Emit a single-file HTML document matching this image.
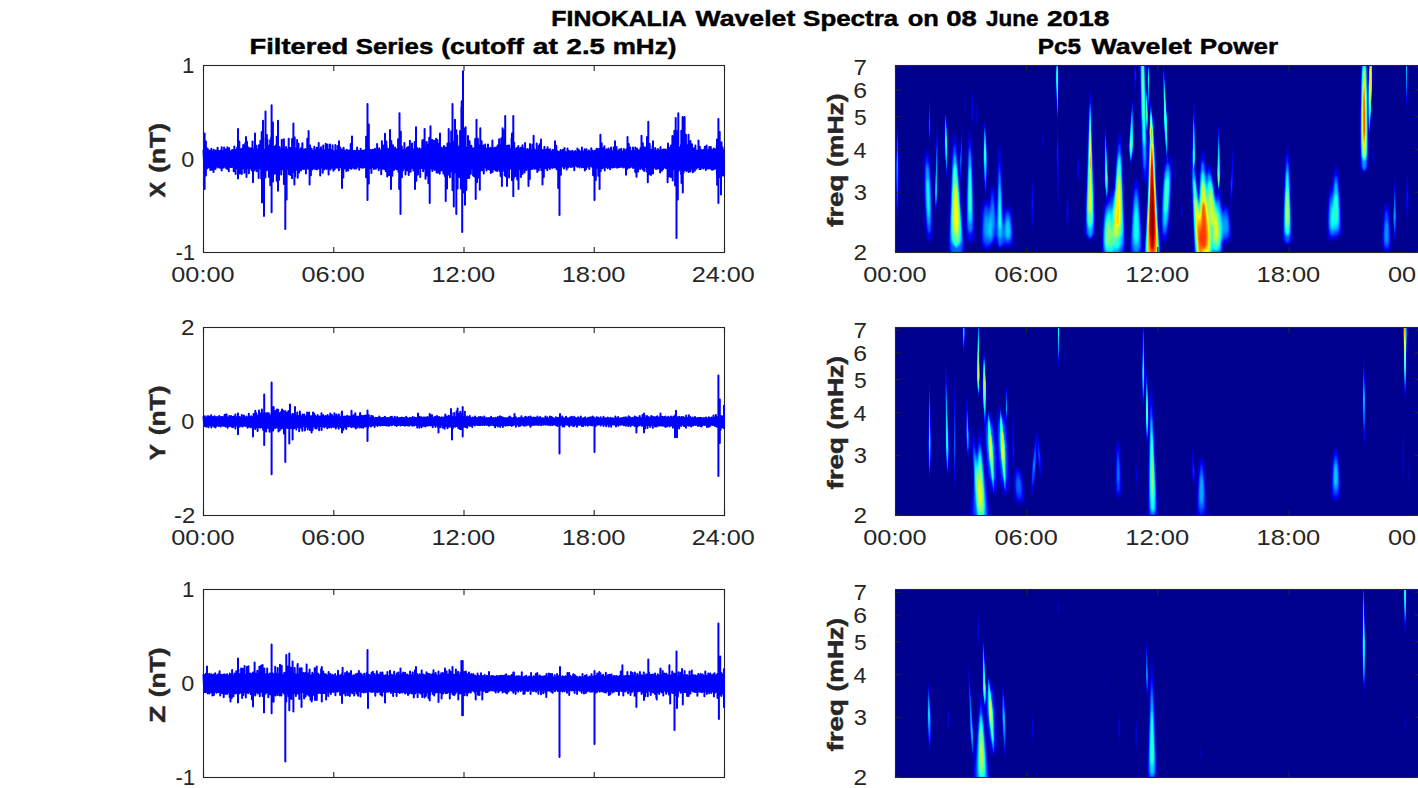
<!DOCTYPE html>
<html><head><meta charset="utf-8"><title>FINOKALIA Wavelet Spectra</title>
<style>
html,body{margin:0;padding:0;background:#fff;overflow:hidden}
svg{display:block;font-family:"Liberation Sans",sans-serif}
</style></head>
<body>
<svg width="1418" height="788" viewBox="0 0 1418 788">
<defs>
<filter id="jet" x="0" y="0" width="1" height="1" color-interpolation-filters="sRGB"><feComponentTransfer><feFuncR type="table" tableValues="0 0 0 0 .5 1 1 1 .5"/><feFuncG type="table" tableValues="0 0 .5 1 1 1 .5 0 0"/><feFuncB type="table" tableValues=".56 1 1 1 .5 0 0 0 0"/><feFuncA type="linear" slope="0" intercept="1"/></feComponentTransfer></filter>
<filter id="bA" x="-0.05" y="-0.2" width="1.1" height="1.4" color-interpolation-filters="sRGB"><feGaussianBlur stdDeviation="0.85 1.4"/></filter>
<filter id="bB" x="-0.05" y="-0.2" width="1.1" height="1.4" color-interpolation-filters="sRGB"><feGaussianBlur stdDeviation="0.4 1.0"/></filter>
<clipPath id="c0"><rect x="895.5" y="65.5" width="524.7" height="187"/></clipPath>
<linearGradient id="g0_00" gradientUnits="userSpaceOnUse" x1="0" y1="116.6" x2="0" y2="235.1"><stop offset="0.00" stop-color="#fff" stop-opacity="0.000"/><stop offset="0.20" stop-color="#fff" stop-opacity="0.090"/><stop offset="0.40" stop-color="#fff" stop-opacity="0.144"/><stop offset="0.70" stop-color="#fff" stop-opacity="0.090"/><stop offset="1.00" stop-color="#fff" stop-opacity="0.000"/></linearGradient>
<linearGradient id="g0_01" gradientUnits="userSpaceOnUse" x1="0" y1="116.6" x2="0" y2="235.1"><stop offset="0.00" stop-color="#fff" stop-opacity="0.000"/><stop offset="0.20" stop-color="#fff" stop-opacity="0.105"/><stop offset="0.40" stop-color="#fff" stop-opacity="0.169"/><stop offset="0.70" stop-color="#fff" stop-opacity="0.105"/><stop offset="1.00" stop-color="#fff" stop-opacity="0.000"/></linearGradient>
<linearGradient id="g0_10" gradientUnits="userSpaceOnUse" x1="0" y1="91.7" x2="0" y2="147.6"><stop offset="0.00" stop-color="#fff" stop-opacity="0.000"/><stop offset="0.30" stop-color="#fff" stop-opacity="0.072"/><stop offset="0.60" stop-color="#fff" stop-opacity="0.116"/><stop offset="0.80" stop-color="#fff" stop-opacity="0.072"/><stop offset="1.00" stop-color="#fff" stop-opacity="0.000"/></linearGradient>
<linearGradient id="g0_11" gradientUnits="userSpaceOnUse" x1="0" y1="91.7" x2="0" y2="147.6"><stop offset="0.00" stop-color="#fff" stop-opacity="0.000"/><stop offset="0.30" stop-color="#fff" stop-opacity="0.081"/><stop offset="0.60" stop-color="#fff" stop-opacity="0.131"/><stop offset="0.80" stop-color="#fff" stop-opacity="0.081"/><stop offset="1.00" stop-color="#fff" stop-opacity="0.000"/></linearGradient>
<linearGradient id="g0_30" gradientUnits="userSpaceOnUse" x1="0" y1="110.5" x2="0" y2="215.3"><stop offset="0.00" stop-color="#fff" stop-opacity="0.000"/><stop offset="0.40" stop-color="#fff" stop-opacity="0.107"/><stop offset="0.80" stop-color="#fff" stop-opacity="0.173"/><stop offset="0.90" stop-color="#fff" stop-opacity="0.107"/><stop offset="1.00" stop-color="#fff" stop-opacity="0.000"/></linearGradient>
<linearGradient id="g0_31" gradientUnits="userSpaceOnUse" x1="0" y1="110.5" x2="0" y2="215.3"><stop offset="0.00" stop-color="#fff" stop-opacity="0.000"/><stop offset="0.40" stop-color="#fff" stop-opacity="0.130"/><stop offset="0.80" stop-color="#fff" stop-opacity="0.210"/><stop offset="0.90" stop-color="#fff" stop-opacity="0.130"/><stop offset="1.00" stop-color="#fff" stop-opacity="0.000"/></linearGradient>
<linearGradient id="g0_40" gradientUnits="userSpaceOnUse" x1="0" y1="107" x2="0" y2="181.3"><stop offset="0.00" stop-color="#fff" stop-opacity="0.000"/><stop offset="0.23" stop-color="#fff" stop-opacity="0.136"/><stop offset="0.45" stop-color="#fff" stop-opacity="0.219"/><stop offset="0.73" stop-color="#fff" stop-opacity="0.136"/><stop offset="1.00" stop-color="#fff" stop-opacity="0.000"/></linearGradient>
<linearGradient id="g0_41" gradientUnits="userSpaceOnUse" x1="0" y1="107" x2="0" y2="181.3"><stop offset="0.00" stop-color="#fff" stop-opacity="0.000"/><stop offset="0.23" stop-color="#fff" stop-opacity="0.174"/><stop offset="0.45" stop-color="#fff" stop-opacity="0.281"/><stop offset="0.73" stop-color="#fff" stop-opacity="0.174"/><stop offset="1.00" stop-color="#fff" stop-opacity="0.000"/></linearGradient>
<linearGradient id="g0_60" gradientUnits="userSpaceOnUse" x1="0" y1="121.4" x2="0" y2="186.1"><stop offset="0.00" stop-color="#fff" stop-opacity="0.000"/><stop offset="0.30" stop-color="#fff" stop-opacity="0.072"/><stop offset="0.60" stop-color="#fff" stop-opacity="0.116"/><stop offset="0.80" stop-color="#fff" stop-opacity="0.072"/><stop offset="1.00" stop-color="#fff" stop-opacity="0.000"/></linearGradient>
<linearGradient id="g0_61" gradientUnits="userSpaceOnUse" x1="0" y1="121.4" x2="0" y2="186.1"><stop offset="0.00" stop-color="#fff" stop-opacity="0.000"/><stop offset="0.30" stop-color="#fff" stop-opacity="0.081"/><stop offset="0.60" stop-color="#fff" stop-opacity="0.131"/><stop offset="0.80" stop-color="#fff" stop-opacity="0.081"/><stop offset="1.00" stop-color="#fff" stop-opacity="0.000"/></linearGradient>
<linearGradient id="g0_70" gradientUnits="userSpaceOnUse" x1="0" y1="92.2" x2="0" y2="117.1"><stop offset="0.00" stop-color="#fff" stop-opacity="0.000"/><stop offset="0.25" stop-color="#fff" stop-opacity="0.043"/><stop offset="0.50" stop-color="#fff" stop-opacity="0.069"/><stop offset="0.75" stop-color="#fff" stop-opacity="0.043"/><stop offset="1.00" stop-color="#fff" stop-opacity="0.000"/></linearGradient>
<linearGradient id="g0_71" gradientUnits="userSpaceOnUse" x1="0" y1="92.2" x2="0" y2="117.1"><stop offset="0.00" stop-color="#fff" stop-opacity="0.000"/><stop offset="0.25" stop-color="#fff" stop-opacity="0.046"/><stop offset="0.50" stop-color="#fff" stop-opacity="0.074"/><stop offset="0.75" stop-color="#fff" stop-opacity="0.046"/><stop offset="1.00" stop-color="#fff" stop-opacity="0.000"/></linearGradient>
<linearGradient id="g0_90" gradientUnits="userSpaceOnUse" x1="0" y1="87.4" x2="0" y2="131.8"><stop offset="0.00" stop-color="#fff" stop-opacity="0.000"/><stop offset="0.25" stop-color="#fff" stop-opacity="0.043"/><stop offset="0.50" stop-color="#fff" stop-opacity="0.069"/><stop offset="0.75" stop-color="#fff" stop-opacity="0.043"/><stop offset="1.00" stop-color="#fff" stop-opacity="0.000"/></linearGradient>
<linearGradient id="g0_91" gradientUnits="userSpaceOnUse" x1="0" y1="87.4" x2="0" y2="131.8"><stop offset="0.00" stop-color="#fff" stop-opacity="0.000"/><stop offset="0.25" stop-color="#fff" stop-opacity="0.046"/><stop offset="0.50" stop-color="#fff" stop-opacity="0.074"/><stop offset="0.75" stop-color="#fff" stop-opacity="0.046"/><stop offset="1.00" stop-color="#fff" stop-opacity="0.000"/></linearGradient>
<linearGradient id="g0_100" gradientUnits="userSpaceOnUse" x1="0" y1="99.6" x2="0" y2="129.3"><stop offset="0.00" stop-color="#fff" stop-opacity="0.000"/><stop offset="0.25" stop-color="#fff" stop-opacity="0.043"/><stop offset="0.50" stop-color="#fff" stop-opacity="0.069"/><stop offset="0.75" stop-color="#fff" stop-opacity="0.043"/><stop offset="1.00" stop-color="#fff" stop-opacity="0.000"/></linearGradient>
<linearGradient id="g0_101" gradientUnits="userSpaceOnUse" x1="0" y1="99.6" x2="0" y2="129.3"><stop offset="0.00" stop-color="#fff" stop-opacity="0.000"/><stop offset="0.25" stop-color="#fff" stop-opacity="0.046"/><stop offset="0.50" stop-color="#fff" stop-opacity="0.074"/><stop offset="0.75" stop-color="#fff" stop-opacity="0.046"/><stop offset="1.00" stop-color="#fff" stop-opacity="0.000"/></linearGradient>
<linearGradient id="g0_110" gradientUnits="userSpaceOnUse" x1="0" y1="117.4" x2="0" y2="202.1"><stop offset="0.00" stop-color="#fff" stop-opacity="0.000"/><stop offset="0.20" stop-color="#fff" stop-opacity="0.136"/><stop offset="0.40" stop-color="#fff" stop-opacity="0.219"/><stop offset="0.70" stop-color="#fff" stop-opacity="0.136"/><stop offset="1.00" stop-color="#fff" stop-opacity="0.000"/></linearGradient>
<linearGradient id="g0_111" gradientUnits="userSpaceOnUse" x1="0" y1="117.4" x2="0" y2="202.1"><stop offset="0.00" stop-color="#fff" stop-opacity="0.000"/><stop offset="0.20" stop-color="#fff" stop-opacity="0.174"/><stop offset="0.40" stop-color="#fff" stop-opacity="0.281"/><stop offset="0.70" stop-color="#fff" stop-opacity="0.174"/><stop offset="1.00" stop-color="#fff" stop-opacity="0.000"/></linearGradient>
<linearGradient id="g0_160" gradientUnits="userSpaceOnUse" x1="0" y1="175" x2="0" y2="233.6"><stop offset="0.00" stop-color="#fff" stop-opacity="0.000"/><stop offset="0.25" stop-color="#fff" stop-opacity="0.047"/><stop offset="0.50" stop-color="#fff" stop-opacity="0.075"/><stop offset="0.75" stop-color="#fff" stop-opacity="0.047"/><stop offset="1.00" stop-color="#fff" stop-opacity="0.000"/></linearGradient>
<linearGradient id="g0_161" gradientUnits="userSpaceOnUse" x1="0" y1="175" x2="0" y2="233.6"><stop offset="0.00" stop-color="#fff" stop-opacity="0.000"/><stop offset="0.25" stop-color="#fff" stop-opacity="0.050"/><stop offset="0.50" stop-color="#fff" stop-opacity="0.081"/><stop offset="0.75" stop-color="#fff" stop-opacity="0.050"/><stop offset="1.00" stop-color="#fff" stop-opacity="0.000"/></linearGradient>
<linearGradient id="g0_170" gradientUnits="userSpaceOnUse" x1="0" y1="131.3" x2="0" y2="150.6"><stop offset="0.00" stop-color="#fff" stop-opacity="0.000"/><stop offset="0.25" stop-color="#fff" stop-opacity="0.029"/><stop offset="0.50" stop-color="#fff" stop-opacity="0.046"/><stop offset="0.75" stop-color="#fff" stop-opacity="0.029"/><stop offset="1.00" stop-color="#fff" stop-opacity="0.000"/></linearGradient>
<linearGradient id="g0_171" gradientUnits="userSpaceOnUse" x1="0" y1="131.3" x2="0" y2="150.6"><stop offset="0.00" stop-color="#fff" stop-opacity="0.000"/><stop offset="0.25" stop-color="#fff" stop-opacity="0.030"/><stop offset="0.50" stop-color="#fff" stop-opacity="0.048"/><stop offset="0.75" stop-color="#fff" stop-opacity="0.030"/><stop offset="1.00" stop-color="#fff" stop-opacity="0.000"/></linearGradient>
<linearGradient id="g0_180" gradientUnits="userSpaceOnUse" x1="0" y1="54.9" x2="0" y2="126"><stop offset="0.00" stop-color="#fff" stop-opacity="0.000"/><stop offset="0.12" stop-color="#fff" stop-opacity="0.179"/><stop offset="0.25" stop-color="#fff" stop-opacity="0.289"/><stop offset="0.62" stop-color="#fff" stop-opacity="0.179"/><stop offset="1.00" stop-color="#fff" stop-opacity="0.000"/></linearGradient>
<linearGradient id="g0_181" gradientUnits="userSpaceOnUse" x1="0" y1="54.9" x2="0" y2="126"><stop offset="0.00" stop-color="#fff" stop-opacity="0.000"/><stop offset="0.12" stop-color="#fff" stop-opacity="0.252"/><stop offset="0.25" stop-color="#fff" stop-opacity="0.406"/><stop offset="0.62" stop-color="#fff" stop-opacity="0.252"/><stop offset="1.00" stop-color="#fff" stop-opacity="0.000"/></linearGradient>
<linearGradient id="g0_190" gradientUnits="userSpaceOnUse" x1="0" y1="118.4" x2="0" y2="225"><stop offset="0.00" stop-color="#fff" stop-opacity="0.000"/><stop offset="0.15" stop-color="#fff" stop-opacity="0.057"/><stop offset="0.30" stop-color="#fff" stop-opacity="0.092"/><stop offset="0.65" stop-color="#fff" stop-opacity="0.057"/><stop offset="1.00" stop-color="#fff" stop-opacity="0.000"/></linearGradient>
<linearGradient id="g0_191" gradientUnits="userSpaceOnUse" x1="0" y1="118.4" x2="0" y2="225"><stop offset="0.00" stop-color="#fff" stop-opacity="0.000"/><stop offset="0.15" stop-color="#fff" stop-opacity="0.063"/><stop offset="0.30" stop-color="#fff" stop-opacity="0.102"/><stop offset="0.65" stop-color="#fff" stop-opacity="0.063"/><stop offset="1.00" stop-color="#fff" stop-opacity="0.000"/></linearGradient>
<linearGradient id="g0_200" gradientUnits="userSpaceOnUse" x1="0" y1="189.7" x2="0" y2="233.6"><stop offset="0.00" stop-color="#fff" stop-opacity="0.000"/><stop offset="0.25" stop-color="#fff" stop-opacity="0.043"/><stop offset="0.50" stop-color="#fff" stop-opacity="0.069"/><stop offset="0.75" stop-color="#fff" stop-opacity="0.043"/><stop offset="1.00" stop-color="#fff" stop-opacity="0.000"/></linearGradient>
<linearGradient id="g0_201" gradientUnits="userSpaceOnUse" x1="0" y1="189.7" x2="0" y2="233.6"><stop offset="0.00" stop-color="#fff" stop-opacity="0.000"/><stop offset="0.25" stop-color="#fff" stop-opacity="0.046"/><stop offset="0.50" stop-color="#fff" stop-opacity="0.074"/><stop offset="0.75" stop-color="#fff" stop-opacity="0.046"/><stop offset="1.00" stop-color="#fff" stop-opacity="0.000"/></linearGradient>
<linearGradient id="g0_210" gradientUnits="userSpaceOnUse" x1="0" y1="150.6" x2="0" y2="184.9"><stop offset="0.00" stop-color="#fff" stop-opacity="0.000"/><stop offset="0.25" stop-color="#fff" stop-opacity="0.036"/><stop offset="0.50" stop-color="#fff" stop-opacity="0.058"/><stop offset="0.75" stop-color="#fff" stop-opacity="0.036"/><stop offset="1.00" stop-color="#fff" stop-opacity="0.000"/></linearGradient>
<linearGradient id="g0_211" gradientUnits="userSpaceOnUse" x1="0" y1="150.6" x2="0" y2="184.9"><stop offset="0.00" stop-color="#fff" stop-opacity="0.000"/><stop offset="0.25" stop-color="#fff" stop-opacity="0.038"/><stop offset="0.50" stop-color="#fff" stop-opacity="0.061"/><stop offset="0.75" stop-color="#fff" stop-opacity="0.038"/><stop offset="1.00" stop-color="#fff" stop-opacity="0.000"/></linearGradient>
<linearGradient id="g0_230" gradientUnits="userSpaceOnUse" x1="0" y1="84.1" x2="0" y2="179.3"><stop offset="0.00" stop-color="#fff" stop-opacity="0.000"/><stop offset="0.42" stop-color="#fff" stop-opacity="0.150"/><stop offset="0.85" stop-color="#fff" stop-opacity="0.243"/><stop offset="0.93" stop-color="#fff" stop-opacity="0.150"/><stop offset="1.00" stop-color="#fff" stop-opacity="0.000"/></linearGradient>
<linearGradient id="g0_231" gradientUnits="userSpaceOnUse" x1="0" y1="84.1" x2="0" y2="179.3"><stop offset="0.00" stop-color="#fff" stop-opacity="0.000"/><stop offset="0.42" stop-color="#fff" stop-opacity="0.199"/><stop offset="0.85" stop-color="#fff" stop-opacity="0.320"/><stop offset="0.93" stop-color="#fff" stop-opacity="0.199"/><stop offset="1.00" stop-color="#fff" stop-opacity="0.000"/></linearGradient>
<linearGradient id="g0_240" gradientUnits="userSpaceOnUse" x1="0" y1="119.1" x2="0" y2="204.7"><stop offset="0.00" stop-color="#fff" stop-opacity="0.000"/><stop offset="0.35" stop-color="#fff" stop-opacity="0.143"/><stop offset="0.70" stop-color="#fff" stop-opacity="0.231"/><stop offset="0.85" stop-color="#fff" stop-opacity="0.143"/><stop offset="1.00" stop-color="#fff" stop-opacity="0.000"/></linearGradient>
<linearGradient id="g0_241" gradientUnits="userSpaceOnUse" x1="0" y1="119.1" x2="0" y2="204.7"><stop offset="0.00" stop-color="#fff" stop-opacity="0.000"/><stop offset="0.35" stop-color="#fff" stop-opacity="0.186"/><stop offset="0.70" stop-color="#fff" stop-opacity="0.300"/><stop offset="0.85" stop-color="#fff" stop-opacity="0.186"/><stop offset="1.00" stop-color="#fff" stop-opacity="0.000"/></linearGradient>
<linearGradient id="g0_280" gradientUnits="userSpaceOnUse" x1="0" y1="94.8" x2="0" y2="166.6"><stop offset="0.00" stop-color="#fff" stop-opacity="0.000"/><stop offset="0.35" stop-color="#fff" stop-opacity="0.150"/><stop offset="0.70" stop-color="#fff" stop-opacity="0.243"/><stop offset="0.85" stop-color="#fff" stop-opacity="0.150"/><stop offset="1.00" stop-color="#fff" stop-opacity="0.000"/></linearGradient>
<linearGradient id="g0_281" gradientUnits="userSpaceOnUse" x1="0" y1="94.8" x2="0" y2="166.6"><stop offset="0.00" stop-color="#fff" stop-opacity="0.000"/><stop offset="0.35" stop-color="#fff" stop-opacity="0.199"/><stop offset="0.70" stop-color="#fff" stop-opacity="0.320"/><stop offset="0.85" stop-color="#fff" stop-opacity="0.199"/><stop offset="1.00" stop-color="#fff" stop-opacity="0.000"/></linearGradient>
<linearGradient id="g0_290" gradientUnits="userSpaceOnUse" x1="0" y1="61.3" x2="0" y2="100.6"><stop offset="0.00" stop-color="#fff" stop-opacity="0.000"/><stop offset="0.15" stop-color="#fff" stop-opacity="0.061"/><stop offset="0.30" stop-color="#fff" stop-opacity="0.098"/><stop offset="0.65" stop-color="#fff" stop-opacity="0.061"/><stop offset="1.00" stop-color="#fff" stop-opacity="0.000"/></linearGradient>
<linearGradient id="g0_291" gradientUnits="userSpaceOnUse" x1="0" y1="61.3" x2="0" y2="100.6"><stop offset="0.00" stop-color="#fff" stop-opacity="0.000"/><stop offset="0.15" stop-color="#fff" stop-opacity="0.067"/><stop offset="0.30" stop-color="#fff" stop-opacity="0.109"/><stop offset="0.65" stop-color="#fff" stop-opacity="0.067"/><stop offset="1.00" stop-color="#fff" stop-opacity="0.000"/></linearGradient>
<linearGradient id="g0_320" gradientUnits="userSpaceOnUse" x1="0" y1="87.4" x2="0" y2="136.1"><stop offset="0.00" stop-color="#fff" stop-opacity="0.000"/><stop offset="0.25" stop-color="#fff" stop-opacity="0.143"/><stop offset="0.50" stop-color="#fff" stop-opacity="0.231"/><stop offset="0.75" stop-color="#fff" stop-opacity="0.143"/><stop offset="1.00" stop-color="#fff" stop-opacity="0.000"/></linearGradient>
<linearGradient id="g0_321" gradientUnits="userSpaceOnUse" x1="0" y1="87.4" x2="0" y2="136.1"><stop offset="0.00" stop-color="#fff" stop-opacity="0.000"/><stop offset="0.25" stop-color="#fff" stop-opacity="0.186"/><stop offset="0.50" stop-color="#fff" stop-opacity="0.300"/><stop offset="0.75" stop-color="#fff" stop-opacity="0.186"/><stop offset="1.00" stop-color="#fff" stop-opacity="0.000"/></linearGradient>
<linearGradient id="g0_330" gradientUnits="userSpaceOnUse" x1="0" y1="61.3" x2="0" y2="114.6"><stop offset="0.00" stop-color="#fff" stop-opacity="0.000"/><stop offset="0.15" stop-color="#fff" stop-opacity="0.129"/><stop offset="0.30" stop-color="#fff" stop-opacity="0.208"/><stop offset="0.65" stop-color="#fff" stop-opacity="0.129"/><stop offset="1.00" stop-color="#fff" stop-opacity="0.000"/></linearGradient>
<linearGradient id="g0_331" gradientUnits="userSpaceOnUse" x1="0" y1="61.3" x2="0" y2="114.6"><stop offset="0.00" stop-color="#fff" stop-opacity="0.000"/><stop offset="0.15" stop-color="#fff" stop-opacity="0.163"/><stop offset="0.30" stop-color="#fff" stop-opacity="0.262"/><stop offset="0.65" stop-color="#fff" stop-opacity="0.163"/><stop offset="1.00" stop-color="#fff" stop-opacity="0.000"/></linearGradient>
<linearGradient id="g0_340" gradientUnits="userSpaceOnUse" x1="0" y1="98.1" x2="0" y2="145"><stop offset="0.00" stop-color="#fff" stop-opacity="0.000"/><stop offset="0.35" stop-color="#fff" stop-opacity="0.168"/><stop offset="0.70" stop-color="#fff" stop-opacity="0.271"/><stop offset="0.85" stop-color="#fff" stop-opacity="0.168"/><stop offset="1.00" stop-color="#fff" stop-opacity="0.000"/></linearGradient>
<linearGradient id="g0_341" gradientUnits="userSpaceOnUse" x1="0" y1="98.1" x2="0" y2="145"><stop offset="0.00" stop-color="#fff" stop-opacity="0.000"/><stop offset="0.35" stop-color="#fff" stop-opacity="0.231"/><stop offset="0.70" stop-color="#fff" stop-opacity="0.373"/><stop offset="0.85" stop-color="#fff" stop-opacity="0.231"/><stop offset="1.00" stop-color="#fff" stop-opacity="0.000"/></linearGradient>
<linearGradient id="g0_370" gradientUnits="userSpaceOnUse" x1="0" y1="57.5" x2="0" y2="167.9"><stop offset="0.00" stop-color="#fff" stop-opacity="0.000"/><stop offset="0.28" stop-color="#fff" stop-opacity="0.161"/><stop offset="0.55" stop-color="#fff" stop-opacity="0.260"/><stop offset="0.78" stop-color="#fff" stop-opacity="0.161"/><stop offset="1.00" stop-color="#fff" stop-opacity="0.000"/></linearGradient>
<linearGradient id="g0_371" gradientUnits="userSpaceOnUse" x1="0" y1="57.5" x2="0" y2="167.9"><stop offset="0.00" stop-color="#fff" stop-opacity="0.000"/><stop offset="0.28" stop-color="#fff" stop-opacity="0.218"/><stop offset="0.55" stop-color="#fff" stop-opacity="0.351"/><stop offset="0.78" stop-color="#fff" stop-opacity="0.218"/><stop offset="1.00" stop-color="#fff" stop-opacity="0.000"/></linearGradient>
<linearGradient id="g0_390" gradientUnits="userSpaceOnUse" x1="0" y1="145.8" x2="0" y2="194.5"><stop offset="0.00" stop-color="#fff" stop-opacity="0.000"/><stop offset="0.25" stop-color="#fff" stop-opacity="0.032"/><stop offset="0.50" stop-color="#fff" stop-opacity="0.052"/><stop offset="0.75" stop-color="#fff" stop-opacity="0.032"/><stop offset="1.00" stop-color="#fff" stop-opacity="0.000"/></linearGradient>
<linearGradient id="g0_391" gradientUnits="userSpaceOnUse" x1="0" y1="145.8" x2="0" y2="194.5"><stop offset="0.00" stop-color="#fff" stop-opacity="0.000"/><stop offset="0.25" stop-color="#fff" stop-opacity="0.034"/><stop offset="0.50" stop-color="#fff" stop-opacity="0.055"/><stop offset="0.75" stop-color="#fff" stop-opacity="0.034"/><stop offset="1.00" stop-color="#fff" stop-opacity="0.000"/></linearGradient>
<linearGradient id="g0_400" gradientUnits="userSpaceOnUse" x1="0" y1="199.3" x2="0" y2="222.4"><stop offset="0.00" stop-color="#fff" stop-opacity="0.000"/><stop offset="0.25" stop-color="#fff" stop-opacity="0.032"/><stop offset="0.50" stop-color="#fff" stop-opacity="0.052"/><stop offset="0.75" stop-color="#fff" stop-opacity="0.032"/><stop offset="1.00" stop-color="#fff" stop-opacity="0.000"/></linearGradient>
<linearGradient id="g0_401" gradientUnits="userSpaceOnUse" x1="0" y1="199.3" x2="0" y2="222.4"><stop offset="0.00" stop-color="#fff" stop-opacity="0.000"/><stop offset="0.25" stop-color="#fff" stop-opacity="0.034"/><stop offset="0.50" stop-color="#fff" stop-opacity="0.055"/><stop offset="0.75" stop-color="#fff" stop-opacity="0.034"/><stop offset="1.00" stop-color="#fff" stop-opacity="0.000"/></linearGradient>
<linearGradient id="g0_410" gradientUnits="userSpaceOnUse" x1="0" y1="97.1" x2="0" y2="171.7"><stop offset="0.00" stop-color="#fff" stop-opacity="0.000"/><stop offset="0.42" stop-color="#fff" stop-opacity="0.143"/><stop offset="0.85" stop-color="#fff" stop-opacity="0.231"/><stop offset="0.93" stop-color="#fff" stop-opacity="0.143"/><stop offset="1.00" stop-color="#fff" stop-opacity="0.000"/></linearGradient>
<linearGradient id="g0_411" gradientUnits="userSpaceOnUse" x1="0" y1="97.1" x2="0" y2="171.7"><stop offset="0.00" stop-color="#fff" stop-opacity="0.000"/><stop offset="0.42" stop-color="#fff" stop-opacity="0.186"/><stop offset="0.85" stop-color="#fff" stop-opacity="0.300"/><stop offset="0.93" stop-color="#fff" stop-opacity="0.186"/><stop offset="1.00" stop-color="#fff" stop-opacity="0.000"/></linearGradient>
<linearGradient id="g0_450" gradientUnits="userSpaceOnUse" x1="0" y1="119.1" x2="0" y2="192"><stop offset="0.00" stop-color="#fff" stop-opacity="0.000"/><stop offset="0.42" stop-color="#fff" stop-opacity="0.150"/><stop offset="0.85" stop-color="#fff" stop-opacity="0.243"/><stop offset="0.93" stop-color="#fff" stop-opacity="0.150"/><stop offset="1.00" stop-color="#fff" stop-opacity="0.000"/></linearGradient>
<linearGradient id="g0_451" gradientUnits="userSpaceOnUse" x1="0" y1="119.1" x2="0" y2="192"><stop offset="0.00" stop-color="#fff" stop-opacity="0.000"/><stop offset="0.42" stop-color="#fff" stop-opacity="0.199"/><stop offset="0.85" stop-color="#fff" stop-opacity="0.320"/><stop offset="0.93" stop-color="#fff" stop-opacity="0.199"/><stop offset="1.00" stop-color="#fff" stop-opacity="0.000"/></linearGradient>
<linearGradient id="g0_480" gradientUnits="userSpaceOnUse" x1="0" y1="141" x2="0" y2="210.3"><stop offset="0.00" stop-color="#fff" stop-opacity="0.000"/><stop offset="0.30" stop-color="#fff" stop-opacity="0.061"/><stop offset="0.60" stop-color="#fff" stop-opacity="0.098"/><stop offset="0.80" stop-color="#fff" stop-opacity="0.061"/><stop offset="1.00" stop-color="#fff" stop-opacity="0.000"/></linearGradient>
<linearGradient id="g0_481" gradientUnits="userSpaceOnUse" x1="0" y1="141" x2="0" y2="210.3"><stop offset="0.00" stop-color="#fff" stop-opacity="0.000"/><stop offset="0.30" stop-color="#fff" stop-opacity="0.067"/><stop offset="0.60" stop-color="#fff" stop-opacity="0.109"/><stop offset="0.80" stop-color="#fff" stop-opacity="0.067"/><stop offset="1.00" stop-color="#fff" stop-opacity="0.000"/></linearGradient>
<linearGradient id="g0_530" gradientUnits="userSpaceOnUse" x1="0" y1="29.5" x2="0" y2="141.7"><stop offset="0.00" stop-color="#fff" stop-opacity="0.000"/><stop offset="0.23" stop-color="#fff" stop-opacity="0.208"/><stop offset="0.45" stop-color="#fff" stop-opacity="0.335"/><stop offset="0.73" stop-color="#fff" stop-opacity="0.208"/><stop offset="1.00" stop-color="#fff" stop-opacity="0.000"/></linearGradient>
<linearGradient id="g0_531" gradientUnits="userSpaceOnUse" x1="0" y1="29.5" x2="0" y2="141.7"><stop offset="0.00" stop-color="#fff" stop-opacity="0.000"/><stop offset="0.23" stop-color="#fff" stop-opacity="0.312"/><stop offset="0.45" stop-color="#fff" stop-opacity="0.504"/><stop offset="0.73" stop-color="#fff" stop-opacity="0.312"/><stop offset="1.00" stop-color="#fff" stop-opacity="0.000"/></linearGradient>
<linearGradient id="g0_540" gradientUnits="userSpaceOnUse" x1="0" y1="141" x2="0" y2="170.2"><stop offset="0.00" stop-color="#fff" stop-opacity="0.000"/><stop offset="0.25" stop-color="#fff" stop-opacity="0.036"/><stop offset="0.50" stop-color="#fff" stop-opacity="0.058"/><stop offset="0.75" stop-color="#fff" stop-opacity="0.036"/><stop offset="1.00" stop-color="#fff" stop-opacity="0.000"/></linearGradient>
<linearGradient id="g0_541" gradientUnits="userSpaceOnUse" x1="0" y1="141" x2="0" y2="170.2"><stop offset="0.00" stop-color="#fff" stop-opacity="0.000"/><stop offset="0.25" stop-color="#fff" stop-opacity="0.038"/><stop offset="0.50" stop-color="#fff" stop-opacity="0.061"/><stop offset="0.75" stop-color="#fff" stop-opacity="0.038"/><stop offset="1.00" stop-color="#fff" stop-opacity="0.000"/></linearGradient>
<linearGradient id="g0_560" gradientUnits="userSpaceOnUse" x1="0" y1="175" x2="0" y2="243.8"><stop offset="0.00" stop-color="#fff" stop-opacity="0.000"/><stop offset="0.30" stop-color="#fff" stop-opacity="0.090"/><stop offset="0.60" stop-color="#fff" stop-opacity="0.144"/><stop offset="0.80" stop-color="#fff" stop-opacity="0.090"/><stop offset="1.00" stop-color="#fff" stop-opacity="0.000"/></linearGradient>
<linearGradient id="g0_561" gradientUnits="userSpaceOnUse" x1="0" y1="175" x2="0" y2="243.8"><stop offset="0.00" stop-color="#fff" stop-opacity="0.000"/><stop offset="0.30" stop-color="#fff" stop-opacity="0.105"/><stop offset="0.60" stop-color="#fff" stop-opacity="0.169"/><stop offset="0.80" stop-color="#fff" stop-opacity="0.105"/><stop offset="1.00" stop-color="#fff" stop-opacity="0.000"/></linearGradient>
<linearGradient id="g0_570" gradientUnits="userSpaceOnUse" x1="0" y1="54.9" x2="0" y2="112"><stop offset="0.00" stop-color="#fff" stop-opacity="0.000"/><stop offset="0.10" stop-color="#fff" stop-opacity="0.107"/><stop offset="0.20" stop-color="#fff" stop-opacity="0.173"/><stop offset="0.60" stop-color="#fff" stop-opacity="0.107"/><stop offset="1.00" stop-color="#fff" stop-opacity="0.000"/></linearGradient>
<linearGradient id="g0_571" gradientUnits="userSpaceOnUse" x1="0" y1="54.9" x2="0" y2="112"><stop offset="0.00" stop-color="#fff" stop-opacity="0.000"/><stop offset="0.10" stop-color="#fff" stop-opacity="0.130"/><stop offset="0.20" stop-color="#fff" stop-opacity="0.210"/><stop offset="0.60" stop-color="#fff" stop-opacity="0.130"/><stop offset="1.00" stop-color="#fff" stop-opacity="0.000"/></linearGradient>
<linearGradient id="g0_580" gradientUnits="userSpaceOnUse" x1="0" y1="167.9" x2="0" y2="224.5"><stop offset="0.00" stop-color="#fff" stop-opacity="0.000"/><stop offset="0.25" stop-color="#fff" stop-opacity="0.047"/><stop offset="0.50" stop-color="#fff" stop-opacity="0.075"/><stop offset="0.75" stop-color="#fff" stop-opacity="0.047"/><stop offset="1.00" stop-color="#fff" stop-opacity="0.000"/></linearGradient>
<linearGradient id="g0_581" gradientUnits="userSpaceOnUse" x1="0" y1="167.9" x2="0" y2="224.5"><stop offset="0.00" stop-color="#fff" stop-opacity="0.000"/><stop offset="0.25" stop-color="#fff" stop-opacity="0.050"/><stop offset="0.50" stop-color="#fff" stop-opacity="0.081"/><stop offset="0.75" stop-color="#fff" stop-opacity="0.050"/><stop offset="1.00" stop-color="#fff" stop-opacity="0.000"/></linearGradient>
<clipPath id="c1"><rect x="895.5" y="327.5" width="524.7" height="188"/></clipPath>
<linearGradient id="g1_00" gradientUnits="userSpaceOnUse" x1="0" y1="373.8" x2="0" y2="484.4"><stop offset="0.00" stop-color="#fff" stop-opacity="0.000"/><stop offset="0.31" stop-color="#fff" stop-opacity="0.118"/><stop offset="0.62" stop-color="#fff" stop-opacity="0.191"/><stop offset="0.81" stop-color="#fff" stop-opacity="0.118"/><stop offset="1.00" stop-color="#fff" stop-opacity="0.000"/></linearGradient>
<linearGradient id="g1_01" gradientUnits="userSpaceOnUse" x1="0" y1="373.8" x2="0" y2="484.4"><stop offset="0.00" stop-color="#fff" stop-opacity="0.000"/><stop offset="0.31" stop-color="#fff" stop-opacity="0.146"/><stop offset="0.62" stop-color="#fff" stop-opacity="0.235"/><stop offset="0.81" stop-color="#fff" stop-opacity="0.146"/><stop offset="1.00" stop-color="#fff" stop-opacity="0.000"/></linearGradient>
<linearGradient id="g1_10" gradientUnits="userSpaceOnUse" x1="0" y1="353" x2="0" y2="481.9"><stop offset="0.00" stop-color="#fff" stop-opacity="0.000"/><stop offset="0.35" stop-color="#fff" stop-opacity="0.129"/><stop offset="0.70" stop-color="#fff" stop-opacity="0.208"/><stop offset="0.85" stop-color="#fff" stop-opacity="0.129"/><stop offset="1.00" stop-color="#fff" stop-opacity="0.000"/></linearGradient>
<linearGradient id="g1_11" gradientUnits="userSpaceOnUse" x1="0" y1="353" x2="0" y2="481.9"><stop offset="0.00" stop-color="#fff" stop-opacity="0.000"/><stop offset="0.35" stop-color="#fff" stop-opacity="0.163"/><stop offset="0.70" stop-color="#fff" stop-opacity="0.262"/><stop offset="0.85" stop-color="#fff" stop-opacity="0.163"/><stop offset="1.00" stop-color="#fff" stop-opacity="0.000"/></linearGradient>
<linearGradient id="g1_20" gradientUnits="userSpaceOnUse" x1="0" y1="366.4" x2="0" y2="494.1"><stop offset="0.00" stop-color="#fff" stop-opacity="0.000"/><stop offset="0.30" stop-color="#fff" stop-opacity="0.072"/><stop offset="0.60" stop-color="#fff" stop-opacity="0.116"/><stop offset="0.80" stop-color="#fff" stop-opacity="0.072"/><stop offset="1.00" stop-color="#fff" stop-opacity="0.000"/></linearGradient>
<linearGradient id="g1_21" gradientUnits="userSpaceOnUse" x1="0" y1="366.4" x2="0" y2="494.1"><stop offset="0.00" stop-color="#fff" stop-opacity="0.000"/><stop offset="0.30" stop-color="#fff" stop-opacity="0.081"/><stop offset="0.60" stop-color="#fff" stop-opacity="0.131"/><stop offset="0.80" stop-color="#fff" stop-opacity="0.081"/><stop offset="1.00" stop-color="#fff" stop-opacity="0.000"/></linearGradient>
<linearGradient id="g1_30" gradientUnits="userSpaceOnUse" x1="0" y1="311.8" x2="0" y2="356.3"><stop offset="0.00" stop-color="#fff" stop-opacity="0.000"/><stop offset="0.20" stop-color="#fff" stop-opacity="0.118"/><stop offset="0.40" stop-color="#fff" stop-opacity="0.191"/><stop offset="0.70" stop-color="#fff" stop-opacity="0.118"/><stop offset="1.00" stop-color="#fff" stop-opacity="0.000"/></linearGradient>
<linearGradient id="g1_31" gradientUnits="userSpaceOnUse" x1="0" y1="311.8" x2="0" y2="356.3"><stop offset="0.00" stop-color="#fff" stop-opacity="0.000"/><stop offset="0.20" stop-color="#fff" stop-opacity="0.146"/><stop offset="0.40" stop-color="#fff" stop-opacity="0.235"/><stop offset="0.70" stop-color="#fff" stop-opacity="0.146"/><stop offset="1.00" stop-color="#fff" stop-opacity="0.000"/></linearGradient>
<linearGradient id="g1_40" gradientUnits="userSpaceOnUse" x1="0" y1="393.3" x2="0" y2="462.1"><stop offset="0.00" stop-color="#fff" stop-opacity="0.000"/><stop offset="0.30" stop-color="#fff" stop-opacity="0.107"/><stop offset="0.60" stop-color="#fff" stop-opacity="0.173"/><stop offset="0.80" stop-color="#fff" stop-opacity="0.107"/><stop offset="1.00" stop-color="#fff" stop-opacity="0.000"/></linearGradient>
<linearGradient id="g1_41" gradientUnits="userSpaceOnUse" x1="0" y1="393.3" x2="0" y2="462.1"><stop offset="0.00" stop-color="#fff" stop-opacity="0.000"/><stop offset="0.30" stop-color="#fff" stop-opacity="0.130"/><stop offset="0.60" stop-color="#fff" stop-opacity="0.210"/><stop offset="0.80" stop-color="#fff" stop-opacity="0.130"/><stop offset="1.00" stop-color="#fff" stop-opacity="0.000"/></linearGradient>
<linearGradient id="g1_50" gradientUnits="userSpaceOnUse" x1="0" y1="306.8" x2="0" y2="399.4"><stop offset="0.00" stop-color="#fff" stop-opacity="0.000"/><stop offset="0.38" stop-color="#fff" stop-opacity="0.179"/><stop offset="0.75" stop-color="#fff" stop-opacity="0.289"/><stop offset="0.88" stop-color="#fff" stop-opacity="0.179"/><stop offset="1.00" stop-color="#fff" stop-opacity="0.000"/></linearGradient>
<linearGradient id="g1_51" gradientUnits="userSpaceOnUse" x1="0" y1="306.8" x2="0" y2="399.4"><stop offset="0.00" stop-color="#fff" stop-opacity="0.000"/><stop offset="0.38" stop-color="#fff" stop-opacity="0.252"/><stop offset="0.75" stop-color="#fff" stop-opacity="0.406"/><stop offset="0.88" stop-color="#fff" stop-opacity="0.252"/><stop offset="1.00" stop-color="#fff" stop-opacity="0.000"/></linearGradient>
<linearGradient id="g1_60" gradientUnits="userSpaceOnUse" x1="0" y1="348.1" x2="0" y2="428.6"><stop offset="0.00" stop-color="#fff" stop-opacity="0.000"/><stop offset="0.23" stop-color="#fff" stop-opacity="0.179"/><stop offset="0.45" stop-color="#fff" stop-opacity="0.289"/><stop offset="0.73" stop-color="#fff" stop-opacity="0.179"/><stop offset="1.00" stop-color="#fff" stop-opacity="0.000"/></linearGradient>
<linearGradient id="g1_61" gradientUnits="userSpaceOnUse" x1="0" y1="348.1" x2="0" y2="428.6"><stop offset="0.00" stop-color="#fff" stop-opacity="0.000"/><stop offset="0.23" stop-color="#fff" stop-opacity="0.252"/><stop offset="0.45" stop-color="#fff" stop-opacity="0.406"/><stop offset="0.73" stop-color="#fff" stop-opacity="0.252"/><stop offset="1.00" stop-color="#fff" stop-opacity="0.000"/></linearGradient>
<linearGradient id="g1_100" gradientUnits="userSpaceOnUse" x1="0" y1="407" x2="0" y2="498.4"><stop offset="0.00" stop-color="#fff" stop-opacity="0.000"/><stop offset="0.20" stop-color="#fff" stop-opacity="0.150"/><stop offset="0.40" stop-color="#fff" stop-opacity="0.243"/><stop offset="0.70" stop-color="#fff" stop-opacity="0.150"/><stop offset="1.00" stop-color="#fff" stop-opacity="0.000"/></linearGradient>
<linearGradient id="g1_101" gradientUnits="userSpaceOnUse" x1="0" y1="407" x2="0" y2="498.4"><stop offset="0.00" stop-color="#fff" stop-opacity="0.000"/><stop offset="0.20" stop-color="#fff" stop-opacity="0.199"/><stop offset="0.40" stop-color="#fff" stop-opacity="0.320"/><stop offset="0.70" stop-color="#fff" stop-opacity="0.199"/><stop offset="1.00" stop-color="#fff" stop-opacity="0.000"/></linearGradient>
<linearGradient id="g1_120" gradientUnits="userSpaceOnUse" x1="0" y1="404.5" x2="0" y2="498.4"><stop offset="0.00" stop-color="#fff" stop-opacity="0.000"/><stop offset="0.20" stop-color="#fff" stop-opacity="0.161"/><stop offset="0.40" stop-color="#fff" stop-opacity="0.260"/><stop offset="0.70" stop-color="#fff" stop-opacity="0.161"/><stop offset="1.00" stop-color="#fff" stop-opacity="0.000"/></linearGradient>
<linearGradient id="g1_121" gradientUnits="userSpaceOnUse" x1="0" y1="404.5" x2="0" y2="498.4"><stop offset="0.00" stop-color="#fff" stop-opacity="0.000"/><stop offset="0.20" stop-color="#fff" stop-opacity="0.218"/><stop offset="0.40" stop-color="#fff" stop-opacity="0.351"/><stop offset="0.70" stop-color="#fff" stop-opacity="0.218"/><stop offset="1.00" stop-color="#fff" stop-opacity="0.000"/></linearGradient>
<linearGradient id="g1_140" gradientUnits="userSpaceOnUse" x1="0" y1="383.4" x2="0" y2="423.5"><stop offset="0.00" stop-color="#fff" stop-opacity="0.000"/><stop offset="0.30" stop-color="#fff" stop-opacity="0.093"/><stop offset="0.60" stop-color="#fff" stop-opacity="0.150"/><stop offset="0.80" stop-color="#fff" stop-opacity="0.093"/><stop offset="1.00" stop-color="#fff" stop-opacity="0.000"/></linearGradient>
<linearGradient id="g1_141" gradientUnits="userSpaceOnUse" x1="0" y1="383.4" x2="0" y2="423.5"><stop offset="0.00" stop-color="#fff" stop-opacity="0.000"/><stop offset="0.30" stop-color="#fff" stop-opacity="0.110"/><stop offset="0.60" stop-color="#fff" stop-opacity="0.177"/><stop offset="0.80" stop-color="#fff" stop-opacity="0.110"/><stop offset="1.00" stop-color="#fff" stop-opacity="0.000"/></linearGradient>
<linearGradient id="g1_150" gradientUnits="userSpaceOnUse" x1="0" y1="407.8" x2="0" y2="476.8"><stop offset="0.00" stop-color="#fff" stop-opacity="0.000"/><stop offset="0.30" stop-color="#fff" stop-opacity="0.054"/><stop offset="0.60" stop-color="#fff" stop-opacity="0.087"/><stop offset="0.80" stop-color="#fff" stop-opacity="0.054"/><stop offset="1.00" stop-color="#fff" stop-opacity="0.000"/></linearGradient>
<linearGradient id="g1_151" gradientUnits="userSpaceOnUse" x1="0" y1="407.8" x2="0" y2="476.8"><stop offset="0.00" stop-color="#fff" stop-opacity="0.000"/><stop offset="0.30" stop-color="#fff" stop-opacity="0.059"/><stop offset="0.60" stop-color="#fff" stop-opacity="0.095"/><stop offset="0.80" stop-color="#fff" stop-opacity="0.059"/><stop offset="1.00" stop-color="#fff" stop-opacity="0.000"/></linearGradient>
<linearGradient id="g1_170" gradientUnits="userSpaceOnUse" x1="0" y1="427.3" x2="0" y2="501.2"><stop offset="0.00" stop-color="#fff" stop-opacity="0.000"/><stop offset="0.25" stop-color="#fff" stop-opacity="0.079"/><stop offset="0.50" stop-color="#fff" stop-opacity="0.127"/><stop offset="0.75" stop-color="#fff" stop-opacity="0.079"/><stop offset="1.00" stop-color="#fff" stop-opacity="0.000"/></linearGradient>
<linearGradient id="g1_171" gradientUnits="userSpaceOnUse" x1="0" y1="427.3" x2="0" y2="501.2"><stop offset="0.00" stop-color="#fff" stop-opacity="0.000"/><stop offset="0.25" stop-color="#fff" stop-opacity="0.090"/><stop offset="0.50" stop-color="#fff" stop-opacity="0.146"/><stop offset="0.75" stop-color="#fff" stop-opacity="0.090"/><stop offset="1.00" stop-color="#fff" stop-opacity="0.000"/></linearGradient>
<linearGradient id="g1_180" gradientUnits="userSpaceOnUse" x1="0" y1="427.3" x2="0" y2="481.9"><stop offset="0.00" stop-color="#fff" stop-opacity="0.000"/><stop offset="0.25" stop-color="#fff" stop-opacity="0.061"/><stop offset="0.50" stop-color="#fff" stop-opacity="0.098"/><stop offset="0.75" stop-color="#fff" stop-opacity="0.061"/><stop offset="1.00" stop-color="#fff" stop-opacity="0.000"/></linearGradient>
<linearGradient id="g1_181" gradientUnits="userSpaceOnUse" x1="0" y1="427.3" x2="0" y2="481.9"><stop offset="0.00" stop-color="#fff" stop-opacity="0.000"/><stop offset="0.25" stop-color="#fff" stop-opacity="0.067"/><stop offset="0.50" stop-color="#fff" stop-opacity="0.109"/><stop offset="0.75" stop-color="#fff" stop-opacity="0.067"/><stop offset="1.00" stop-color="#fff" stop-opacity="0.000"/></linearGradient>
<linearGradient id="g1_190" gradientUnits="userSpaceOnUse" x1="0" y1="311.8" x2="0" y2="369.7"><stop offset="0.00" stop-color="#fff" stop-opacity="0.000"/><stop offset="0.15" stop-color="#fff" stop-opacity="0.129"/><stop offset="0.30" stop-color="#fff" stop-opacity="0.208"/><stop offset="0.65" stop-color="#fff" stop-opacity="0.129"/><stop offset="1.00" stop-color="#fff" stop-opacity="0.000"/></linearGradient>
<linearGradient id="g1_191" gradientUnits="userSpaceOnUse" x1="0" y1="311.8" x2="0" y2="369.7"><stop offset="0.00" stop-color="#fff" stop-opacity="0.000"/><stop offset="0.15" stop-color="#fff" stop-opacity="0.163"/><stop offset="0.30" stop-color="#fff" stop-opacity="0.262"/><stop offset="0.65" stop-color="#fff" stop-opacity="0.163"/><stop offset="1.00" stop-color="#fff" stop-opacity="0.000"/></linearGradient>
<linearGradient id="g1_210" gradientUnits="userSpaceOnUse" x1="0" y1="456.5" x2="0" y2="491.5"><stop offset="0.00" stop-color="#fff" stop-opacity="0.000"/><stop offset="0.25" stop-color="#fff" stop-opacity="0.036"/><stop offset="0.50" stop-color="#fff" stop-opacity="0.058"/><stop offset="0.75" stop-color="#fff" stop-opacity="0.036"/><stop offset="1.00" stop-color="#fff" stop-opacity="0.000"/></linearGradient>
<linearGradient id="g1_211" gradientUnits="userSpaceOnUse" x1="0" y1="456.5" x2="0" y2="491.5"><stop offset="0.00" stop-color="#fff" stop-opacity="0.000"/><stop offset="0.25" stop-color="#fff" stop-opacity="0.038"/><stop offset="0.50" stop-color="#fff" stop-opacity="0.061"/><stop offset="0.75" stop-color="#fff" stop-opacity="0.038"/><stop offset="1.00" stop-color="#fff" stop-opacity="0.000"/></linearGradient>
<linearGradient id="g1_220" gradientUnits="userSpaceOnUse" x1="0" y1="311.8" x2="0" y2="411.3"><stop offset="0.00" stop-color="#fff" stop-opacity="0.000"/><stop offset="0.30" stop-color="#fff" stop-opacity="0.129"/><stop offset="0.60" stop-color="#fff" stop-opacity="0.208"/><stop offset="0.80" stop-color="#fff" stop-opacity="0.129"/><stop offset="1.00" stop-color="#fff" stop-opacity="0.000"/></linearGradient>
<linearGradient id="g1_221" gradientUnits="userSpaceOnUse" x1="0" y1="311.8" x2="0" y2="411.3"><stop offset="0.00" stop-color="#fff" stop-opacity="0.000"/><stop offset="0.30" stop-color="#fff" stop-opacity="0.163"/><stop offset="0.60" stop-color="#fff" stop-opacity="0.262"/><stop offset="0.80" stop-color="#fff" stop-opacity="0.163"/><stop offset="1.00" stop-color="#fff" stop-opacity="0.000"/></linearGradient>
<linearGradient id="g1_230" gradientUnits="userSpaceOnUse" x1="0" y1="366.4" x2="0" y2="447.6"><stop offset="0.00" stop-color="#fff" stop-opacity="0.000"/><stop offset="0.28" stop-color="#fff" stop-opacity="0.161"/><stop offset="0.55" stop-color="#fff" stop-opacity="0.260"/><stop offset="0.78" stop-color="#fff" stop-opacity="0.161"/><stop offset="1.00" stop-color="#fff" stop-opacity="0.000"/></linearGradient>
<linearGradient id="g1_231" gradientUnits="userSpaceOnUse" x1="0" y1="366.4" x2="0" y2="447.6"><stop offset="0.00" stop-color="#fff" stop-opacity="0.000"/><stop offset="0.28" stop-color="#fff" stop-opacity="0.218"/><stop offset="0.55" stop-color="#fff" stop-opacity="0.351"/><stop offset="0.78" stop-color="#fff" stop-opacity="0.218"/><stop offset="1.00" stop-color="#fff" stop-opacity="0.000"/></linearGradient>
<linearGradient id="g1_250" gradientUnits="userSpaceOnUse" x1="0" y1="443.8" x2="0" y2="489.5"><stop offset="0.00" stop-color="#fff" stop-opacity="0.000"/><stop offset="0.30" stop-color="#fff" stop-opacity="0.057"/><stop offset="0.60" stop-color="#fff" stop-opacity="0.092"/><stop offset="0.80" stop-color="#fff" stop-opacity="0.057"/><stop offset="1.00" stop-color="#fff" stop-opacity="0.000"/></linearGradient>
<linearGradient id="g1_251" gradientUnits="userSpaceOnUse" x1="0" y1="443.8" x2="0" y2="489.5"><stop offset="0.00" stop-color="#fff" stop-opacity="0.000"/><stop offset="0.30" stop-color="#fff" stop-opacity="0.063"/><stop offset="0.60" stop-color="#fff" stop-opacity="0.102"/><stop offset="0.80" stop-color="#fff" stop-opacity="0.063"/><stop offset="1.00" stop-color="#fff" stop-opacity="0.000"/></linearGradient>
<linearGradient id="g1_280" gradientUnits="userSpaceOnUse" x1="0" y1="352.5" x2="0" y2="452.7"><stop offset="0.00" stop-color="#fff" stop-opacity="0.000"/><stop offset="0.23" stop-color="#fff" stop-opacity="0.107"/><stop offset="0.45" stop-color="#fff" stop-opacity="0.173"/><stop offset="0.73" stop-color="#fff" stop-opacity="0.107"/><stop offset="1.00" stop-color="#fff" stop-opacity="0.000"/></linearGradient>
<linearGradient id="g1_281" gradientUnits="userSpaceOnUse" x1="0" y1="352.5" x2="0" y2="452.7"><stop offset="0.00" stop-color="#fff" stop-opacity="0.000"/><stop offset="0.23" stop-color="#fff" stop-opacity="0.130"/><stop offset="0.45" stop-color="#fff" stop-opacity="0.210"/><stop offset="0.73" stop-color="#fff" stop-opacity="0.130"/><stop offset="1.00" stop-color="#fff" stop-opacity="0.000"/></linearGradient>
<linearGradient id="g1_290" gradientUnits="userSpaceOnUse" x1="0" y1="289" x2="0" y2="405.8"><stop offset="0.00" stop-color="#fff" stop-opacity="0.000"/><stop offset="0.14" stop-color="#fff" stop-opacity="0.240"/><stop offset="0.28" stop-color="#fff" stop-opacity="0.387"/><stop offset="0.64" stop-color="#fff" stop-opacity="0.240"/><stop offset="1.00" stop-color="#fff" stop-opacity="0.000"/></linearGradient>
<linearGradient id="g1_291" gradientUnits="userSpaceOnUse" x1="0" y1="289" x2="0" y2="405.8"><stop offset="0.00" stop-color="#fff" stop-opacity="0.000"/><stop offset="0.14" stop-color="#fff" stop-opacity="0.391"/><stop offset="0.28" stop-color="#fff" stop-opacity="0.631"/><stop offset="0.64" stop-color="#fff" stop-opacity="0.391"/><stop offset="1.00" stop-color="#fff" stop-opacity="0.000"/></linearGradient>
<linearGradient id="g1_300" gradientUnits="userSpaceOnUse" x1="0" y1="423.5" x2="0" y2="490.8"><stop offset="0.00" stop-color="#fff" stop-opacity="0.000"/><stop offset="0.25" stop-color="#fff" stop-opacity="0.036"/><stop offset="0.50" stop-color="#fff" stop-opacity="0.058"/><stop offset="0.75" stop-color="#fff" stop-opacity="0.036"/><stop offset="1.00" stop-color="#fff" stop-opacity="0.000"/></linearGradient>
<linearGradient id="g1_301" gradientUnits="userSpaceOnUse" x1="0" y1="423.5" x2="0" y2="490.8"><stop offset="0.00" stop-color="#fff" stop-opacity="0.000"/><stop offset="0.25" stop-color="#fff" stop-opacity="0.038"/><stop offset="0.50" stop-color="#fff" stop-opacity="0.061"/><stop offset="0.75" stop-color="#fff" stop-opacity="0.038"/><stop offset="1.00" stop-color="#fff" stop-opacity="0.000"/></linearGradient>
<linearGradient id="g1_310" gradientUnits="userSpaceOnUse" x1="0" y1="454" x2="0" y2="490.8"><stop offset="0.00" stop-color="#fff" stop-opacity="0.000"/><stop offset="0.25" stop-color="#fff" stop-opacity="0.029"/><stop offset="0.50" stop-color="#fff" stop-opacity="0.046"/><stop offset="0.75" stop-color="#fff" stop-opacity="0.029"/><stop offset="1.00" stop-color="#fff" stop-opacity="0.000"/></linearGradient>
<linearGradient id="g1_311" gradientUnits="userSpaceOnUse" x1="0" y1="454" x2="0" y2="490.8"><stop offset="0.00" stop-color="#fff" stop-opacity="0.000"/><stop offset="0.25" stop-color="#fff" stop-opacity="0.030"/><stop offset="0.50" stop-color="#fff" stop-opacity="0.048"/><stop offset="0.75" stop-color="#fff" stop-opacity="0.030"/><stop offset="1.00" stop-color="#fff" stop-opacity="0.000"/></linearGradient>
<clipPath id="c2"><rect x="895.5" y="589.5" width="524.7" height="188"/></clipPath>
<linearGradient id="g2_00" gradientUnits="userSpaceOnUse" x1="0" y1="679.7" x2="0" y2="756.1"><stop offset="0.00" stop-color="#fff" stop-opacity="0.000"/><stop offset="0.23" stop-color="#fff" stop-opacity="0.107"/><stop offset="0.45" stop-color="#fff" stop-opacity="0.173"/><stop offset="0.73" stop-color="#fff" stop-opacity="0.107"/><stop offset="1.00" stop-color="#fff" stop-opacity="0.000"/></linearGradient>
<linearGradient id="g2_01" gradientUnits="userSpaceOnUse" x1="0" y1="679.7" x2="0" y2="756.1"><stop offset="0.00" stop-color="#fff" stop-opacity="0.000"/><stop offset="0.23" stop-color="#fff" stop-opacity="0.130"/><stop offset="0.45" stop-color="#fff" stop-opacity="0.210"/><stop offset="0.73" stop-color="#fff" stop-opacity="0.130"/><stop offset="1.00" stop-color="#fff" stop-opacity="0.000"/></linearGradient>
<linearGradient id="g2_10" gradientUnits="userSpaceOnUse" x1="0" y1="706.3" x2="0" y2="731.2"><stop offset="0.00" stop-color="#fff" stop-opacity="0.000"/><stop offset="0.25" stop-color="#fff" stop-opacity="0.036"/><stop offset="0.50" stop-color="#fff" stop-opacity="0.058"/><stop offset="0.75" stop-color="#fff" stop-opacity="0.036"/><stop offset="1.00" stop-color="#fff" stop-opacity="0.000"/></linearGradient>
<linearGradient id="g2_11" gradientUnits="userSpaceOnUse" x1="0" y1="706.3" x2="0" y2="731.2"><stop offset="0.00" stop-color="#fff" stop-opacity="0.000"/><stop offset="0.25" stop-color="#fff" stop-opacity="0.038"/><stop offset="0.50" stop-color="#fff" stop-opacity="0.061"/><stop offset="0.75" stop-color="#fff" stop-opacity="0.038"/><stop offset="1.00" stop-color="#fff" stop-opacity="0.000"/></linearGradient>
<linearGradient id="g2_20" gradientUnits="userSpaceOnUse" x1="0" y1="659.1" x2="0" y2="763.7"><stop offset="0.00" stop-color="#fff" stop-opacity="0.000"/><stop offset="0.35" stop-color="#fff" stop-opacity="0.100"/><stop offset="0.70" stop-color="#fff" stop-opacity="0.162"/><stop offset="0.85" stop-color="#fff" stop-opacity="0.100"/><stop offset="1.00" stop-color="#fff" stop-opacity="0.000"/></linearGradient>
<linearGradient id="g2_21" gradientUnits="userSpaceOnUse" x1="0" y1="659.1" x2="0" y2="763.7"><stop offset="0.00" stop-color="#fff" stop-opacity="0.000"/><stop offset="0.35" stop-color="#fff" stop-opacity="0.120"/><stop offset="0.70" stop-color="#fff" stop-opacity="0.193"/><stop offset="0.85" stop-color="#fff" stop-opacity="0.120"/><stop offset="1.00" stop-color="#fff" stop-opacity="0.000"/></linearGradient>
<linearGradient id="g2_30" gradientUnits="userSpaceOnUse" x1="0" y1="608.9" x2="0" y2="650.8"><stop offset="0.00" stop-color="#fff" stop-opacity="0.000"/><stop offset="0.25" stop-color="#fff" stop-opacity="0.036"/><stop offset="0.50" stop-color="#fff" stop-opacity="0.058"/><stop offset="0.75" stop-color="#fff" stop-opacity="0.036"/><stop offset="1.00" stop-color="#fff" stop-opacity="0.000"/></linearGradient>
<linearGradient id="g2_31" gradientUnits="userSpaceOnUse" x1="0" y1="608.9" x2="0" y2="650.8"><stop offset="0.00" stop-color="#fff" stop-opacity="0.000"/><stop offset="0.25" stop-color="#fff" stop-opacity="0.038"/><stop offset="0.50" stop-color="#fff" stop-opacity="0.061"/><stop offset="0.75" stop-color="#fff" stop-opacity="0.038"/><stop offset="1.00" stop-color="#fff" stop-opacity="0.000"/></linearGradient>
<linearGradient id="g2_40" gradientUnits="userSpaceOnUse" x1="0" y1="631" x2="0" y2="710.9"><stop offset="0.00" stop-color="#fff" stop-opacity="0.000"/><stop offset="0.35" stop-color="#fff" stop-opacity="0.150"/><stop offset="0.70" stop-color="#fff" stop-opacity="0.243"/><stop offset="0.85" stop-color="#fff" stop-opacity="0.150"/><stop offset="1.00" stop-color="#fff" stop-opacity="0.000"/></linearGradient>
<linearGradient id="g2_41" gradientUnits="userSpaceOnUse" x1="0" y1="631" x2="0" y2="710.9"><stop offset="0.00" stop-color="#fff" stop-opacity="0.000"/><stop offset="0.35" stop-color="#fff" stop-opacity="0.199"/><stop offset="0.70" stop-color="#fff" stop-opacity="0.320"/><stop offset="0.85" stop-color="#fff" stop-opacity="0.199"/><stop offset="1.00" stop-color="#fff" stop-opacity="0.000"/></linearGradient>
<linearGradient id="g2_70" gradientUnits="userSpaceOnUse" x1="0" y1="672.3" x2="0" y2="759.1"><stop offset="0.00" stop-color="#fff" stop-opacity="0.000"/><stop offset="0.21" stop-color="#fff" stop-opacity="0.150"/><stop offset="0.42" stop-color="#fff" stop-opacity="0.243"/><stop offset="0.71" stop-color="#fff" stop-opacity="0.150"/><stop offset="1.00" stop-color="#fff" stop-opacity="0.000"/></linearGradient>
<linearGradient id="g2_71" gradientUnits="userSpaceOnUse" x1="0" y1="672.3" x2="0" y2="759.1"><stop offset="0.00" stop-color="#fff" stop-opacity="0.000"/><stop offset="0.21" stop-color="#fff" stop-opacity="0.199"/><stop offset="0.42" stop-color="#fff" stop-opacity="0.320"/><stop offset="0.71" stop-color="#fff" stop-opacity="0.199"/><stop offset="1.00" stop-color="#fff" stop-opacity="0.000"/></linearGradient>
<linearGradient id="g2_90" gradientUnits="userSpaceOnUse" x1="0" y1="679.7" x2="0" y2="763.2"><stop offset="0.00" stop-color="#fff" stop-opacity="0.000"/><stop offset="0.23" stop-color="#fff" stop-opacity="0.100"/><stop offset="0.45" stop-color="#fff" stop-opacity="0.162"/><stop offset="0.73" stop-color="#fff" stop-opacity="0.100"/><stop offset="1.00" stop-color="#fff" stop-opacity="0.000"/></linearGradient>
<linearGradient id="g2_91" gradientUnits="userSpaceOnUse" x1="0" y1="679.7" x2="0" y2="763.2"><stop offset="0.00" stop-color="#fff" stop-opacity="0.000"/><stop offset="0.23" stop-color="#fff" stop-opacity="0.120"/><stop offset="0.45" stop-color="#fff" stop-opacity="0.193"/><stop offset="0.73" stop-color="#fff" stop-opacity="0.120"/><stop offset="1.00" stop-color="#fff" stop-opacity="0.000"/></linearGradient>
<linearGradient id="g2_100" gradientUnits="userSpaceOnUse" x1="0" y1="706.3" x2="0" y2="748.5"><stop offset="0.00" stop-color="#fff" stop-opacity="0.000"/><stop offset="0.25" stop-color="#fff" stop-opacity="0.036"/><stop offset="0.50" stop-color="#fff" stop-opacity="0.058"/><stop offset="0.75" stop-color="#fff" stop-opacity="0.036"/><stop offset="1.00" stop-color="#fff" stop-opacity="0.000"/></linearGradient>
<linearGradient id="g2_101" gradientUnits="userSpaceOnUse" x1="0" y1="706.3" x2="0" y2="748.5"><stop offset="0.00" stop-color="#fff" stop-opacity="0.000"/><stop offset="0.25" stop-color="#fff" stop-opacity="0.038"/><stop offset="0.50" stop-color="#fff" stop-opacity="0.061"/><stop offset="0.75" stop-color="#fff" stop-opacity="0.038"/><stop offset="1.00" stop-color="#fff" stop-opacity="0.000"/></linearGradient>
<linearGradient id="g2_110" gradientUnits="userSpaceOnUse" x1="0" y1="599.2" x2="0" y2="618.3"><stop offset="0.00" stop-color="#fff" stop-opacity="0.000"/><stop offset="0.25" stop-color="#fff" stop-opacity="0.025"/><stop offset="0.50" stop-color="#fff" stop-opacity="0.040"/><stop offset="0.75" stop-color="#fff" stop-opacity="0.025"/><stop offset="1.00" stop-color="#fff" stop-opacity="0.000"/></linearGradient>
<linearGradient id="g2_111" gradientUnits="userSpaceOnUse" x1="0" y1="599.2" x2="0" y2="618.3"><stop offset="0.00" stop-color="#fff" stop-opacity="0.000"/><stop offset="0.25" stop-color="#fff" stop-opacity="0.026"/><stop offset="0.50" stop-color="#fff" stop-opacity="0.042"/><stop offset="0.75" stop-color="#fff" stop-opacity="0.026"/><stop offset="1.00" stop-color="#fff" stop-opacity="0.000"/></linearGradient>
<linearGradient id="g2_120" gradientUnits="userSpaceOnUse" x1="0" y1="677.9" x2="0" y2="691.9"><stop offset="0.00" stop-color="#fff" stop-opacity="0.000"/><stop offset="0.25" stop-color="#fff" stop-opacity="0.025"/><stop offset="0.50" stop-color="#fff" stop-opacity="0.040"/><stop offset="0.75" stop-color="#fff" stop-opacity="0.025"/><stop offset="1.00" stop-color="#fff" stop-opacity="0.000"/></linearGradient>
<linearGradient id="g2_121" gradientUnits="userSpaceOnUse" x1="0" y1="677.9" x2="0" y2="691.9"><stop offset="0.00" stop-color="#fff" stop-opacity="0.000"/><stop offset="0.25" stop-color="#fff" stop-opacity="0.026"/><stop offset="0.50" stop-color="#fff" stop-opacity="0.042"/><stop offset="0.75" stop-color="#fff" stop-opacity="0.026"/><stop offset="1.00" stop-color="#fff" stop-opacity="0.000"/></linearGradient>
<linearGradient id="g2_130" gradientUnits="userSpaceOnUse" x1="0" y1="705.8" x2="0" y2="747.7"><stop offset="0.00" stop-color="#fff" stop-opacity="0.000"/><stop offset="0.25" stop-color="#fff" stop-opacity="0.036"/><stop offset="0.50" stop-color="#fff" stop-opacity="0.058"/><stop offset="0.75" stop-color="#fff" stop-opacity="0.036"/><stop offset="1.00" stop-color="#fff" stop-opacity="0.000"/></linearGradient>
<linearGradient id="g2_131" gradientUnits="userSpaceOnUse" x1="0" y1="705.8" x2="0" y2="747.7"><stop offset="0.00" stop-color="#fff" stop-opacity="0.000"/><stop offset="0.25" stop-color="#fff" stop-opacity="0.038"/><stop offset="0.50" stop-color="#fff" stop-opacity="0.061"/><stop offset="0.75" stop-color="#fff" stop-opacity="0.038"/><stop offset="1.00" stop-color="#fff" stop-opacity="0.000"/></linearGradient>
<linearGradient id="g2_140" gradientUnits="userSpaceOnUse" x1="0" y1="716" x2="0" y2="752.8"><stop offset="0.00" stop-color="#fff" stop-opacity="0.000"/><stop offset="0.25" stop-color="#fff" stop-opacity="0.036"/><stop offset="0.50" stop-color="#fff" stop-opacity="0.058"/><stop offset="0.75" stop-color="#fff" stop-opacity="0.036"/><stop offset="1.00" stop-color="#fff" stop-opacity="0.000"/></linearGradient>
<linearGradient id="g2_141" gradientUnits="userSpaceOnUse" x1="0" y1="716" x2="0" y2="752.8"><stop offset="0.00" stop-color="#fff" stop-opacity="0.000"/><stop offset="0.25" stop-color="#fff" stop-opacity="0.038"/><stop offset="0.50" stop-color="#fff" stop-opacity="0.061"/><stop offset="0.75" stop-color="#fff" stop-opacity="0.038"/><stop offset="1.00" stop-color="#fff" stop-opacity="0.000"/></linearGradient>
<linearGradient id="g2_150" gradientUnits="userSpaceOnUse" x1="0" y1="637.3" x2="0" y2="700.8"><stop offset="0.00" stop-color="#fff" stop-opacity="0.000"/><stop offset="0.30" stop-color="#fff" stop-opacity="0.093"/><stop offset="0.60" stop-color="#fff" stop-opacity="0.150"/><stop offset="0.80" stop-color="#fff" stop-opacity="0.093"/><stop offset="1.00" stop-color="#fff" stop-opacity="0.000"/></linearGradient>
<linearGradient id="g2_151" gradientUnits="userSpaceOnUse" x1="0" y1="637.3" x2="0" y2="700.8"><stop offset="0.00" stop-color="#fff" stop-opacity="0.000"/><stop offset="0.30" stop-color="#fff" stop-opacity="0.110"/><stop offset="0.60" stop-color="#fff" stop-opacity="0.177"/><stop offset="0.80" stop-color="#fff" stop-opacity="0.110"/><stop offset="1.00" stop-color="#fff" stop-opacity="0.000"/></linearGradient>
<linearGradient id="g2_170" gradientUnits="userSpaceOnUse" x1="0" y1="741.4" x2="0" y2="762.9"><stop offset="0.00" stop-color="#fff" stop-opacity="0.000"/><stop offset="0.25" stop-color="#fff" stop-opacity="0.032"/><stop offset="0.50" stop-color="#fff" stop-opacity="0.052"/><stop offset="0.75" stop-color="#fff" stop-opacity="0.032"/><stop offset="1.00" stop-color="#fff" stop-opacity="0.000"/></linearGradient>
<linearGradient id="g2_171" gradientUnits="userSpaceOnUse" x1="0" y1="741.4" x2="0" y2="762.9"><stop offset="0.00" stop-color="#fff" stop-opacity="0.000"/><stop offset="0.25" stop-color="#fff" stop-opacity="0.034"/><stop offset="0.50" stop-color="#fff" stop-opacity="0.055"/><stop offset="0.75" stop-color="#fff" stop-opacity="0.034"/><stop offset="1.00" stop-color="#fff" stop-opacity="0.000"/></linearGradient>
<linearGradient id="g2_180" gradientUnits="userSpaceOnUse" x1="0" y1="573.8" x2="0" y2="699.5"><stop offset="0.00" stop-color="#fff" stop-opacity="0.000"/><stop offset="0.28" stop-color="#fff" stop-opacity="0.150"/><stop offset="0.55" stop-color="#fff" stop-opacity="0.243"/><stop offset="0.78" stop-color="#fff" stop-opacity="0.150"/><stop offset="1.00" stop-color="#fff" stop-opacity="0.000"/></linearGradient>
<linearGradient id="g2_181" gradientUnits="userSpaceOnUse" x1="0" y1="573.8" x2="0" y2="699.5"><stop offset="0.00" stop-color="#fff" stop-opacity="0.000"/><stop offset="0.28" stop-color="#fff" stop-opacity="0.199"/><stop offset="0.55" stop-color="#fff" stop-opacity="0.320"/><stop offset="0.78" stop-color="#fff" stop-opacity="0.199"/><stop offset="1.00" stop-color="#fff" stop-opacity="0.000"/></linearGradient>
<linearGradient id="g2_190" gradientUnits="userSpaceOnUse" x1="0" y1="568.8" x2="0" y2="638.6"><stop offset="0.00" stop-color="#fff" stop-opacity="0.000"/><stop offset="0.15" stop-color="#fff" stop-opacity="0.161"/><stop offset="0.30" stop-color="#fff" stop-opacity="0.260"/><stop offset="0.65" stop-color="#fff" stop-opacity="0.161"/><stop offset="1.00" stop-color="#fff" stop-opacity="0.000"/></linearGradient>
<linearGradient id="g2_191" gradientUnits="userSpaceOnUse" x1="0" y1="568.8" x2="0" y2="638.6"><stop offset="0.00" stop-color="#fff" stop-opacity="0.000"/><stop offset="0.15" stop-color="#fff" stop-opacity="0.218"/><stop offset="0.30" stop-color="#fff" stop-opacity="0.351"/><stop offset="0.65" stop-color="#fff" stop-opacity="0.218"/><stop offset="1.00" stop-color="#fff" stop-opacity="0.000"/></linearGradient>
<linearGradient id="g2_200" gradientUnits="userSpaceOnUse" x1="0" y1="713.4" x2="0" y2="732.5"><stop offset="0.00" stop-color="#fff" stop-opacity="0.000"/><stop offset="0.25" stop-color="#fff" stop-opacity="0.025"/><stop offset="0.50" stop-color="#fff" stop-opacity="0.040"/><stop offset="0.75" stop-color="#fff" stop-opacity="0.025"/><stop offset="1.00" stop-color="#fff" stop-opacity="0.000"/></linearGradient>
<linearGradient id="g2_201" gradientUnits="userSpaceOnUse" x1="0" y1="713.4" x2="0" y2="732.5"><stop offset="0.00" stop-color="#fff" stop-opacity="0.000"/><stop offset="0.25" stop-color="#fff" stop-opacity="0.026"/><stop offset="0.50" stop-color="#fff" stop-opacity="0.042"/><stop offset="0.75" stop-color="#fff" stop-opacity="0.026"/><stop offset="1.00" stop-color="#fff" stop-opacity="0.000"/></linearGradient>
</defs>
<rect width="1418" height="788" fill="#fff"/>
<rect x="203.5" y="65.5" width="521" height="187" fill="none" stroke="#262626" stroke-width="1.1"/>
<path d="M203.5 252.5v-5.5 M203.5 65.5v5.5 M333.8 252.5v-5.5 M333.8 65.5v5.5 M464 252.5v-5.5 M464 65.5v5.5 M594.2 252.5v-5.5 M594.2 65.5v5.5 M724.5 252.5v-5.5 M724.5 65.5v5.5 M203.5 65.5h5.5 M724.5 65.5h-5.5 M203.5 159h5.5 M724.5 159h-5.5 M203.5 252.5h5.5 M724.5 252.5h-5.5" stroke="#262626" stroke-width="1.1" fill="none"/>
<path d="M203.5 150.8 204.3 167.3 205.2 150.2 206 167.1 206.9 150.8 207.7 167.2 208.6 151.3 209.4 167.1 210.3 150.8 211.1 167.4 212 151.6 212.8 166.7 213.7 151.7 214.5 167.3 215.4 150.9 216.2 166.2 217.1 150.5 217.9 167.5 218.8 151 219.6 167 220.5 151.6 221.3 166.2 222.2 151.1 223 166.2 223.9 151.6 224.7 166.5 225.6 151.8 226.4 166.8 227.3 151.2 228.1 167.3 229 151.1 229.8 167 230.7 151.2 231.5 167.1 232.4 151.2 233.2 166.8 234.1 150.1 234.9 168 235.8 150 236.6 167.9 237.5 150.5 238.3 167.5 239.2 150.2 240 167.6 240.9 149.3 241.7 168.2 242.6 149.1 243.4 168.2 244.3 148.9 245.1 169 246 150.3 246.8 168.1 247.7 148.8 248.5 168.6 249.4 148.6 250.2 168.5 251.1 149.9 251.9 169 252.8 148.7 253.6 168.5 254.5 149.8 255.3 168.7 256.2 148.2 257 169.5 257.9 149.6 258.7 168.7 259.6 149.5 260.4 168.4 261.3 148.3 262.1 168.6 263 148.7 263.8 169.1 264.7 149.4 265.5 169.5 266.4 149.5 267.2 169.4 268.1 149.5 268.9 169 269.8 149.3 270.7 168.8 271.5 148 272.4 169.7 273.2 149.2 274.1 169.8 274.9 149.3 275.8 169 276.6 148.2 277.5 169.4 278.3 149.5 279.2 170 280 149.3 280.9 168.8 281.7 148.4 282.6 168.9 283.4 149.2 284.3 168.4 285.1 149.5 286 169.3 286.8 149.3 287.7 169.3 288.5 149.1 289.4 169.1 290.2 148.1 291.1 169.1 291.9 148.7 292.8 169.8 293.6 149.4 294.5 168.6 295.3 148.2 296.2 169.7 297 149.3 297.9 168.6 298.7 148.5 299.6 169.7 300.4 149.7 301.3 169.5 302.1 148.8 303 168.7 303.8 149.7 304.7 167.7 305.5 150.5 306.4 168.9 307.2 150.2 308.1 168.5 308.9 150.2 309.8 168.6 310.6 149.7 311.5 167.8 312.3 150.4 313.2 168.4 314 150.6 314.9 167.6 315.7 149.9 316.6 168.5 317.4 149.8 318.3 167.7 319.1 149.4 320 167.5 320.8 150.8 321.7 167.6 322.5 150.2 323.4 167.2 324.2 150.6 325.1 167.7 325.9 150.1 326.8 167.3 327.6 150.4 328.5 168.4 329.3 149.5 330.2 168 331 150 331.9 167.7 332.7 151 333.6 166.8 334.4 151.3 335.3 167.8 336.1 150.5 337 167.8 337.8 151.6 338.7 167.1 339.5 151.1 340.4 167.1 341.2 151.4 342.1 167.5 342.9 151.7 343.8 166.9 344.6 150.8 345.5 167.4 346.3 150.8 347.2 167.1 348 150.8 348.9 167.4 349.7 151.4 350.6 167.1 351.4 150.6 352.3 167.3 353.1 151.3 354 167.2 354.8 150.7 355.7 166.9 356.5 151 357.4 166.7 358.2 151.1 359.1 167 359.9 151.7 360.8 167.1 361.6 150.4 362.5 167.5 363.3 150.7 364.2 166.9 365 150.6 365.9 167.2 366.7 150.9 367.6 167.7 368.4 151.4 369.3 167.6 370.1 151.4 371 167.5 371.8 150.6 372.7 167.1 373.5 150.1 374.4 167.6 375.2 150.1 376.1 168.4 376.9 150.5 377.8 167.2 378.6 150.3 379.5 168.3 380.3 150.4 381.2 167.7 382 149.1 382.9 168.5 383.7 149.8 384.6 168.9 385.4 150 386.3 168.6 387.1 150.2 388 168.2 388.8 149.2 389.7 169 390.5 149 391.4 168.2 392.2 149.5 393.1 168.1 393.9 150.1 394.8 168.4 395.6 149 396.5 169 397.3 149.2 398.2 169.2 399 149.8 399.9 168 400.7 149.5 401.6 168.2 402.4 149.9 403.3 168.4 404.1 149.2 405 168.6 405.8 149.7 406.7 169.2 407.5 148.6 408.4 168.6 409.2 150 410.1 167.9 410.9 148.7 411.8 168 412.6 148.9 413.5 168.9 414.3 149.6 415.2 169.2 416 150 416.9 168.2 417.7 149.3 418.6 168 419.4 148.6 420.3 168.4 421.1 149.7 422 168.1 422.8 148.9 423.7 168.8 424.5 148.9 425.4 169.2 426.2 148.6 427.1 169.7 427.9 148.8 428.8 168.4 429.6 149.1 430.5 168.4 431.3 149.8 432.2 168.9 433 148.6 433.9 168.5 434.7 149.4 435.6 168.8 436.4 148.6 437.3 169.1 438.1 148.7 439 169.5 439.8 149.1 440.7 169.6 441.5 148.2 442.4 168.4 443.2 148.1 444.1 169.5 444.9 149.5 445.8 169.3 446.6 148.2 447.5 170.5 448.3 148.2 449.2 170.4 450 146.8 450.9 171.3 451.7 146.2 452.6 170.9 453.4 146.7 454.3 170.4 455.1 146.5 456 171.6 456.8 146.7 457.7 171.4 458.5 147.5 459.4 171.8 460.2 146 461.1 172 461.9 146.9 462.8 171.6 463.6 147.3 464.5 171.8 465.3 146.3 466.2 170.7 467 147.8 467.9 170.9 468.7 147.2 469.6 170.8 470.4 148.1 471.3 168.7 472.1 148.4 473 168 473.8 149.2 474.7 167.7 475.5 150 476.4 168.7 477.2 150.3 478.1 167.7 478.9 149.7 479.8 168.6 480.6 149.2 481.5 168.5 482.3 149.1 483.2 168.2 484 149.1 484.9 167.6 485.7 150.1 486.6 168.5 487.4 149.8 488.3 169 489.1 149 490 168.9 490.8 148.4 491.7 169.2 492.5 149.2 493.4 169 494.2 148.3 495.1 169.8 495.9 149.3 496.8 169.7 497.6 148.1 498.5 169.2 499.3 148.7 500.2 168.7 501 148.8 501.9 169.2 502.7 148.7 503.6 168.4 504.4 148.1 505.3 169.2 506.1 149 507 169.7 507.8 148.7 508.7 169.1 509.5 148.5 510.4 168.4 511.2 148.8 512.1 169 512.9 148.1 513.8 169.9 514.6 149.2 515.5 169.1 516.3 149.5 517.2 169 518 148.3 518.9 169.8 519.7 148.9 520.6 168.8 521.4 149.5 522.3 169.1 523.1 148.5 524 168.1 524.8 149 525.7 167.7 526.5 150.1 527.4 167.9 528.2 149.5 529.1 167.9 529.9 150 530.8 168.3 531.6 150.5 532.5 168.5 533.3 150.5 534.2 168.1 535 150.3 535.9 167.6 536.7 149.9 537.6 167.9 538.4 150.2 539.3 167.8 540.1 150 541 167.4 541.8 150.5 542.7 168.1 543.5 149.9 544.4 167.9 545.2 149.7 546.1 168 546.9 149.7 547.8 167.4 548.6 150 549.5 168 550.3 150.1 551.2 167 552 151.2 552.9 167.5 553.7 151.6 554.6 167.3 555.4 151 556.3 165.9 557.1 152 558 166.7 558.8 151.9 559.7 165.9 560.5 151.2 561.4 166.3 562.2 151.3 563.1 165.9 563.9 151.8 564.8 166.6 565.6 152.2 566.5 166 567.3 151.4 568.2 166.9 569 151 569.9 165.9 570.7 151.6 571.6 166.7 572.4 151.6 573.3 166.6 574.1 152 575 165.8 575.8 152.1 576.7 165.8 577.5 151.6 578.4 166.4 579.2 151.5 580.1 165.9 580.9 152 581.8 166 582.6 151.2 583.5 167 584.3 151.1 585.2 165.9 586 152.2 586.9 166.9 587.7 151.7 588.6 166.7 589.4 151.8 590.3 166.3 591.1 151.5 592 166.4 592.8 151.3 593.7 166 594.5 151 595.4 167.2 596.2 151.6 597.1 166.8 597.9 150.8 598.8 166.7 599.6 151.6 600.5 166.4 601.3 151.1 602.2 166.2 603 150.6 603.9 167.2 604.7 150.9 605.6 167.3 606.4 151 607.3 166.7 608.1 151 609 166.8 609.8 150.5 610.7 167.2 611.5 151.5 612.4 167.4 613.2 150.8 614.1 167.2 614.9 150.7 615.8 166.7 616.6 150.6 617.5 167.3 618.3 150.9 619.2 167.2 620 150.8 620.9 166.7 621.7 150.9 622.6 166.3 623.4 151.4 624.3 166.8 625.1 151.8 626 166.6 626.8 151 627.7 167 628.5 151.5 629.4 167.4 630.2 150.9 631.1 166.6 631.9 151 632.8 166.9 633.6 151.1 634.5 166.7 635.3 150.5 636.2 167 637 150.9 637.9 167.2 638.7 150.4 639.6 166.4 640.4 150.6 641.3 167.7 642.1 150.9 643 167.5 643.8 150.9 644.7 167.3 645.5 150.4 646.4 167.2 647.2 150.6 648.1 168.4 648.9 150.2 649.8 167.8 650.6 149.5 651.5 167.9 652.3 149.5 653.2 168 654 149.8 654.9 167.1 655.7 150.1 656.6 168.1 657.4 150.9 658.3 168.4 659.1 150.7 660 167.7 660.8 150.7 661.7 167.8 662.5 150.1 663.4 167.1 664.2 149.6 665.1 167.6 665.9 150.2 666.8 167.9 667.6 150.4 668.5 167.7 669.3 149.2 670.2 169.1 671 148.9 671.9 170.4 672.7 148.3 673.6 169.2 674.4 148.4 675.3 169.3 676.1 148.5 677 170.6 677.8 148.1 678.7 170.8 679.5 147.5 680.4 169.3 681.2 147 682.1 170.9 682.9 148.7 683.8 170.8 684.6 148 685.5 170 686.3 147 687.2 169.6 688 147.9 688.9 170.5 689.7 148.3 690.6 168.9 691.4 148.7 692.3 168.6 693.1 150.1 694 167.2 694.8 150.1 695.7 167.7 696.5 150.7 697.4 167.1 698.2 150.2 699.1 167.2 699.9 150.3 700.8 168 701.6 150.3 702.5 167.4 703.3 150.1 704.2 167.6 705 149.8 705.9 167.8 706.7 149.5 707.6 168.4 708.4 149.9 709.3 167.4 710.1 150.8 711 168.3 711.8 149.8 712.7 167.9 713.5 150.4 714.4 167.5 715.2 149.8 716.1 168.1 716.9 149.8 717.8 168.4 718.6 149.4 719.5 167.8 720.3 150.2 721.2 169 722 149.1 722.9 168.8 723.7 150.5M204.2 159V149.7M206.2 159V147.9M207.6 159V148.5M209 159V150.5M211.4 159V148.7M213.7 159V149.7M215.8 159V150.4M217.6 159V147.8M220.3 159V150.8M221.7 159V147.3M224.1 159V147.6M225.7 159V149.5M227.4 159V147.3M229.2 159V148.3M232.2 159V149.9M234.3 159V146.4M237.2 159V147.6M239 159V149M241.8 159V148.8M243.2 159V144.9M245.2 159V143.2M247 159V141.8M248.4 159V147.6M250.8 159V148.2M252.5 159V141.6M254.9 159V146.5M256.4 159V145.7M258.9 159V145.3M260.4 159V140.8M262.6 159V137.5M265.4 159V137.6M267.4 159V139.5M269.2 159V145.8M271.1 159V137.4M273.9 159V146.5M275.8 159V145.4M277.6 159V145.1M279.5 159V146.9M281.8 159V139.8M283.9 159V139.3M286.1 159V147.1M288.7 159V138.7M290.4 159V147.9M292.5 159V143.5M294.7 159V137.5M297.1 159V140M298.5 159V143.7M301 159V148.3M302.4 159V143.3M305.2 159V149.1M307.5 159V148.9M310.1 159V145.6M311.7 159V148.7M314.3 159V146.8M316.8 159V147.8M318.7 159V142.9M321 159V147.2M323.2 159V145.4M325.7 159V143.7M327.6 159V144.6M330 159V144.4M332.6 159V145.3M335.4 159V145M337.7 159V148.6M340.2 159V147.4M342.1 159V149.6M343.6 159V147.8M346.6 159V149.8M348.1 159V150.5M350.1 159V150.1M353 159V150.8M354.8 159V150.7M357.1 159V147.6M358.7 159V150.8M360.7 159V148.7M363.5 159V150.7M364.9 159V150.2M366.5 159V150M369 159V148M370.6 159V149.9M372.4 159V149.7M374.9 159V148.7M377.1 159V144M379.2 159V148.3M381.9 159V141.2M383.7 159V145.4M386.6 159V145.9M388.2 159V148.9M391.1 159V142.3M393 159V145.3M395.1 159V147.5M398.1 159V143.8M399.7 159V148.8M401.8 159V146.6M404.4 159V143M406.7 159V148.1M408.2 159V146.9M409.9 159V140.8M412 159V143.6M414.9 159V147.2M417.1 159V147.9M419.7 159V148.4M422.3 159V140.5M424.9 159V148.1M426.7 159V142.1M428.1 159V144.8M430.1 159V138.5M432.4 159V139.9M434.1 159V140.8M436.1 159V138.8M437.5 159V140.1M439.1 159V143.8M441.2 159V147.4M443.9 159V146.1M445.7 159V147.5M447.5 159V143.4M449.9 159V143.7M452.3 159V145.4M454.3 159V141.5M457.2 159V135.4M459.5 159V145.8M461.4 159V137.6M463.1 159V140M465.1 159V145.8M468 159V136M469.6 159V141.2M471.4 159V145.8M473.5 159V148.2M475.4 159V148.1M477.7 159V148.7M479.3 159V145.7M481.1 159V143.8M483.3 159V145.6M485.2 159V144.5M486.6 159V148.7M488 159V144.4M490.4 159V147.7M492.4 159V140.4M494.6 159V147.8M496.3 159V147.5M497.7 159V145.5M499.1 159V139.2M501.1 159V144.4M503.4 159V141.3M506.1 159V145.7M507.9 159V145.4M509.2 159V145.5M511.6 159V138.3M514.2 159V142.7M516.5 159V148.1M518.3 159V146.1M520.6 159V147.8M522.5 159V145.3M525.1 159V143.1M527.4 159V148.9M530 159V144M532.2 159V148.2M534.3 159V149.2M536.7 159V143.6M538.8 159V146M541.5 159V149.2M544.4 159V146.8M546 159V149.7M547.6 159V147.3M550.1 159V149.3M552.9 159V149.8M554.9 159V151.1M557.8 159V151.3M560.6 159V149.9M562.8 159V149.8M564.5 159V148M567.5 159V148.5M569.7 159V151.3M572.4 159V150.8M575.2 159V151M577.4 159V148.5M578.9 159V149.9M580.3 159V151.4M581.9 159V147.6M584.7 159V149.3M586.5 159V149.3M589 159V150.5M591.3 159V148.3M592.5 159V150.8M594.6 159V150.8M596.5 159V148.8M598 159V149.1M599.7 159V148.8M601.5 159V148.3M602.9 159V148.2M604.4 159V146.2M606.6 159V149.3M608.6 159V148.4M611 159V147.5M613.5 159V149.2M616.5 159V146.9M619.2 159V149.5M621.2 159V148.7M623.9 159V148.9M626.1 159V149.4M628.9 159V149.9M630.2 159V147.6M633 159V147.5M635.3 159V147.4M637 159V148.4M638.4 159V150.5M640.4 159V148.3M642.3 159V150M644.8 159V147.2M646.4 159V148.6M648.3 159V149M649.7 159V143.9M652.6 159V146.1M655.3 159V147.9M657.9 159V149.1M660.5 159V146.9M663.3 159V149.6M665.9 159V149.5M668 159V143.5M669.3 159V147.8M671 159V145.5M672.4 159V136M675 159V143.7M676.9 159V141.3M678.2 159V146.8M681 159V144.8M683.1 159V135.9M686 159V143M687.6 159V145M690.4 159V140.9M692 159V144.2M693.8 159V148.2M695.4 159V145.5M698.3 159V149.5M700.7 159V149.5M703.4 159V149.9M704.8 159V146.8M706.6 159V145.6M709.3 159V146.9M710.8 159V147M713.7 159V148.5M715 159V149.2M716.8 159V145.5M718.4 159V148.7M720.1 159V145.3M722.6 159V147.6M205.9 159V169.9M207.5 159V168.3M210.3 159V170.1M212.1 159V169.8M213.5 159V172M215.5 159V169M217.6 159V167.1M219.9 159V167.8M221.6 159V170.6M223 159V167.8M225.5 159V167.7M227.2 159V169.1M228.8 159V171.3M231.7 159V167.1M233.7 159V171.3M235.6 159V174M237.7 159V169M239.9 159V173.6M241.8 159V174M244.4 159V172.8M246.5 159V177.1M248.9 159V173.3M251.8 159V170.4M254.3 159V170.5M256.6 159V171.2M258.6 159V178M261.2 159V178.5M262.9 159V174.2M264.5 159V175.3M266.6 159V170.2M268.9 159V177.1M271.1 159V179.6M272.6 159V170.8M273.9 159V174.1M275.9 159V173.5M277.6 159V178.3M279 159V179.9M281.2 159V174.6M283.8 159V171.4M285.3 159V172M286.6 159V172M288.9 159V174.3M290.6 159V175.1M292 159V178.3M293.6 159V171.5M295.1 159V176.4M297.7 159V177.7M299.1 159V172.6M301 159V170.4M303.9 159V169M305.9 159V173.5M308.9 159V169M310.9 159V173.2M312.2 159V169.4M315 159V168.9M316.9 159V169.6M318.9 159V168.6M320.2 159V175.4M322.7 159V172.7M324.4 159V169.2M326.6 159V169.1M328.6 159V174.4M330.5 159V169.5M333.4 159V170.8M334.7 159V169.2M337 159V167.5M338.9 159V170.2M341.6 159V169.3M344.4 159V168.6M346.3 159V170.9M348.2 159V170.5M349.8 159V168.1M351.4 159V169.1M352.9 159V167.5M354.5 159V168.7M356.3 159V168.6M359.2 159V169.8M361.9 159V167.7M363.8 159V167.4M366.3 159V168.6M368 159V167.5M369.5 159V168.3M371.4 159V172.9M373.9 159V168.9M375.8 159V168.7M378.6 159V170.3M381.2 159V174.3M384 159V169M385.8 159V171.2M387.2 159V176.6M389 159V175.3M391.1 159V169.2M393 159V170.2M394.3 159V169.7M396.6 159V169.2M398.4 159V171.8M400.5 159V169.7M403 159V170.5M405.5 159V174.5M407 159V170.2M408.7 159V175.1M410.6 159V171.7M413.4 159V170.5M415.1 159V171.5M416.7 159V169.6M418 159V174.5M420.2 159V176.9M423.1 159V171.3M425.5 159V178.7M427.1 159V175.6M429.5 159V179.4M432.3 159V171M434.6 159V170.1M436.6 159V172.5M437.9 159V172.4M439.7 159V173.7M441.4 159V170.6M443.4 159V173.6M444.9 159V176M446.6 159V170.8M448.4 159V174.4M449.9 159V177.3M452.4 159V177.8M454.8 159V172.2M456.7 159V175.2M458.1 159V175.7M459.4 159V177M461.7 159V176.6M463.5 159V173.9M464.7 159V175M467.5 159V178M469.2 159V178.1M470.8 159V173.7M473.1 159V175.4M474.9 159V171M477.8 159V172.5M480.1 159V171.5M482.1 159V170.2M483.8 159V173.4M486.5 159V170.6M489.3 159V169.5M490.8 159V173.1M492.6 159V172.1M495.5 159V170.5M497.1 159V171M499.5 159V171.1M500.7 159V174M502.6 159V171.1M504.7 159V175.2M506.9 159V174.9M509.1 159V177.6M512 159V171.9M513.8 159V178.3M515.6 159V176M518.1 159V175.7M520.9 159V177M522.5 159V173.9M524.6 159V172.6M526.4 159V170M529 159V171.1M530.6 159V169.3M532.4 159V169M534.5 159V168.7M535.9 159V168.5M537.3 159V172M538.8 159V170.2M541.3 159V170.3M542.8 159V173.1M545.6 159V168.2M547.3 159V170.3M549.9 159V169.1M552.3 159V167.9M554.8 159V167.6M556.6 159V169.2M559.3 159V169.5M561.5 159V167.6M564 159V168.5M566.6 159V169.4M568.1 159V167.5M570.5 159V167M572 159V166.5M574.3 159V170.2M577.2 159V166.7M579.6 159V167.6M581.9 159V167.5M584.8 159V170.4M586.1 159V168.9M587.5 159V166.6M589.3 159V169M592.2 159V166.9M594 159V166.9M596.2 159V168.7M598.1 159V167.9M600.7 159V170.9M602.4 159V168.3M604.7 159V170.5M607.7 159V168.3M610.1 159V169.2M612.7 159V167.4M614.2 159V167.3M617.1 159V167.8M619.2 159V167.3M621 159V167.1M623.2 159V167.4M625.5 159V167.9M627.1 159V168.9M629 159V167.8M630.3 159V167.2M633.1 159V168.1M634.5 159V167.6M636.6 159V172.5M638.1 159V171.5M640.2 159V169.1M642.8 159V169.6M644.2 159V171M646.6 159V171.5M648.3 159V174.4M651 159V174.9M653 159V173.4M655.5 159V168.7M656.8 159V168.7M658.2 159V168.3M660.1 159V172.6M661.9 159V170.7M663.1 159V168.9M666 159V168.2M668.2 159V173.5M670.8 159V177.1M672.7 159V180.4M675.3 159V179.6M678.3 159V171.5M681.1 159V174.2M683.6 159V172.6M686.4 159V171.1M688.6 159V171.9M690.5 159V171.5M692.9 159V172.2M694.8 159V170.8M696.6 159V168.8M699.4 159V169M700.8 159V169.1M703.3 159V168.5M705.8 159V170.1M708.2 159V168.4M709.7 159V168.3M711.5 159V169.4M712.8 159V169.8M714.7 159V169.1M716.9 159V174.7M718.5 159V174.7M720.3 159V173.5M721.7 159V175.9M723.7 159V175.6M204.6 159V133.4M205.9 159V141.5M238 159V129.1M239.3 159V141.6M246 159V137.1M255 159V133.4M263 159V120.7M261.7 159V132.1M265.5 159V111.4M266.8 159V135M271.6 159V105.3M272.9 159V122.5M270.2 159V140.3M278 159V120.7M276.7 159V136.7M293.4 159V123.5M292.1 159V139.1M308.6 159V131M307.3 159V138.8M339 159V141.3M337.7 159V146M352 159V136.6M350.7 159V144M367.5 159V103.9M368.8 159V124.6M366.1 159V136.8M385 159V133.8M386.3 159V141.4M390 159V130.1M391.3 159V141.1M399.5 159V113.2M400.8 159V131.7M398.1 159V139.3M416 159V127.3M414.7 159V141.9M424.6 159V129.1M423.3 159V140M430.5 159V126.3M429.2 159V137.7M440 159V133.4M448.7 159V129.1M452.5 159V103.9M451.2 159V131.5M455 159V119.8M456.3 159V130.3M461.4 159V107.6M460.1 159V130.9M463 159V71.2M461.7 159V101.3M464.4 159V128.8M465.6 159V127.3M476.5 159V119.8M475.2 159V139.1M477.9 159V138.8M480.3 159V128.2M481.6 159V141.3M502.6 159V128.2M501.3 159V138.2M505.2 159V116.1M503.9 159V130.5M513.3 159V116.1M512 159V133.5M533.6 159V135.7M532.3 159V144.8M541 159V139.4M539.7 159V144.2M555 159V141.3M556.3 159V145.7M600.4 159V134.8M601.7 159V143.2M615 159V141.3M613.7 159V147.2M627.5 159V137.1M628.8 159V143.9M641.5 159V135.7M642.8 159V143.3M648.3 159V121.7M647 159V137.1M649.7 159V144M653 159V141.3M675.7 159V117.9M674.4 159V130.8M678.3 159V113.2M677 159V131.3M682.6 159V117M681.3 159V130.8M684.6 159V117M685.9 159V134.7M688.5 159V134.8M698.5 159V140.4M699.8 159V146.7M718.4 159V118.9M719.7 159V132.1M717 159V139.5M721.5 159V142.2M204.6 159V188.9M205.9 159V175.4M238 159V178.6M253 159V182.3M262 159V202.4M263.3 159V188M264 159V216M262.7 159V196.2M265.4 159V177.6M271.6 159V212.2M270.3 159V185.3M273 159V181.6M278 159V190.7M276.7 159V180.7M285.3 159V229.1M286.6 159V199.6M283.9 159V183.9M294.4 159V184.6M309.6 159V184.6M310.9 159V175.2M342 159V187.9M343.3 159V177.5M367.5 159V200.1M368.8 159V183.4M366.1 159V177.2M391 159V188.9M392.3 159V175.8M400.5 159V214.1M399.2 159V189M401.9 159V177.2M415 159V188.9M416.3 159V180.8M429.7 159V202.9M428.4 159V183.3M445.7 159V201M447 159V188.6M453.8 159V206.6M452.5 159V190M456.3 159V214.1M457.6 159V188.5M462.2 159V231.9M463.5 159V192.6M460.8 159V188.5M465 159V204.8M466.3 159V189.9M475.7 159V199.1M477 159V182.2M474.3 159V176.6M479.8 159V189.8M478.5 159V177.4M501.9 159V186.1M500.6 159V175.9M507 159V186.1M505.7 159V176.2M513.3 159V196.3M512 159V180.2M518.5 159V188.9M517.2 159V179.5M528.5 159V186.1M529.8 159V178.9M542.5 159V184.6M543.8 159V177M559.5 159V215M558.2 159V187.9M560.9 159V174.8M594.5 159V200.1M595.8 159V179.9M593.1 159V175.2M599.6 159V188.9M598.3 159V175.8M626 159V174.8M636.5 159V176.7M635.2 159V172.1M647.8 159V182.3M649.1 159V174.3M667.6 159V182.3M668.9 159V176.4M676.5 159V237.9M677.8 159V199.5M675.1 159V185.6M682.8 159V192.6M681.5 159V183M718.4 159V202.9M717.1 159V184.7M719.8 159V174.8M721 159V194.5M719.7 159V177.3" fill="none" stroke="#0000ff" stroke-width="2" stroke-linejoin="round" stroke-linecap="round"/>
<rect x="203.5" y="327.5" width="521" height="188" fill="none" stroke="#262626" stroke-width="1.1"/>
<path d="M203.5 515.5v-5.5 M203.5 327.5v5.5 M333.8 515.5v-5.5 M333.8 327.5v5.5 M464 515.5v-5.5 M464 327.5v5.5 M594.2 515.5v-5.5 M594.2 327.5v5.5 M724.5 515.5v-5.5 M724.5 327.5v5.5 M203.5 327.5h5.5 M724.5 327.5h-5.5 M203.5 421.5h5.5 M724.5 421.5h-5.5 M203.5 515.5h5.5 M724.5 515.5h-5.5" stroke="#262626" stroke-width="1.1" fill="none"/>
<path d="M203.5 417 204.3 425.3 205.2 417.8 206 426 206.9 417.6 207.7 425.3 208.6 417.3 209.4 425.5 210.3 417.1 211.1 425.4 212 417 212.8 425.5 213.7 417.3 214.5 425.9 215.4 417.2 216.2 425.9 217.1 417.2 217.9 425.3 218.8 417.1 219.6 425.7 220.5 417.5 221.3 425.4 222.2 417.1 223 425.7 223.9 417 224.7 425.8 225.6 417 226.4 425.7 227.3 417.2 228.1 425.7 229 417.6 229.8 426 230.7 417.5 231.5 425.8 232.4 417 233.2 425.7 234.1 417.7 234.9 425.9 235.8 417.3 236.6 425.4 237.5 417.7 238.3 425.6 239.2 417.7 240 425.9 240.9 417.4 241.7 425.6 242.6 417.5 243.4 425.7 244.3 417.1 245.1 425.5 246 417.5 246.8 425.7 247.7 417.5 248.5 425.8 249.4 417.1 250.2 425.9 251.1 416.8 251.9 426.3 252.8 417 253.6 426.9 254.5 416.5 255.3 426.6 256.2 416.3 257 427.3 257.9 415.6 258.7 427.1 259.6 415.9 260.4 426.9 261.3 415.2 262.1 427.1 263 415.5 263.8 427.3 264.7 415.7 265.5 427.3 266.4 415.8 267.2 427 268.1 415.5 268.9 427.8 269.8 415.4 270.7 427.2 271.5 415.3 272.4 427 273.2 415.6 274.1 427.8 274.9 415.1 275.8 427.4 276.6 415.2 277.5 427.5 278.3 415.5 279.2 427.6 280 415 280.9 427.7 281.7 415.6 282.6 427.7 283.4 415.4 284.3 427.3 285.1 415.2 286 427.8 286.8 415.4 287.7 427.9 288.5 416 289.4 427.5 290.2 415.4 291.1 427.3 291.9 415.9 292.8 427.7 293.6 415.6 294.5 427.2 295.3 416 296.2 428 297 415.7 297.9 427.1 298.7 415.9 299.6 427 300.4 415.5 301.3 426.7 302.1 416.4 303 426.3 303.8 416.5 304.7 426.3 305.5 416.6 306.4 426.7 307.2 416.1 308.1 426.8 308.9 417 309.8 426.3 310.6 416.3 311.5 426 312.3 416.9 313.2 426.4 314 416.7 314.9 426.6 315.7 416.5 316.6 426.3 317.4 416.9 318.3 426.1 319.1 416.9 320 425.9 320.8 416.6 321.7 426 322.5 416.4 323.4 426.4 324.2 417.1 325.1 426.2 325.9 416.7 326.8 425.8 327.6 416.8 328.5 425.8 329.3 416.5 330.2 425.8 331 416.7 331.9 426.6 332.7 416.5 333.6 426 334.4 416.8 335.3 425.9 336.1 416.9 337 426.5 337.8 416.5 338.7 425.8 339.5 416.9 340.4 426.3 341.2 417.1 342.1 426.4 342.9 416.5 343.8 426.2 344.6 417 345.5 426.4 346.3 416.8 347.2 425.9 348 417 348.9 425.8 349.7 416.6 350.6 426.1 351.4 416.7 352.3 426.4 353.1 416.5 354 425.9 354.8 417 355.7 426.4 356.5 416.7 357.4 426 358.2 416.8 359.1 425.8 359.9 417.2 360.8 425.7 361.6 417 362.5 425.8 363.3 417 364.2 426.3 365 417.5 365.9 425.8 366.7 417.1 367.6 425.6 368.4 417.5 369.3 425.6 370.1 418 371 425.6 371.8 417.6 372.7 425.4 373.5 417.7 374.4 424.8 375.2 418.3 376.1 424.7 376.9 418 377.8 425.2 378.6 417.8 379.5 424.9 380.3 418 381.2 425.1 382 418.2 382.9 425.2 383.7 417.8 384.6 425.1 385.4 417.8 386.3 425.1 387.1 418 388 424.8 388.8 418.3 389.7 424.7 390.5 418.4 391.4 425.2 392.2 418.3 393.1 424.6 393.9 418.3 394.8 424.6 395.6 418.2 396.5 424.7 397.3 418.4 398.2 424.8 399 418.2 399.9 424.7 400.7 418 401.6 424.7 402.4 418.2 403.3 425.1 404.1 417.9 405 424.7 405.8 418.5 406.7 425.1 407.5 418.2 408.4 424.6 409.2 418.4 410.1 424.7 410.9 418.2 411.8 424.8 412.6 418.2 413.5 425.5 414.3 417.6 415.2 424.9 416 417.9 416.9 425.4 417.7 417.8 418.6 424.9 419.4 417.9 420.3 425.1 421.1 417.5 422 425.3 422.8 417.8 423.7 425.3 424.5 418.1 425.4 425.4 426.2 417.6 427.1 425.4 427.9 417.9 428.8 425.1 429.6 418.1 430.5 425 431.3 418 432.2 425.2 433 417.5 433.9 425.1 434.7 417.7 435.6 425.4 436.4 417.6 437.3 424.9 438.1 417.4 439 425.4 439.8 417.8 440.7 425.1 441.5 417.5 442.4 425.6 443.2 417.8 444.1 425.3 444.9 417.5 445.8 425.4 446.6 417.3 447.5 426.3 448.3 416.9 449.2 426.4 450 417.1 450.9 426.4 451.7 416.7 452.6 425.8 453.4 416.9 454.3 426.2 455.1 416.9 456 426.2 456.8 417.1 457.7 426.1 458.5 417 459.4 426.3 460.2 417 461.1 426.5 461.9 416.9 462.8 425.9 463.6 417 464.5 425.8 465.3 416.8 466.2 425.5 467 417.2 467.9 425.4 468.7 417.4 469.6 425 470.4 417.7 471.3 425.3 472.1 418.1 473 424.8 473.8 418.1 474.7 425.1 475.5 418.2 476.4 424.6 477.2 418.2 478.1 425.1 478.9 418.4 479.8 425.1 480.6 418.2 481.5 424.6 482.3 418.5 483.2 424.7 484 418.2 484.9 424.6 485.7 418.4 486.6 424.8 487.4 418.3 488.3 424.8 489.1 418.2 490 425 490.8 418.1 491.7 424.7 492.5 418.3 493.4 425.1 494.2 418.4 495.1 424.7 495.9 418.4 496.8 425.2 497.6 418 498.5 425.2 499.3 418 500.2 424.9 501 418.1 501.9 425.1 502.7 418.3 503.6 425.1 504.4 418.2 505.3 424.6 506.1 418.3 507 424.9 507.8 418.4 508.7 425.1 509.5 417.9 510.4 424.8 511.2 418 512.1 424.9 512.9 418.3 513.8 424.5 514.6 418 515.5 424.9 516.3 418.4 517.2 424.6 518 418.6 518.9 424.7 519.7 418.2 520.6 424.5 521.4 418.5 522.3 424.7 523.1 418.2 524 424.4 524.8 418.5 525.7 424.7 526.5 418.7 527.4 424.8 528.2 418.5 529.1 424.8 529.9 418.4 530.8 424.4 531.6 418.7 532.5 424.3 533.3 418.6 534.2 424.7 535 418.2 535.9 424.7 536.7 418.5 537.6 424.7 538.4 418.3 539.3 424.5 540.1 418.7 541 424.6 541.8 418.6 542.7 424.4 543.5 418.5 544.4 424.3 545.2 418.2 546.1 424.4 546.9 418.2 547.8 424.7 548.6 418.7 549.5 424.8 550.3 418.2 551.2 424.6 552 418.2 552.9 424.6 553.7 418.7 554.6 424.4 555.4 418.6 556.3 424.8 557.1 418.2 558 424.3 558.8 418.5 559.7 424.3 560.5 418.6 561.4 424.5 562.2 418.5 563.1 424.3 563.9 418.3 564.8 424.4 565.6 418.2 566.5 424.5 567.3 418.5 568.2 424.7 569 418.5 569.9 424.4 570.7 418.7 571.6 424.4 572.4 418.6 573.3 424.7 574.1 418.5 575 424.7 575.8 418.6 576.7 424.3 577.5 418.6 578.4 424.5 579.2 418.2 580.1 424.4 580.9 418.6 581.8 424.3 582.6 418.6 583.5 424.8 584.3 418.2 585.2 424.4 586 418.7 586.9 424.5 587.7 418.4 588.6 424.3 589.4 418.5 590.3 424.7 591.1 418.8 592 424.7 592.8 418.4 593.7 424.7 594.5 418.5 595.4 424.5 596.2 418.5 597.1 424.3 597.9 418.5 598.8 424.4 599.6 418.6 600.5 424.3 601.3 418.7 602.2 424.3 603 418.4 603.9 424.4 604.7 418.4 605.6 424.5 606.4 418.6 607.3 424.3 608.1 418.4 609 424.6 609.8 418.4 610.7 424.5 611.5 418.4 612.4 424.2 613.2 418.6 614.1 424.7 614.9 418.6 615.8 424.3 616.6 418.5 617.5 424.7 618.3 418.7 619.2 424.3 620 418.5 620.9 424.7 621.7 418.6 622.6 424.4 623.4 418.3 624.3 424.3 625.1 418.6 626 424.6 626.8 418.3 627.7 424.7 628.5 418.6 629.4 424.4 630.2 418.6 631.1 424.3 631.9 418.6 632.8 424.7 633.6 418.2 634.5 424.4 635.3 418.8 636.2 424.6 637 418.2 637.9 424.7 638.7 418.4 639.6 424.9 640.4 417.9 641.3 425.2 642.1 417.8 643 425.7 643.8 417.5 644.7 425.1 645.5 417.7 646.4 425 647.2 417.8 648.1 425.5 648.9 417.7 649.8 425.3 650.6 417.5 651.5 425 652.3 417.8 653.2 425.3 654 417.7 654.9 425.4 655.7 417.4 656.6 425.5 657.4 417.7 658.3 425.4 659.1 417.7 660 425.6 660.8 417.7 661.7 425.3 662.5 417.8 663.4 425.2 664.2 417.6 665.1 425.2 665.9 417.5 666.8 425.4 667.6 417.4 668.5 425.4 669.3 417.7 670.2 425.1 671 418.1 671.9 425.3 672.7 417.6 673.6 425.4 674.4 417.6 675.3 424.9 676.1 417.7 677 425 677.8 417.9 678.7 425.4 679.5 417.9 680.4 425.2 681.2 418.1 682.1 425 682.9 418 683.8 425 684.6 417.8 685.5 424.8 686.3 418.1 687.2 424.9 688 417.7 688.9 425.4 689.7 417.8 690.6 424.9 691.4 418.4 692.3 424.9 693.1 418.5 694 424.4 694.8 418.3 695.7 424.9 696.5 418.4 697.4 424.9 698.2 418.4 699.1 425 699.9 418.2 700.8 424.9 701.6 418 702.5 424.9 703.3 418.5 704.2 424.7 705 418.3 705.9 424.8 706.7 418.5 707.6 424.7 708.4 418.5 709.3 424.5 710.1 418.3 711 424.9 711.8 418.3 712.7 424.6 713.5 418.3 714.4 425.2 715.2 417.4 716.1 425.9 716.9 417 717.8 425.9 718.6 416.9 719.5 426.4 720.3 416.6 721.2 426.5 722 416.2 722.9 426.6 723.7 416.8M204.9 421.5V416.2M207.4 421.5V416.2M208.8 421.5V416.3M211.2 421.5V415.3M213.2 421.5V417M214.5 421.5V416.2M217 421.5V417.1M219.2 421.5V415.9M221.4 421.5V416.9M222.8 421.5V417.2M224.6 421.5V414.7M226.5 421.5V414.3M229.2 421.5V415.9M231.2 421.5V415.9M233.8 421.5V416.6M235.4 421.5V414.6M237.7 421.5V416.5M239.6 421.5V417.1M241.8 421.5V415M243.9 421.5V415.4M246.4 421.5V416.6M248.8 421.5V413.8M251.2 421.5V416.3M253.6 421.5V413.9M256.2 421.5V413M259 421.5V410.4M260.6 421.5V413.5M261.9 421.5V409.6M263.3 421.5V413.6M265.6 421.5V413.5M267.2 421.5V413.1M268.8 421.5V413.2M271.3 421.5V414.2M273.3 421.5V412.3M275.4 421.5V411.1M278.2 421.5V409.8M279.7 421.5V413.2M281.2 421.5V411.8M283.1 421.5V410.7M285.2 421.5V411.1M286.5 421.5V412.4M288.4 421.5V410.9M289.9 421.5V415M292.3 421.5V414.1M294.3 421.5V413.7M297.2 421.5V412.4M299.9 421.5V411.4M302.6 421.5V414.4M304.3 421.5V414.4M307.1 421.5V412.5M309.1 421.5V412.4M311.7 421.5V416.3M314 421.5V413.4M315.3 421.5V415.4M317.7 421.5V415M319.8 421.5V416.4M321.5 421.5V413.3M323.4 421.5V415.2M325.6 421.5V415.9M327.6 421.5V415.1M330.3 421.5V413.5M331.9 421.5V415.1M334.4 421.5V413.3M336.5 421.5V414.6M338.9 421.5V414.5M341.7 421.5V412.8M344.6 421.5V416.4M347.1 421.5V415.7M348.8 421.5V416.5M351.6 421.5V413.5M353.7 421.5V415.3M355.3 421.5V413.3M357.9 421.5V416.4M360.1 421.5V413M361.8 421.5V415.8M363.7 421.5V416.1M365.1 421.5V415.4M366.8 421.5V415.5M368.8 421.5V415.3M371.3 421.5V415.8M372.9 421.5V416.2M375.4 421.5V417.7M376.7 421.5V417.9M379.2 421.5V416.4M380.6 421.5V417.8M382.5 421.5V418M384.9 421.5V416.7M387.6 421.5V417.9M390.4 421.5V416.9M391.9 421.5V416.8M394.7 421.5V416.7M397.2 421.5V416.9M399.4 421.5V418.1M401.8 421.5V417.5M403.3 421.5V418.1M406.1 421.5V416.7M407.4 421.5V418.2M409.8 421.5V417.7M412.6 421.5V417M415 421.5V417.7M417.6 421.5V417.4M419.6 421.5V416.7M421.4 421.5V417.3M423.4 421.5V417.6M424.9 421.5V417.5M427.6 421.5V417.1M430.5 421.5V415.1M432.1 421.5V415.3M435 421.5V416.7M437 421.5V415.9M439.1 421.5V417.1M441.6 421.5V417.2M443.5 421.5V417.5M445.3 421.5V414.5M446.8 421.5V416.5M448.7 421.5V415.7M450 421.5V416.5M451.6 421.5V413M454.2 421.5V412.9M456.6 421.5V411.5M458.3 421.5V413.5M460.3 421.5V411.8M462.3 421.5V413.4M464.9 421.5V411.8M467.4 421.5V416.4M469.8 421.5V416M472.6 421.5V417.6M475.1 421.5V416.6M476.6 421.5V417.9M478.8 421.5V417.1M480.6 421.5V417.1M482.1 421.5V417.2M484.3 421.5V416.4M486.8 421.5V418M489 421.5V417.9M491.1 421.5V416.7M493.6 421.5V418M495.7 421.5V417.8M497.8 421.5V417M499.9 421.5V416.2M501.7 421.5V417.1M503.3 421.5V417.7M505.7 421.5V417.9M508.3 421.5V417.5M509.7 421.5V416.4M511 421.5V417.7M513.4 421.5V418.2M515.8 421.5V417.3M518.7 421.5V417.9M521.4 421.5V416.3M523.5 421.5V418.3M525.3 421.5V416.8M526.6 421.5V417.2M528.7 421.5V417M530.6 421.5V416.4M532 421.5V417.7M533.8 421.5V417.4M535.4 421.5V417.8M537.4 421.5V416.4M538.7 421.5V418M540.2 421.5V417M542.8 421.5V418.3M545.4 421.5V416.6M547.4 421.5V417.3M550 421.5V416.4M551.6 421.5V417.1M553 421.5V417.9M555.8 421.5V417.3M558 421.5V417.7M560 421.5V418.3M562.2 421.5V416.4M563.6 421.5V418.3M566 421.5V416.7M567.9 421.5V418.3M570.3 421.5V417.2M571.9 421.5V416.8M574.1 421.5V416.8M575.8 421.5V417.9M578.1 421.5V417.2M580.8 421.5V416.4M583.3 421.5V418.3M585.3 421.5V417.2M587.9 421.5V418M589.3 421.5V417.4M590.8 421.5V417.6M592.5 421.5V416.6M593.8 421.5V417.5M596.5 421.5V417.2M598 421.5V417.5M600.7 421.5V417.3M603.5 421.5V416.8M605.4 421.5V418.3M607.8 421.5V417.6M610.4 421.5V417.7M612.9 421.5V418.3M615.4 421.5V416.6M618.1 421.5V416.9M620.5 421.5V418.2M622.3 421.5V418.1M624 421.5V417.4M625.9 421.5V417.2M628.6 421.5V416.2M629.9 421.5V417.3M632.1 421.5V417.8M634.6 421.5V416.6M636.3 421.5V417.3M637.8 421.5V417.7M639.7 421.5V416.1M642.5 421.5V414.9M644.6 421.5V415.4M647 421.5V416.1M648.5 421.5V417M651.3 421.5V415.9M652.8 421.5V416.8M654.3 421.5V417.3M656.1 421.5V417M657.4 421.5V416.3M660.3 421.5V416.5M662.2 421.5V416.7M663.9 421.5V416.9M665.5 421.5V416.6M668.3 421.5V416.8M671 421.5V416.4M673.4 421.5V416.5M675.3 421.5V414.9M677.5 421.5V417.3M679.3 421.5V416.8M681.5 421.5V416.9M683.2 421.5V417.1M686.2 421.5V415.6M688.9 421.5V415.2M690.4 421.5V416.9M692.8 421.5V417.4M695 421.5V417.1M697.3 421.5V418M698.7 421.5V417.9M700 421.5V417.8M701.3 421.5V418.1M703.7 421.5V418M706.1 421.5V417.6M708.8 421.5V417.3M711.5 421.5V417.6M713.5 421.5V415.4M715.9 421.5V414.9M718.6 421.5V412.7M721 421.5V416.2M723.7 421.5V415.9M204.8 421.5V426M206.4 421.5V426.7M208.5 421.5V427.3M211.3 421.5V427.4M214 421.5V426.6M215.5 421.5V427.5M218.4 421.5V426M220.7 421.5V426.5M223.6 421.5V425.8M225.7 421.5V426.4M227.6 421.5V427.7M228.8 421.5V426.2M231.7 421.5V426.7M233 421.5V427.3M235.4 421.5V428.5M238.1 421.5V428.7M239.8 421.5V426.4M242.3 421.5V426.4M244.1 421.5V425.8M245.7 421.5V426M247.6 421.5V427.7M249.2 421.5V426.6M250.6 421.5V427.3M252.8 421.5V428.7M255.2 421.5V428.9M257.6 421.5V431M260.3 421.5V427.7M263.1 421.5V429.7M266.1 421.5V431.6M268.1 421.5V427.9M269.5 421.5V431.7M270.8 421.5V427.9M273.2 421.5V430.5M275.6 421.5V428M278.5 421.5V431.5M279.8 421.5V430.3M281.6 421.5V428.5M283.9 421.5V433.4M285.2 421.5V431.9M288 421.5V428M290.8 421.5V427.9M292.6 421.5V427.9M294.1 421.5V428.3M296.3 421.5V429.5M299.2 421.5V431.2M300.6 421.5V427.5M302.3 421.5V430.8M304.9 421.5V430.4M307.7 421.5V429.6M309.9 421.5V430.1M312.5 421.5V429.9M315.3 421.5V428.2M316.7 421.5V428.6M319.1 421.5V430.3M321.6 421.5V429.9M324.4 421.5V427.2M327.2 421.5V428.2M329.2 421.5V427.6M331.3 421.5V427.5M333.8 421.5V427M335.8 421.5V428.5M338.7 421.5V428.8M340.9 421.5V427.3M343.3 421.5V429.8M344.5 421.5V427.3M346.3 421.5V429M348.7 421.5V426.4M351.4 421.5V427.3M352.9 421.5V426.5M354.3 421.5V426.8M355.7 421.5V428.6M357.2 421.5V427.4M359.5 421.5V427.4M361.3 421.5V427.4M363.3 421.5V427.7M365.6 421.5V426.5M368 421.5V427.9M370.9 421.5V426.6M372.6 421.5V425.3M374.6 421.5V427M377.5 421.5V426M379.1 421.5V425.1M380.6 421.5V425.5M383.5 421.5V425.1M386.1 421.5V425.6M387.8 421.5V425.5M389.2 421.5V425.8M392 421.5V425.2M394.9 421.5V425.2M396.7 421.5V425.9M398.3 421.5V424.9M400.4 421.5V425.4M401.9 421.5V425M403.4 421.5V425M404.9 421.5V425.7M407.7 421.5V425.6M409.3 421.5V425.7M412.2 421.5V425.7M414.7 421.5V425.3M417.2 421.5V427.5M419.4 421.5V427.7M421.6 421.5V427.3M423.7 421.5V426M425.4 421.5V426.6M428 421.5V425.4M430.4 421.5V425.4M432.7 421.5V427.2M435.5 421.5V427M437.9 421.5V427.1M440.3 421.5V427.2M442.7 421.5V427.8M444.6 421.5V428.7M446.1 421.5V426.1M447.5 421.5V428.3M450.2 421.5V426.7M452.9 421.5V428.2M455.3 421.5V426.8M458.3 421.5V428M459.9 421.5V428.9M461.2 421.5V429.1M463.9 421.5V426.7M465.6 421.5V427M467.2 421.5V427.8M469.8 421.5V426M472.2 421.5V427.1M474.9 421.5V425.6M477.7 421.5V425.1M480.3 421.5V424.9M482.1 421.5V425M484.3 421.5V425M486.6 421.5V425.1M489 421.5V425.8M490.8 421.5V425.1M493.3 421.5V425.2M495.1 421.5V427.2M497.9 421.5V426.6M500.2 421.5V427.1M502.9 421.5V427M505.4 421.5V425.7M507.9 421.5V425.5M510.1 421.5V424.9M511.7 421.5V426.1M513.1 421.5V424.9M515.8 421.5V426.7M518.7 421.5V426.2M520.5 421.5V425.7M522.6 421.5V424.7M524.1 421.5V425.7M526.1 421.5V425.6M528.9 421.5V424.7M530.4 421.5V426.7M531.9 421.5V425.2M534 421.5V425M536 421.5V424.8M538.6 421.5V424.9M541.1 421.5V425.3M543.2 421.5V424.7M545.9 421.5V424.7M548.6 421.5V424.7M550.5 421.5V425.3M552.8 421.5V425M555.8 421.5V425.1M557.4 421.5V426M559.8 421.5V425.7M562.6 421.5V426.4M564.4 421.5V426.5M567.2 421.5V424.7M569.3 421.5V426.4M571.2 421.5V425.1M573.3 421.5V426.3M574.6 421.5V425.8M577 421.5V426.7M579.4 421.5V424.9M581.7 421.5V426M583.2 421.5V426.1M585.5 421.5V425.6M587.8 421.5V425.7M589.3 421.5V424.8M590.6 421.5V425M592.2 421.5V425.6M593.6 421.5V424.7M595.7 421.5V426.1M597.8 421.5V424.7M600.7 421.5V425.5M603.5 421.5V426M606.2 421.5V426.2M608.8 421.5V426.4M611.2 421.5V426.7M614 421.5V424.8M616 421.5V426.6M618.4 421.5V425.7M620.4 421.5V424.7M622.4 421.5V424.6M623.9 421.5V425.3M625.9 421.5V425.7M628.2 421.5V426.1M630.4 421.5V426.2M631.7 421.5V425.3M634.5 421.5V426M637.2 421.5V426.7M638.7 421.5V425.6M641.5 421.5V425.8M643.6 421.5V425.8M645 421.5V428.5M647.5 421.5V427.9M650.3 421.5V426.9M652.9 421.5V427.8M655 421.5V426.6M656.6 421.5V426.5M659.2 421.5V425.5M662.1 421.5V425.8M664.2 421.5V426M665.5 421.5V427.1M667.1 421.5V426.3M669.7 421.5V426.4M671.6 421.5V425.6M672.9 421.5V427.8M674.9 421.5V426M677.5 421.5V426.6M679.1 421.5V428.4M681.1 421.5V426M684 421.5V426.2M686 421.5V427.8M688.4 421.5V425.7M689.7 421.5V425.2M691.2 421.5V426.6M693.1 421.5V425.6M694.8 421.5V424.8M697.8 421.5V426M700.2 421.5V425.9M701.5 421.5V426.4M704.2 421.5V425M706.9 421.5V426.9M708.5 421.5V426.7M709.8 421.5V426.2M712.7 421.5V424.9M714.7 421.5V425.8M716.9 421.5V426.7M719 421.5V427.2M720.5 421.5V429.9M722.2 421.5V427.2M723.9 421.5V428.2M238 421.5V413.5M255.3 421.5V410.8M264.2 421.5V394.5M271.6 421.5V382.5M273.6 421.5V407M277 421.5V409.5M282 421.5V409.5M290 421.5V404.5M295 421.5V407M300 421.5V412.5M313 421.5V412.5M342 421.5V411.5M351.5 421.5V410.8M360 421.5V414M367.5 421.5V410.5M418 421.5V413.5M429.7 421.5V414M451 421.5V409M457.6 421.5V408.5M462.7 421.5V407M514.5 421.5V414.1M560 421.5V414.1M644 421.5V413.5M660.5 421.5V413.5M676 421.5V410.8M718.4 421.5V375.5M719.8 421.5V399.5M724 421.5V405.8M238 421.5V434.2M253 421.5V436.5M264.2 421.5V445.1M271.6 421.5V474.3M285.3 421.5V462.1M289.3 421.5V443.5M292.6 421.5V439.5M311.6 421.5V432.5M342 421.5V432.5M367.5 421.5V441M438.5 421.5V432.5M452 421.5V439.5M462.7 421.5V436.5M559.5 421.5V453.5M594.5 421.5V452M636.4 421.5V432.5M644 421.5V432.5M675 421.5V437.2M677 421.5V437.2M718.4 421.5V476.1M719.8 421.5V443.1" fill="none" stroke="#0000ff" stroke-width="2" stroke-linejoin="round" stroke-linecap="round"/>
<rect x="203.5" y="589.5" width="521" height="188" fill="none" stroke="#262626" stroke-width="1.1"/>
<path d="M203.5 777.5v-5.5 M203.5 589.5v5.5 M333.8 777.5v-5.5 M333.8 589.5v5.5 M464 777.5v-5.5 M464 589.5v5.5 M594.2 777.5v-5.5 M594.2 589.5v5.5 M724.5 777.5v-5.5 M724.5 589.5v5.5 M203.5 589.5h5.5 M724.5 589.5h-5.5 M203.5 683.5h5.5 M724.5 683.5h-5.5 M203.5 777.5h5.5 M724.5 777.5h-5.5" stroke="#262626" stroke-width="1.1" fill="none"/>
<path d="M203.5 675.1 204.3 692 205.2 674.8 206 691.5 206.9 675 207.7 692.3 208.6 674.6 209.4 691.4 210.3 675 211.1 692 212 675.2 212.8 692.5 213.7 675.2 214.5 691.7 215.4 674.6 216.2 692 217.1 675.5 217.9 691.5 218.8 675.2 219.6 691.2 220.5 675 221.3 692.1 222.2 675.3 223 692.3 223.9 674.6 224.7 691.9 225.6 674.9 226.4 691.3 227.3 675.8 228.1 692.5 229 675.5 229.8 691.4 230.7 674.6 231.5 692.1 232.4 675.7 233.2 691.6 234.1 675.6 234.9 691.5 235.8 675.8 236.6 692 237.5 675.3 238.3 691.9 239.2 675.4 240 691.6 240.9 675.5 241.7 692.8 242.6 674.3 243.4 692.4 244.3 675.2 245.1 691.9 246 675.1 246.8 692.3 247.7 675.1 248.5 692.3 249.4 674.8 250.2 692.3 251.1 674 251.9 692.7 252.8 674.3 253.6 692.5 254.5 674.2 255.3 693.2 256.2 674.6 257 692.1 257.9 674.3 258.7 692.5 259.6 673.8 260.4 692.1 261.3 673.7 262.1 692 263 674.2 263.8 692.6 264.7 674.6 265.5 693.3 266.4 674 267.2 692.2 268.1 674.3 268.9 692.9 269.8 675 270.7 692.1 271.5 674.1 272.4 693.1 273.2 674.3 274.1 692.6 274.9 674.3 275.8 692.4 276.6 673.7 277.5 693.4 278.3 674.3 279.2 692 280 674.4 280.9 693.2 281.7 674.5 282.6 692.1 283.4 674.8 284.3 693.1 285.1 674.1 286 692.4 286.8 674.1 287.7 693.1 288.5 673.6 289.4 693.2 290.2 674.4 291.1 693.2 291.9 673.6 292.8 693.3 293.6 673.9 294.5 692.9 295.3 674.3 296.2 693.3 297 674.1 297.9 693.1 298.7 674.7 299.6 692 300.4 674.8 301.3 692.6 302.1 674.4 303 692 303.8 675.1 304.7 693 305.5 675.4 306.4 692.9 307.2 674.3 308.1 692.4 308.9 674 309.8 692.5 310.6 675.5 311.5 692.9 312.3 674.9 313.2 692.9 314 674.3 314.9 691.7 315.7 675.4 316.6 691.6 317.4 674.3 318.3 692.7 319.1 675.1 320 691.7 320.8 674.9 321.7 692.7 322.5 674.4 323.4 692.8 324.2 674 325.1 692.6 325.9 674.2 326.8 691.6 327.6 675.5 328.5 692.7 329.3 674.7 330.2 691.7 331 675.7 331.9 691.5 332.7 675.6 333.6 691.5 334.4 675.7 335.3 690.9 336.1 676.2 337 690.9 337.8 676.2 338.7 690.8 339.5 675.8 340.4 690.8 341.2 675.3 342.1 691.4 342.9 675.7 343.8 691.5 344.6 676 345.5 690.7 346.3 676.2 347.2 691.1 348 675.8 348.9 691 349.7 675.9 350.6 691.8 351.4 676.3 352.3 691.3 353.1 675.8 354 691 354.8 675.4 355.7 691 356.5 676.3 357.4 690.9 358.2 675 359.1 691.1 359.9 676.2 360.8 692 361.6 675.5 362.5 691.9 363.3 675.9 364.2 691.7 365 676.3 365.9 691 366.7 675.3 367.6 691.4 368.4 675.3 369.3 691.2 370.1 675.2 371 690.8 371.8 675.5 372.7 690.9 373.5 676.1 374.4 691.8 375.2 675.8 376.1 691.8 376.9 676 377.8 691.6 378.6 675.1 379.5 691.5 380.3 676 381.2 691.6 382 675.1 382.9 691.7 383.7 675.7 384.6 691.2 385.4 676.2 386.3 691.7 387.1 676.1 388 691 388.8 676.3 389.7 690.9 390.5 675.8 391.4 691.3 392.2 676.1 393.1 691.2 393.9 675.3 394.8 690.8 395.6 676.1 396.5 691.4 397.3 675.1 398.2 691.9 399 675.5 399.9 690.9 400.7 674.9 401.6 692.3 402.4 674.8 403.3 691.8 404.1 675.4 405 691.9 405.8 674.8 406.7 692.5 407.5 675.2 408.4 691.8 409.2 675.5 410.1 691.9 410.9 675.1 411.8 691.5 412.6 675.3 413.5 692.4 414.3 675.6 415.2 691.5 416 675.5 416.9 692.3 417.7 675.5 418.6 692.3 419.4 674.6 420.3 692.3 421.1 674.8 422 691.4 422.8 675.3 423.7 692.3 424.5 675.6 425.4 691.9 426.2 674.7 427.1 692.4 427.9 675.4 428.8 691.3 429.6 675.9 430.5 691.5 431.3 675.1 432.2 691.5 433 674.7 433.9 692 434.7 675 435.6 692.3 436.4 675.4 437.3 692 438.1 675.4 439 691.6 439.8 675.6 440.7 692.4 441.5 674.4 442.4 691.5 443.2 674.5 444.1 691.6 444.9 674.9 445.8 692 446.6 674.1 447.5 692.2 448.3 674.7 449.2 692.1 450 675.1 450.9 691.9 451.7 675.4 452.6 691.6 453.4 674.7 454.3 692.6 455.1 674.5 456 691.9 456.8 674 457.7 691.6 458.5 674.8 459.4 692 460.2 675.2 461.1 692.9 461.9 674.4 462.8 691.7 463.6 675.2 464.5 692.7 465.3 675 466.2 691.7 467 675.6 467.9 691.2 468.7 675.7 469.6 690.8 470.4 676 471.3 690.3 472.1 676.2 473 690.8 473.8 676.6 474.7 691.1 475.5 675.9 476.4 690.7 477.2 676.6 478.1 690 478.9 676.5 479.8 690.1 480.6 677.1 481.5 690.3 482.3 677.1 483.2 690.4 484 676.5 484.9 689.6 485.7 676.6 486.6 689.8 487.4 677 488.3 690.5 489.1 676.3 490 690 490.8 676.5 491.7 690 492.5 676.3 493.4 689.8 494.2 676.6 495.1 689.7 495.9 676.7 496.8 690.5 497.6 676.3 498.5 690.5 499.3 676.8 500.2 690.1 501 676.7 501.9 690.3 502.7 676.7 503.6 690.4 504.4 676.6 505.3 690.7 506.1 676.7 507 690.6 507.8 676.6 508.7 690 509.5 676.5 510.4 690 511.2 676.5 512.1 690.6 512.9 676.4 513.8 690.6 514.6 676.6 515.5 690.1 516.3 677.1 517.2 690.3 518 676.4 518.9 690 519.7 677.2 520.6 690.4 521.4 676.4 522.3 689.8 523.1 677.3 524 689.7 524.8 676.8 525.7 690.5 526.5 677.2 527.4 690.4 528.2 677.4 529.1 689.8 529.9 676.9 530.8 690.4 531.6 676.9 532.5 690.3 533.3 677.1 534.2 689.9 535 676.9 535.9 689.5 536.7 677.3 537.6 689.9 538.4 676.8 539.3 689.7 540.1 677.2 541 690.6 541.8 676.8 542.7 690 543.5 676.6 544.4 690.3 545.2 676.6 546.1 690.1 546.9 676.8 547.8 689.6 548.6 677 549.5 689.9 550.3 677.2 551.2 689.9 552 676.5 552.9 689.7 553.7 677.4 554.6 689.8 555.4 677.3 556.3 689.5 557.1 676.5 558 690.1 558.8 677.5 559.7 690 560.5 677.4 561.4 690 562.2 676.5 563.1 690.5 563.9 677.1 564.8 690.3 565.6 677 566.5 689.5 567.3 677.1 568.2 690.3 569 676.7 569.9 690.2 570.7 676.5 571.6 689.8 572.4 676.8 573.3 690.3 574.1 676.5 575 690.4 575.8 676.6 576.7 689.8 577.5 677.2 578.4 690.1 579.2 677.5 580.1 689.7 580.9 677.2 581.8 689.6 582.6 677.4 583.5 690.1 584.3 677.3 585.2 689.5 586 676.7 586.9 690.4 587.7 677.4 588.6 690.2 589.4 677.5 590.3 689.8 591.1 677.3 592 690.3 592.8 676.7 593.7 690.6 594.5 676.5 595.4 690.7 596.2 676.1 597.1 690.5 597.9 676.9 598.8 690 599.6 676.1 600.5 690.8 601.3 676.4 602.2 691 603 676.2 603.9 690.3 604.7 676.9 605.6 690.4 606.4 676 607.3 691 608.1 677.1 609 689.9 609.8 676.6 610.7 691 611.5 676 612.4 690.9 613.2 677 614.1 690.2 614.9 676.1 615.8 690.5 616.6 676.7 617.5 691.1 618.3 677 619.2 690.6 620 676 620.9 690.8 621.7 675.9 622.6 690.3 623.4 676.3 624.3 691.2 625.1 676.8 626 690.5 626.8 675.8 627.7 690.2 628.5 676 629.4 690.9 630.2 676.7 631.1 691.3 631.9 676 632.8 690.2 633.6 675.7 634.5 691.1 635.3 676.3 636.2 690.1 637 675.9 637.9 691 638.7 675.8 639.6 690.5 640.4 675.9 641.3 691.6 642.1 675.4 643 690.9 643.8 675.9 644.7 691.3 645.5 675.7 646.4 692 647.2 675.1 648.1 690.7 648.9 675.5 649.8 690.9 650.6 675.2 651.5 691.4 652.3 675.1 653.2 691.9 654 675.1 654.9 690.9 655.7 676.2 656.6 691.7 657.4 675.7 658.3 691.7 659.1 675.7 660 691.2 660.8 675.4 661.7 691.2 662.5 675.7 663.4 691.2 664.2 675.4 665.1 690.8 665.9 675.7 666.8 691.4 667.6 675.4 668.5 691.9 669.3 675.8 670.2 691.9 671 675.4 671.9 691.2 672.7 675.6 673.6 691.2 674.4 675.5 675.3 690.7 676.1 675.1 677 691.1 677.8 676.3 678.7 690.8 679.5 675.9 680.4 691 681.2 675.2 682.1 691.2 682.9 675.1 683.8 691 684.6 675.9 685.5 691.9 686.3 675.2 687.2 691.9 688 676.2 688.9 690.7 689.7 675.5 690.6 691 691.4 676.3 692.3 690.6 693.1 676.1 694 690.9 694.8 675.6 695.7 691.8 696.5 676.3 697.4 691.5 698.2 675.7 699.1 691.6 699.9 675.2 700.8 691.7 701.6 676.3 702.5 691.5 703.3 675.5 704.2 691 705 676.5 705.9 691.5 706.7 675.7 707.6 691.5 708.4 675.5 709.3 691.5 710.1 676.4 711 691.7 711.8 675.3 712.7 691 713.5 675.4 714.4 692 715.2 675.6 716.1 691.4 716.9 675.1 717.8 692.2 718.6 675.2 719.5 692.2 720.3 674.3 721.2 691.9 722 674.3 722.9 691.7 723.7 674.6M205.8 683.5V673.7M207.5 683.5V674.2M209.4 683.5V673.7M211.3 683.5V674.3M213.6 683.5V674.4M215.3 683.5V673.3M218.1 683.5V674.2M219.6 683.5V671.3M221.9 683.5V674.7M224.8 683.5V674.4M227.1 683.5V674.3M229.8 683.5V673.5M232.1 683.5V670.1M234.5 683.5V673.4M236.3 683.5V671.2M238.4 683.5V669.7M239.8 683.5V674.2M241.1 683.5V668.4M242.6 683.5V668.7M244.6 683.5V666.1M247 683.5V667M248.4 683.5V666.2M250.3 683.5V673.5M253 683.5V672.6M255.4 683.5V673.6M257.3 683.5V670.7M259.4 683.5V666.8M261.1 683.5V665.7M262.6 683.5V664.9M264.4 683.5V668.5M267.2 683.5V668.5M269.9 683.5V673.4M272.8 683.5V673.5M275.2 683.5V666.8M277.7 683.5V668M280 683.5V664.7M281.7 683.5V665.7M284.3 683.5V672.8M286.3 683.5V671M287.8 683.5V666.4M290.5 683.5V667.7M291.8 683.5V667.9M294.7 683.5V668.1M297.5 683.5V665M299.9 683.5V668.2M301.7 683.5V668.2M303.5 683.5V673M305.3 683.5V672.9M306.6 683.5V673.8M308.3 683.5V673.4M309.6 683.5V669.5M312.3 683.5V672.8M314.7 683.5V668.3M316 683.5V671.1M318.3 683.5V673.7M321.1 683.5V669.2M323.2 683.5V671.5M325.9 683.5V674.2M328.6 683.5V671.9M330.4 683.5V673.9M332.6 683.5V674.8M335.2 683.5V674.1M338 683.5V670.8M340.6 683.5V675.2M342.3 683.5V673M345.1 683.5V673M347 683.5V671.8M349 683.5V673.2M351 683.5V670.9M353.3 683.5V675.2M355.7 683.5V674.2M357.2 683.5V673.7M358.9 683.5V670.9M360.5 683.5V673.4M361.8 683.5V674.6M364.2 683.5V673.7M366.5 683.5V673.3M368.8 683.5V674.8M371.6 683.5V672.8M372.9 683.5V671.7M374.5 683.5V674.1M376.8 683.5V671.2M378.4 683.5V674.6M380.5 683.5V672.6M382.5 683.5V672.5M385.5 683.5V675.3M387.4 683.5V671.9M390 683.5V670.8M391.9 683.5V674.8M394.2 683.5V671.7M396.8 683.5V673.5M398.3 683.5V672.5M400 683.5V675.2M401.3 683.5V674M403.1 683.5V672.6M405.1 683.5V672.7M407.5 683.5V674.4M410.1 683.5V671.6M412.7 683.5V672.4M414.9 683.5V670.4M417.3 683.5V674M420 683.5V674.4M421.7 683.5V670.5M423.7 683.5V674.5M426.5 683.5V672.2M427.8 683.5V673.7M429.6 683.5V674M432.1 683.5V674.2M433.5 683.5V670.2M435.7 683.5V672.9M438.5 683.5V671.5M441.2 683.5V673.3M442.9 683.5V673.1M445 683.5V671.3M446.6 683.5V671.4M449.4 683.5V669.9M450.7 683.5V672.1M453 683.5V674.2M455.9 683.5V669.6M458.1 683.5V671.8M460.5 683.5V672.6M462.7 683.5V671.8M464.5 683.5V672.1M465.9 683.5V671.5M467.5 683.5V674.3M469 683.5V672.4M471.1 683.5V674M473.2 683.5V674.1M475 683.5V675.6M477.6 683.5V673.5M479.1 683.5V676.1M481 683.5V673.3M482.7 683.5V676M484.7 683.5V674.9M487 683.5V675.7M489 683.5V672.1M491.5 683.5V676.1M493.6 683.5V676.3M496.5 683.5V676M499.4 683.5V676.1M501 683.5V675.7M502.8 683.5V675.7M504.7 683.5V675.4M506.2 683.5V674.3M508.6 683.5V676.1M510.1 683.5V676.6M511.6 683.5V674.9M513.9 683.5V672.4M516.6 683.5V676.3M518.3 683.5V676.2M519.6 683.5V676.6M521.8 683.5V672.3M524.7 683.5V676.6M526.4 683.5V675.7M529.1 683.5V676.5M531.1 683.5V672.9M533.7 683.5V676.3M535.8 683.5V674M537.3 683.5V672.9M539.7 683.5V675.6M541.5 683.5V676.5M544.3 683.5V676.3M546.5 683.5V673.9M548.8 683.5V673.4M550.5 683.5V674.1M552.1 683.5V673.9M554.7 683.5V675.2M557.1 683.5V674.1M558.4 683.5V676.2M560 683.5V674M562.7 683.5V676.2M565.5 683.5V676.3M567.5 683.5V673M569.2 683.5V673M570.5 683.5V676M573.2 683.5V674.2M574.7 683.5V675.1M576.8 683.5V676.7M579.7 683.5V676.7M582.5 683.5V674M584.9 683.5V675.7M586.5 683.5V675.1M589.4 683.5V676.5M591.5 683.5V674.3M594.4 683.5V673.6M597.2 683.5V673.5M599.2 683.5V671.9M600.5 683.5V673.2M601.8 683.5V676.1M603.1 683.5V674.8M605.8 683.5V672.8M608.1 683.5V675.1M609.8 683.5V674.7M611.6 683.5V674.4M614 683.5V676M616.8 683.5V675.9M619.5 683.5V676.1M620.8 683.5V671.5M622.6 683.5V674.9M625.2 683.5V676M627.4 683.5V672.1M629.5 683.5V676.1M631 683.5V672M632.6 683.5V673.1M634.9 683.5V672.6M637.3 683.5V673.8M639.9 683.5V672.1M641.5 683.5V675.3M643.8 683.5V672.5M646.2 683.5V674.3M649.1 683.5V672.4M651.1 683.5V674.8M652.6 683.5V674.4M655 683.5V673.6M657.7 683.5V674.2M660.3 683.5V669.5M662.7 683.5V671M664.5 683.5V673.4M666.4 683.5V673.8M669.3 683.5V674.1M672.2 683.5V671.6M673.9 683.5V673.6M675.9 683.5V673.4M678.7 683.5V672.3M680.8 683.5V672.7M682.6 683.5V675M684.6 683.5V671.1M687.2 683.5V675.3M689.5 683.5V671.6M691.8 683.5V670.6M693.6 683.5V675.2M695.5 683.5V675.5M698.2 683.5V674.1M700.6 683.5V673.8M702.7 683.5V674.4M705.3 683.5V671.4M708.3 683.5V673.4M710.3 683.5V673.4M713.2 683.5V674.5M714.5 683.5V673.2M717.2 683.5V674.3M719 683.5V671.1M721.3 683.5V673.1M723.9 683.5V669.2M205.8 683.5V692.3M207.8 683.5V693.4M209.5 683.5V693.5M212.4 683.5V695.4M213.9 683.5V695M216.3 683.5V692.7M218.1 683.5V692.3M220.2 683.5V695.4M222 683.5V693M223.7 683.5V697.2M225.3 683.5V693.7M227 683.5V693.9M229.6 683.5V696.9M231.8 683.5V698.1M233.5 683.5V696.3M235.4 683.5V693.4M237.3 683.5V693.2M239.7 683.5V693.2M242.1 683.5V698M243.4 683.5V694.9M245.8 683.5V697.6M248.1 683.5V693.3M250.6 683.5V693.9M251.9 683.5V699.3M253.8 683.5V694.2M255.3 683.5V695.5M257.7 683.5V693.5M259.8 683.5V696.2M262.6 683.5V695.9M264.1 683.5V697.5M265.5 683.5V693.7M268.3 683.5V697.3M270.1 683.5V694.3M271.6 683.5V695.8M273.6 683.5V701.7M275.6 683.5V695.6M277.7 683.5V694.9M279.8 683.5V695.6M281.4 683.5V695.5M284 683.5V693.6M286.3 683.5V701.5M288.5 683.5V696.2M291.3 683.5V699M293.1 683.5V693.4M295.9 683.5V696.1M297.7 683.5V693.4M299.3 683.5V698.9M301.6 683.5V693.6M304.1 683.5V698.4M305.5 683.5V696.5M307.3 683.5V694.6M309.1 683.5V695.7M310.5 683.5V699.8M312 683.5V700.1M313.3 683.5V694.7M315 683.5V700M316.8 683.5V700M318.7 683.5V693M320.6 683.5V692.9M322.7 683.5V693.2M324.3 683.5V693.1M326.1 683.5V699.5M328.3 683.5V696M330.9 683.5V693.9M333.3 683.5V691.9M335.4 683.5V695.3M337.3 683.5V691.8M340.1 683.5V695M341.9 683.5V691.8M343.8 683.5V693.2M345.5 683.5V695.5M347.7 683.5V695.2M349.8 683.5V696.1M352.2 683.5V693.3M354.2 683.5V695.5M356.6 683.5V693.6M358.1 683.5V695.7M360.5 683.5V696.4M362.4 683.5V692M363.8 683.5V692.5M365.9 683.5V692.2M368.3 683.5V692M371.2 683.5V691.9M372.7 683.5V691.8M375.3 683.5V695.7M377.7 683.5V692.2M380.4 683.5V694.5M382.1 683.5V695.8M384.6 683.5V692.3M386.8 683.5V691.6M388.2 683.5V691.7M390.9 683.5V693.1M393.1 683.5V695.9M394.9 683.5V691.9M396.6 683.5V696M398.4 683.5V691.7M399.7 683.5V693M402.5 683.5V692.6M405.1 683.5V693.4M408 683.5V694.9M409.6 683.5V693.2M411.8 683.5V693.6M413.8 683.5V697.6M415.1 683.5V693.4M417.6 683.5V697.2M420.4 683.5V693.5M422.2 683.5V697.1M424.5 683.5V697.6M425.9 683.5V696.1M428.4 683.5V698M430.1 683.5V694.9M432.8 683.5V693.9M434.2 683.5V695.5M435.8 683.5V692.5M438.7 683.5V694.1M441.6 683.5V698.4M443.1 683.5V693.4M445.6 683.5V693.2M447.1 683.5V692.9M449.8 683.5V698.5M452.5 683.5V694.3M454.2 683.5V695.3M455.5 683.5V693.4M458.3 683.5V699.4M460.2 683.5V693.4M462.5 683.5V698.6M464.7 683.5V695.3M467.1 683.5V695.6M468.8 683.5V692.4M470.9 683.5V692.5M473.8 683.5V691.3M475.1 683.5V692.7M478 683.5V694.8M479.5 683.5V695.1M482.3 683.5V691.1M484 683.5V690.9M486 683.5V692.3M487.6 683.5V692.1M489.8 683.5V690.7M492.1 683.5V690.6M494.2 683.5V690.8M495.7 683.5V692.4M498.3 683.5V692.2M499.8 683.5V690.8M502.5 683.5V692.4M504.2 683.5V691.5M505.7 683.5V692.4M507 683.5V693.6M508.6 683.5V691.4M511.4 683.5V690.5M513.3 683.5V692.7M515.6 683.5V693.9M518.2 683.5V691.8M520.8 683.5V690.9M523.4 683.5V693.9M524.7 683.5V693.5M526.5 683.5V690.6M528 683.5V691M530.6 683.5V694.1M533 683.5V691.3M534.7 683.5V690.8M536.1 683.5V691.8M538.4 683.5V693.7M541 683.5V694.2M543.2 683.5V693.3M545.5 683.5V692.8M548 683.5V690.5M549.4 683.5V690.8M551.3 683.5V691.7M552.7 683.5V692.8M555 683.5V691.3M557.7 683.5V690.9M559.6 683.5V694.9M561.2 683.5V690.7M562.6 683.5V691.4M564.8 683.5V691.3M567 683.5V692.7M569.2 683.5V695M571.8 683.5V690.4M574.6 683.5V693.1M577.1 683.5V694M579.8 683.5V690.8M581.7 683.5V692.8M583.9 683.5V693.4M585.9 683.5V693M587.7 683.5V691.2M590.1 683.5V691.8M591.9 683.5V691.8M593.8 683.5V691.5M595.7 683.5V692.7M597.2 683.5V691.8M599.6 683.5V691.8M602.2 683.5V691.5M604.2 683.5V692.2M606 683.5V692.5M608.8 683.5V695.1M610.3 683.5V694.3M612.6 683.5V692.5M614.2 683.5V691.5M616.2 683.5V691.1M618.9 683.5V695M621.8 683.5V691M623.3 683.5V695.6M625.6 683.5V691.6M628.1 683.5V693.2M630.5 683.5V695.1M632.2 683.5V691.7M634.6 683.5V695.7M636.7 683.5V693.5M638.8 683.5V691.3M641.6 683.5V693.9M643.2 683.5V691.9M645.2 683.5V696.3M647.8 683.5V696.3M650.7 683.5V695.1M652.4 683.5V692.3M654.7 683.5V693.8M656.3 683.5V697.4M657.6 683.5V692.2M659.2 683.5V694M661.7 683.5V692.3M663.3 683.5V695.4M666.1 683.5V693.7M668.9 683.5V694.5M670.9 683.5V692.5M672.6 683.5V693.1M675.4 683.5V694.9M677.9 683.5V696.6M680.6 683.5V692.8M682.2 683.5V691.7M684.6 683.5V692.1M687.1 683.5V696.1M688.7 683.5V696M690.4 683.5V693.6M693.1 683.5V691.5M694.8 683.5V692.1M697.4 683.5V695.7M699.5 683.5V691.6M702.1 683.5V692.3M704.4 683.5V696.2M706.9 683.5V694M709.2 683.5V693.3M711.4 683.5V692.9M713.9 683.5V696.5M715.2 683.5V692.6M717.5 683.5V697.9M719.7 683.5V694.4M721.4 683.5V696.1M722.7 683.5V693.5M207 683.5V666.5M238 683.5V658.5M254.6 683.5V662.5M262 683.5V665.5M271.6 683.5V644.5M286.3 683.5V655M289.3 683.5V653.5M292.6 683.5V661.5M297.7 683.5V664M306.6 683.5V664.5M316.7 683.5V666.5M321.8 683.5V667M342.6 683.5V667.8M367.5 683.5V650M400.5 683.5V668.5M416 683.5V667M445 683.5V668.5M452.5 683.5V667M461.4 683.5V660.9M462.7 683.5V660.9M513.3 683.5V672.5M560 683.5V667M594.5 683.5V671M622.4 683.5V665.2M648.3 683.5V659.6M660.5 683.5V668.5M669.4 683.5V665.2M676.5 683.5V651.5M682 683.5V669M718.4 683.5V623.5M720.2 683.5V656.5M230.5 683.5V701.5M238 683.5V702.5M253 683.5V706.5M264 683.5V712.5M271.6 683.5V713.2M285.3 683.5V761.5M289.3 683.5V710.2M293.4 683.5V711.5M301.5 683.5V707.1M311.7 683.5V701.5M321.8 683.5V701.5M342 683.5V703M368 683.5V708.1M385 683.5V702.5M429.7 683.5V700.5M438.5 683.5V702M462.2 683.5V715.2M462.9 683.5V715.2M475.7 683.5V699.5M482.3 683.5V699.5M546.3 683.5V697M559.5 683.5V757.1M594.5 683.5V743.9M636.4 683.5V707.1M644 683.5V700M656.7 683.5V699.5M670.2 683.5V703.5M674.5 683.5V730M677 683.5V708.1M682.8 683.5V704.5M718.9 683.5V719M724 683.5V707.1" fill="none" stroke="#0000ff" stroke-width="2" stroke-linejoin="round" stroke-linecap="round"/>
<g clip-path="url(#c0)"><g filter="url(#jet)" fill="#fff">
<rect x="875.5" y="45.5" width="564.7" height="227" fill="#000"/>
<g filter="url(#bA)"><path d="M926.7 146.5 925.1 150.5 924.1 158.5 924.1 166.5 924.2 174.5 924.4 182.5 924.5 190.5 924.8 198.5 925 206.5 925.3 214.5 925.6 222.5 926 230.5 926.7 238.5 929.5 242.5 932.1 238.5 932.3 230.5 932.2 222.5 932 214.5 931.8 206.5 931.6 198.5 931.4 190.5 931.1 182.5 930.8 174.5 930.4 166.5 929.9 158.5 928.5 150.5Z" fill-opacity="0.070"/><path d="M926.9 154.5 924.4 158.5 924.3 166.5 924.3 174.5 924.5 182.5 924.7 190.5 924.9 198.5 925.1 206.5 925.4 214.5 925.8 222.5 926.2 230.5 927.1 238.5 929.5 242.5 931.6 238.5 932.1 230.5 932 222.5 931.9 214.5 931.7 206.5 931.5 198.5 931.2 190.5 930.9 182.5 930.6 174.5 930.2 166.5 929.7 158.5Z" fill-opacity="0.026"/><path d="M926.9 154.5 924.7 158.5 924.5 166.5 924.5 174.5 924.6 182.5 924.8 190.5 925.1 198.5 925.3 206.5 925.6 214.5 925.9 222.5 926.4 230.5 928.2 238.5 929.5 242.5 930.5 238.5 931.8 230.5 931.8 222.5 931.7 214.5 931.5 206.5 931.3 198.5 931.1 190.5 930.8 182.5 930.5 174.5 930 166.5 929.3 158.5Z" fill-opacity="0.035"/><path d="M926.9 154.5 925.6 158.5 924.7 166.5 924.7 174.5 924.8 182.5 925 190.5 925.2 198.5 925.5 206.5 925.8 214.5 926.2 222.5 926.9 230.5 929.2 234.5 931.4 230.5 931.6 222.5 931.5 214.5 931.4 206.5 931.1 198.5 930.9 190.5 930.6 182.5 930.2 174.5 929.8 166.5 928.5 158.5Z" fill-opacity="0.049"/><path d="M927.1 162.5 925.3 166.5 925 174.5 925.1 182.5 925.2 190.5 925.5 198.5 925.7 206.5 926.1 214.5 926.6 222.5 927.9 230.5 929.2 234.5 930.3 230.5 931.2 222.5 931.3 214.5 931.1 206.5 930.9 198.5 930.7 190.5 930.4 182.5 930 174.5 929.2 166.5Z" fill-opacity="0.069"/><path d="M927.1 162.5 926.7 166.5 925.7 174.5 925.5 182.5 925.5 190.5 925.7 198.5 926.1 206.5 926.6 214.5 927.6 222.5 929 226.5 930.2 222.5 930.7 214.5 930.8 206.5 930.6 198.5 930.4 190.5 930 182.5 929.3 174.5 927.8 166.5Z" fill-opacity="0.099"/><path d="M927.6 178.5 926.4 182.5 926.4 190.5 926.6 198.5 927 206.5 927.9 214.5 928.8 218.5 929.4 214.5 929.8 206.5 929.8 198.5 929.5 190.5 929 182.5Z" fill-opacity="0.138"/>
<path d="M954.3 131.7 952.8 137 952.3 147.5 951.9 158 951.6 168.5 951.3 179 950.9 189.5 950.5 200 950 210.5 949.5 221 948.9 231.5 948.4 242 948.3 252.5 956.7 257.8 964.8 252.5 964.3 242 963.4 231.5 962.5 221 961.5 210.5 960.7 200 959.8 189.5 959.1 179 958.3 168.5 957.7 158 956.9 147.5 956 137Z" fill-opacity="0.075"/><path d="M954.3 131.7 953.6 137 952.5 147.5 952.1 158 951.8 168.5 951.5 179 951.1 189.5 950.7 200 950.2 210.5 949.7 221 949.2 231.5 948.8 242 948.9 252.5 956.7 257.8 964.2 252.5 963.9 242 963.1 231.5 962.2 221 961.3 210.5 960.5 200 959.7 189.5 958.9 179 958.2 168.5 957.5 158 956.8 147.5 955.2 137Z" fill-opacity="0.036"/><path d="M954.5 142.3 952.7 147.5 952.3 158 952 168.5 951.7 179 951.3 189.5 950.9 200 950.5 210.5 950 221 949.6 231.5 949.3 242 949.7 252.5 956.7 257.8 963.4 252.5 963.4 242 962.7 231.5 961.9 221 961 210.5 960.2 200 959.4 189.5 958.7 179 958 168.5 957.3 158 956.5 147.5Z" fill-opacity="0.055"/><path d="M954.5 142.3 953.5 147.5 952.6 158 952.2 168.5 951.9 179 951.6 189.5 951.2 200 950.8 210.5 950.4 221 950.1 231.5 949.9 242 951.7 252.5 956.7 257.8 961.4 252.5 962.8 242 962.3 231.5 961.5 221 960.7 210.5 959.9 200 959.2 189.5 958.5 179 957.7 168.5 957 158 955.7 147.5Z" fill-opacity="0.084"/><path d="M954.7 152.8 953.3 158 952.6 168.5 952.2 179 951.9 189.5 951.6 200 951.2 210.5 950.9 221 950.6 231.5 950.8 242 956.5 247.3 962 242 961.7 231.5 961.1 221 960.3 210.5 959.6 200 958.9 189.5 958.1 179 957.4 168.5 956.3 158Z" fill-opacity="0.133"/><path d="M954.9 163.3 953.6 168.5 952.9 179 952.4 189.5 952 200 951.7 210.5 951.5 221 951.7 231.5 953.5 242 956.5 247.3 959.2 242 960.7 231.5 960.5 221 959.8 210.5 959.1 200 958.4 189.5 957.5 179 956.4 168.5Z" fill-opacity="0.223"/><path d="M955.3 184.3 953.9 189.5 953.4 200 953.2 210.5 953.3 221 954.8 231.5 956.3 236.8 957.6 231.5 958.6 221 958.4 210.5 957.7 200 956.9 189.5Z" fill-opacity="0.308"/>
<path d="M969.7 127 968.8 131.9 968.3 141.6 968.1 151.3 967.8 161 967.6 170.7 967.3 180.4 967 190.1 966.7 199.8 966.4 209.5 966.1 219.2 965.8 228.9 965.9 238.6 970.2 243.5 974.4 238.6 974.4 228.9 974.1 219.2 973.7 209.5 973.3 199.8 972.9 190.1 972.6 180.4 972.2 170.7 971.9 161 971.6 151.3 971.2 141.6 970.7 131.9Z" fill-opacity="0.072"/><path d="M969.7 127 969.3 131.9 968.4 141.6 968.2 151.3 967.9 161 967.7 170.7 967.4 180.4 967.1 190.1 966.8 199.8 966.5 209.5 966.3 219.2 966.1 228.9 966.3 238.6 970.2 243.5 974 238.6 974.2 228.9 973.9 219.2 973.5 209.5 973.2 199.8 972.8 190.1 972.5 180.4 972.1 170.7 971.8 161 971.5 151.3 971.1 141.6 970.2 131.9Z" fill-opacity="0.030"/><path d="M969.8 136.7 968.6 141.6 968.3 151.3 968 161 967.8 170.7 967.5 180.4 967.3 190.1 967 199.8 966.7 209.5 966.5 219.2 966.4 228.9 967.4 238.6 970.2 243.5 972.9 238.6 973.9 228.9 973.7 219.2 973.4 209.5 973 199.8 972.7 190.1 972.3 180.4 972 170.7 971.7 161 971.4 151.3 971 141.6Z" fill-opacity="0.043"/><path d="M969.8 136.7 969 141.6 968.4 151.3 968.1 161 967.9 170.7 967.7 180.4 967.4 190.1 967.2 199.8 966.9 209.5 966.8 219.2 966.8 228.9 970.1 233.8 973.4 228.9 973.4 219.2 973.2 209.5 972.8 199.8 972.5 190.1 972.2 180.4 971.9 170.7 971.6 161 971.2 151.3 970.6 141.6Z" fill-opacity="0.063"/><path d="M969.8 146.4 968.7 151.3 968.3 161 968.1 170.7 967.8 180.4 967.6 190.1 967.4 199.8 967.2 209.5 967.1 219.2 968 228.9 970.1 233.8 972.3 228.9 973 219.2 972.9 209.5 972.6 199.8 972.3 190.1 972 180.4 971.7 170.7 971.4 161 970.9 151.3Z" fill-opacity="0.093"/><path d="M969.8 146.4 969.5 151.3 968.8 161 968.3 170.7 968.1 180.4 967.9 190.1 967.7 199.8 967.7 209.5 968.2 219.2 970.1 224.1 972 219.2 972.3 209.5 972.3 199.8 972.1 190.1 971.8 180.4 971.4 170.7 971 161 970.1 151.3Z" fill-opacity="0.143"/><path d="M969.9 165.8 969.1 170.7 968.8 180.4 968.6 190.1 968.6 199.8 969.1 209.5 970.1 214.4 971 209.5 971.4 199.8 971.3 190.1 971.1 180.4 970.7 170.7Z" fill-opacity="0.193"/>
<path d="M985.9 199 983 201.4 982.4 206 982.1 210.7 981.8 215.4 981.6 220.1 981.4 224.8 981.2 229.5 981.1 234.2 981 238.8 981.2 243.5 982 248.2 987.1 250.6 992.2 248.2 992.8 243.5 992.7 238.8 992.4 234.2 992 229.5 991.6 224.8 991.2 220.1 990.7 215.4 990.2 210.7 989.6 206 988.8 201.4Z" fill-opacity="0.082"/><path d="M985.9 199 985.1 201.4 983 206 982.6 210.7 982.3 215.4 982 220.1 981.8 224.8 981.7 229.5 981.6 234.2 981.6 238.8 981.9 243.5 985.1 248.2 987.1 250.6 989 248.2 992 243.5 992.1 238.8 991.9 234.2 991.6 229.5 991.2 224.8 990.8 220.1 990.3 215.4 989.7 210.7 989.1 206 986.8 201.4Z" fill-opacity="0.054"/><path d="M986 203.7 985.5 206 983.6 210.7 982.9 215.4 982.6 220.1 982.4 224.8 982.3 229.5 982.2 234.2 982.5 238.8 984.1 243.5 987 245.9 989.9 243.5 991.2 238.8 991.2 234.2 991 229.5 990.6 224.8 990.2 220.1 989.7 215.4 988.7 210.7 986.6 206Z" fill-opacity="0.091"/><path d="M986.2 213.1 985.6 215.4 984.5 220.1 984.1 224.8 983.9 229.5 984.3 234.2 986.3 238.8 986.9 241.2 987.4 238.8 989.2 234.2 989.3 229.5 989 224.8 988.3 220.1 987 215.4Z" fill-opacity="0.093"/>
<path d="M992.3 185.5 990.4 188.1 990 193.4 989.7 198.8 989.5 204.1 989.3 209.4 989.1 214.7 988.9 220 988.7 225.3 988.6 230.6 988.6 235.9 989.1 241.2 992.8 243.9 996.4 241.2 996.8 235.9 996.8 230.6 996.6 225.3 996.3 220 996.1 214.7 995.8 209.4 995.5 204.1 995.2 198.8 994.8 193.4 994.3 188.1Z" fill-opacity="0.082"/><path d="M992.3 185.5 991.7 188.1 990.4 193.4 990 198.8 989.8 204.1 989.5 209.4 989.3 214.7 989.2 220 989 225.3 989 230.6 989.1 235.9 991.2 241.2 992.8 243.9 994.3 241.2 996.3 235.9 996.4 230.6 996.2 225.3 996 220 995.8 214.7 995.5 209.4 995.2 204.1 994.9 198.8 994.4 193.4 993.1 188.1Z" fill-opacity="0.056"/><path d="M992.4 190.8 991.9 193.4 990.7 198.8 990.2 204.1 989.9 209.4 989.7 214.7 989.6 220 989.5 225.3 989.6 230.6 990.6 235.9 992.7 238.6 994.8 235.9 995.8 230.6 995.8 225.3 995.6 220 995.4 214.7 995.1 209.4 994.8 204.1 994.1 198.8 992.9 193.4Z" fill-opacity="0.096"/><path d="M992.5 201.4 992 204.1 991.2 209.4 990.9 214.7 990.8 220 991 225.3 992.3 230.6 992.7 233.3 993.1 230.6 994.3 225.3 994.4 220 994.2 214.7 993.8 209.4 993 204.1Z" fill-opacity="0.098"/>
<path d="M999.3 143 998.2 147.9 998 157.5 997.9 167.2 997.7 176.8 997.5 186.5 997.3 196.2 997.1 205.8 996.8 215.5 996.6 225.2 996.3 234.8 996.3 244.5 1000.1 249.3 1003.8 244.5 1003.7 234.8 1003.3 225.2 1002.9 215.5 1002.4 205.8 1002.1 196.2 1001.7 186.5 1001.4 176.8 1001 167.2 1000.7 157.5 1000.3 147.9Z" fill-opacity="0.071"/><path d="M999.3 143 998.4 147.9 998.1 157.5 998 167.2 997.8 176.8 997.6 186.5 997.4 196.2 997.2 205.8 996.9 215.5 996.7 225.2 996.5 234.8 996.6 244.5 1000.1 249.3 1003.6 244.5 1003.5 234.8 1003.1 225.2 1002.7 215.5 1002.3 205.8 1002 196.2 1001.6 186.5 1001.3 176.8 1000.9 167.2 1000.6 157.5 1000.2 147.9Z" fill-opacity="0.028"/><path d="M999.3 143 998.8 147.9 998.3 157.5 998.1 167.2 997.9 176.8 997.7 186.5 997.5 196.2 997.3 205.8 997.1 215.5 996.8 225.2 996.7 234.8 996.9 244.5 1000.1 249.3 1003.3 244.5 1003.3 234.8 1003 225.2 1002.6 215.5 1002.2 205.8 1001.8 196.2 1001.5 186.5 1001.2 176.8 1000.8 167.2 1000.5 157.5 999.8 147.9Z" fill-opacity="0.039"/><path d="M999.3 152.7 998.6 157.5 998.2 167.2 998 176.8 997.8 186.5 997.7 196.2 997.5 205.8 997.2 215.5 997 225.2 996.9 234.8 997.5 244.5 1000.1 249.3 1002.6 244.5 1003.1 234.8 1002.8 225.2 1002.4 215.5 1002.1 205.8 1001.7 196.2 1001.4 186.5 1001 176.8 1000.7 167.2 1000.2 157.5Z" fill-opacity="0.055"/><path d="M999.4 162.4 998.6 167.2 998.2 176.8 998 186.5 997.8 196.2 997.6 205.8 997.4 215.5 997.3 225.2 997.2 234.8 999.1 244.5 1000.1 249.3 1001.1 244.5 1002.8 234.8 1002.6 225.2 1002.2 215.5 1001.9 205.8 1001.5 196.2 1001.2 186.5 1000.9 176.8 1000.3 167.2Z" fill-opacity="0.080"/><path d="M999.5 172 998.7 176.8 998.4 186.5 998.1 196.2 997.9 205.8 997.7 215.5 997.6 225.2 998 234.8 1000 239.7 1002 234.8 1002.3 225.2 1002 215.5 1001.6 205.8 1001.3 196.2 1000.8 186.5 1000.3 176.8Z" fill-opacity="0.118"/><path d="M999.6 181.7 999.3 186.5 998.8 196.2 998.6 205.8 998.4 215.5 998.5 225.2 1000 230 1001.4 225.2 1001.2 215.5 1000.9 205.8 1000.5 196.2 999.9 186.5Z" fill-opacity="0.161"/>
<path d="M1007.8 206.5 1004.6 208.4 1004.1 212.2 1003.7 215.9 1003.4 219.7 1003.1 223.5 1002.8 227.2 1002.6 231 1002.4 234.8 1002.3 238.5 1002.3 242.3 1002.8 246.1 1007.8 248 1012.7 246.1 1013.2 242.3 1013.2 238.5 1013.1 234.8 1012.9 231 1012.7 227.2 1012.5 223.5 1012.2 219.7 1011.8 215.9 1011.5 212.2 1010.9 208.4Z" fill-opacity="0.069"/><path d="M1007.8 206.5 1005.1 208.4 1004.3 212.2 1003.9 215.9 1003.6 219.7 1003.3 223.5 1003 227.2 1002.8 231 1002.6 234.8 1002.5 238.5 1002.6 242.3 1003.4 246.1 1007.8 248 1012.1 246.1 1012.9 242.3 1013 238.5 1012.9 234.8 1012.7 231 1012.5 227.2 1012.3 223.5 1012 219.7 1011.6 215.9 1011.2 212.2 1010.5 208.4Z" fill-opacity="0.023"/><path d="M1007.8 206.5 1006.1 208.4 1004.6 212.2 1004.1 215.9 1003.8 219.7 1003.5 223.5 1003.2 227.2 1003 231 1002.9 234.8 1002.8 238.5 1003 242.3 1004.9 246.1 1007.8 248 1010.7 246.1 1012.6 242.3 1012.7 238.5 1012.7 234.8 1012.5 231 1012.3 227.2 1012 223.5 1011.8 219.7 1011.4 215.9 1010.9 212.2 1009.5 208.4Z" fill-opacity="0.031"/><path d="M1007.8 210.3 1005.3 212.2 1004.4 215.9 1004.1 219.7 1003.8 223.5 1003.5 227.2 1003.3 231 1003.2 234.8 1003.2 238.5 1003.5 242.3 1007.8 244.2 1012.1 242.3 1012.4 238.5 1012.4 234.8 1012.2 231 1012 227.2 1011.8 223.5 1011.5 219.7 1011.1 215.9 1010.3 212.2Z" fill-opacity="0.041"/><path d="M1007.8 210.3 1006.5 212.2 1005.1 215.9 1004.4 219.7 1004.1 223.5 1003.8 227.2 1003.6 231 1003.5 234.8 1003.6 238.5 1004.7 242.3 1007.8 244.2 1010.8 242.3 1011.9 238.5 1012 234.8 1011.9 231 1011.7 227.2 1011.5 223.5 1011.1 219.7 1010.5 215.9 1009 212.2Z" fill-opacity="0.056"/><path d="M1007.8 214.1 1006.4 215.9 1005.3 219.7 1004.7 223.5 1004.3 227.2 1004.1 231 1004.1 234.8 1004.7 238.5 1007.8 240.4 1010.8 238.5 1011.4 234.8 1011.5 231 1011.3 227.2 1010.9 223.5 1010.3 219.7 1009.2 215.9Z" fill-opacity="0.078"/><path d="M1007.8 217.8 1007.1 219.7 1005.9 223.5 1005.5 227.2 1005.3 231 1005.5 234.8 1007.3 238.5 1007.8 240.4 1008.3 238.5 1010 234.8 1010.3 231 1010.1 227.2 1009.6 223.5 1008.4 219.7Z" fill-opacity="0.112"/>
<path d="M1090.1 91.1 1089.4 97.3 1089 109.7 1088.7 122.2 1088.4 134.6 1088.1 147.1 1087.8 159.5 1087.4 171.9 1086.9 184.4 1086.4 196.8 1085.9 209.2 1085.3 221.7 1085 234.1 1090.1 240.3 1095.3 234.1 1094.9 221.7 1094.4 209.2 1093.9 196.8 1093.4 184.4 1092.9 171.9 1092.5 159.5 1092.1 147.1 1091.8 134.6 1091.5 122.2 1091.3 109.7 1090.9 97.3Z" fill-opacity="0.075"/><path d="M1090.1 91.1 1089.7 97.3 1089.1 109.7 1088.8 122.2 1088.5 134.6 1088.2 147.1 1087.9 159.5 1087.5 171.9 1087 184.4 1086.5 196.8 1086 209.2 1085.6 221.7 1085.3 234.1 1090.1 240.3 1094.9 234.1 1094.7 221.7 1094.2 209.2 1093.7 196.8 1093.2 184.4 1092.8 171.9 1092.4 159.5 1092.1 147.1 1091.7 134.6 1091.5 122.2 1091.2 109.7 1090.5 97.3Z" fill-opacity="0.037"/><path d="M1090.1 103.5 1089.2 109.7 1088.9 122.2 1088.6 134.6 1088.3 147.1 1088 159.5 1087.6 171.9 1087.2 184.4 1086.7 196.8 1086.2 209.2 1085.8 221.7 1085.8 234.1 1090.1 240.3 1094.5 234.1 1094.4 221.7 1094 209.2 1093.5 196.8 1093.1 184.4 1092.7 171.9 1092.3 159.5 1091.9 147.1 1091.6 134.6 1091.3 122.2 1091 109.7Z" fill-opacity="0.056"/><path d="M1090.1 103.5 1089.6 109.7 1089 122.2 1088.7 134.6 1088.4 147.1 1088.1 159.5 1087.8 171.9 1087.4 184.4 1086.9 196.8 1086.5 209.2 1086.2 221.7 1086.6 234.1 1090.1 240.3 1093.6 234.1 1094.1 221.7 1093.8 209.2 1093.3 196.8 1092.9 184.4 1092.5 171.9 1092.1 159.5 1091.8 147.1 1091.5 134.6 1091.2 122.2 1090.6 109.7Z" fill-opacity="0.087"/><path d="M1090.1 116 1089.5 122.2 1088.9 134.6 1088.6 147.1 1088.3 159.5 1087.9 171.9 1087.6 184.4 1087.2 196.8 1086.8 209.2 1086.6 221.7 1089.2 234.1 1090.1 240.3 1091 234.1 1093.6 221.7 1093.4 209.2 1093.1 196.8 1092.7 184.4 1092.3 171.9 1092 159.5 1091.6 147.1 1091.3 134.6 1090.8 122.2Z" fill-opacity="0.139"/><path d="M1090.1 128.4 1089.5 134.6 1089 147.1 1088.6 159.5 1088.2 171.9 1087.9 184.4 1087.5 196.8 1087.3 209.2 1087.9 221.7 1090.1 227.9 1092.3 221.7 1093 209.2 1092.7 196.8 1092.4 184.4 1092 171.9 1091.7 159.5 1091.2 147.1 1090.7 134.6Z" fill-opacity="0.236"/><path d="M1090.1 153.3 1089.5 159.5 1089 171.9 1088.7 184.4 1088.5 196.8 1088.8 209.2 1090.1 215.5 1091.4 209.2 1091.8 196.8 1091.5 184.4 1091.2 171.9 1090.8 159.5Z" fill-opacity="0.328"/>
<path d="M1106.8 197.2 1105.8 199.8 1104 205.1 1103.5 210.3 1103.2 215.6 1102.9 220.9 1102.7 226.1 1102.4 231.4 1102.2 236.7 1102 242 1101.8 247.2 1101.8 252.5 1102.2 257.8 1107.7 260.4 1113.2 257.8 1113.4 252.5 1113.3 247.2 1112.9 242 1112.6 236.7 1112.2 231.4 1111.8 226.1 1111.3 220.9 1110.9 215.6 1110.4 210.3 1109.8 205.1 1107.9 199.8Z" fill-opacity="0.070"/><path d="M1106.9 202.4 1104.3 205.1 1103.8 210.3 1103.4 215.6 1103.1 220.9 1102.9 226.1 1102.6 231.4 1102.4 236.7 1102.2 242 1102.1 247.2 1102.1 252.5 1102.7 257.8 1107.7 260.4 1112.7 257.8 1113.1 252.5 1113 247.2 1112.7 242 1112.4 236.7 1112 231.4 1111.6 226.1 1111.2 220.9 1110.7 215.6 1110.2 210.3 1109.6 205.1Z" fill-opacity="0.027"/><path d="M1106.9 202.4 1104.9 205.1 1104 210.3 1103.6 215.6 1103.3 220.9 1103.1 226.1 1102.8 231.4 1102.6 236.7 1102.4 242 1102.4 247.2 1102.5 252.5 1103.8 257.8 1107.7 260.4 1111.5 257.8 1112.7 252.5 1112.7 247.2 1112.5 242 1112.1 236.7 1111.8 231.4 1111.4 226.1 1110.9 220.9 1110.5 215.6 1110 210.3 1108.9 205.1Z" fill-opacity="0.037"/><path d="M1106.9 202.4 1106.6 205.1 1104.4 210.3 1103.9 215.6 1103.6 220.9 1103.3 226.1 1103.1 231.4 1102.9 236.7 1102.7 242 1102.7 247.2 1103 252.5 1106.4 257.8 1107.7 260.4 1109 257.8 1112.3 252.5 1112.3 247.2 1112.2 242 1111.9 236.7 1111.5 231.4 1111.1 226.1 1110.7 220.9 1110.2 215.6 1109.5 210.3 1107.2 205.1Z" fill-opacity="0.052"/><path d="M1106.9 207.7 1105.5 210.3 1104.4 215.6 1103.9 220.9 1103.6 226.1 1103.4 231.4 1103.2 236.7 1103.1 242 1103.2 247.2 1104.1 252.5 1107.6 255.1 1111.1 252.5 1111.9 247.2 1111.8 242 1111.5 236.7 1111.2 231.4 1110.8 226.1 1110.4 220.9 1109.7 215.6 1108.4 210.3Z" fill-opacity="0.074"/><path d="M1107 213 1105.6 215.6 1104.7 220.9 1104.2 226.1 1103.8 231.4 1103.7 236.7 1103.7 242 1104.3 247.2 1106.8 252.5 1107.6 255.1 1108.4 252.5 1110.8 247.2 1111.2 242 1111.1 236.7 1110.8 231.4 1110.3 226.1 1109.6 220.9 1108.5 215.6Z" fill-opacity="0.108"/><path d="M1107.1 218.2 1106.5 220.9 1105.5 226.1 1105.1 231.4 1104.9 236.7 1105.2 242 1107 247.2 1107.6 249.9 1108 247.2 1109.7 242 1109.8 236.7 1109.5 231.4 1108.9 226.1 1107.8 220.9Z" fill-opacity="0.149"/>
<path d="M1119.6 130.6 1117.9 136 1117.1 146.8 1116.5 157.6 1115.8 168.4 1115.1 179.2 1114.4 190 1113.7 200.8 1112.9 211.6 1112 222.4 1111.1 233.2 1110.3 244 1109.9 254.8 1117.7 260.2 1125.7 254.8 1125.6 244 1125.1 233.2 1124.6 222.4 1124 211.6 1123.5 200.8 1123.1 190 1122.7 179.2 1122.3 168.4 1122 157.6 1121.7 146.8 1121.2 136Z" fill-opacity="0.075"/><path d="M1119.6 130.6 1118.4 136 1117.3 146.8 1116.6 157.6 1116 168.4 1115.3 179.2 1114.6 190 1113.9 200.8 1113.1 211.6 1112.3 222.4 1111.5 233.2 1110.8 244 1110.6 254.8 1117.7 260.2 1125 254.8 1125.2 244 1124.8 233.2 1124.3 222.4 1123.8 211.6 1123.3 200.8 1122.9 190 1122.5 179.2 1122.2 168.4 1121.8 157.6 1121.5 146.8 1120.7 136Z" fill-opacity="0.037"/><path d="M1119.5 141.4 1117.5 146.8 1116.8 157.6 1116.1 168.4 1115.5 179.2 1114.8 190 1114.1 200.8 1113.4 211.6 1112.6 222.4 1111.8 233.2 1111.3 244 1111.5 254.8 1117.7 260.2 1124.1 254.8 1124.7 244 1124.4 233.2 1124 222.4 1123.5 211.6 1123.1 200.8 1122.7 190 1122.3 179.2 1122 168.4 1121.7 157.6 1121.3 146.8Z" fill-opacity="0.056"/><path d="M1119.5 141.4 1118 146.8 1117 157.6 1116.4 168.4 1115.7 179.2 1115.1 190 1114.4 200.8 1113.7 211.6 1113 222.4 1112.3 233.2 1111.9 244 1114.4 254.8 1117.7 260.2 1121.3 254.8 1124 244 1124 233.2 1123.6 222.4 1123.2 211.6 1122.8 200.8 1122.5 190 1122.1 179.2 1121.8 168.4 1121.4 157.6 1120.8 146.8Z" fill-opacity="0.086"/><path d="M1119.3 152.2 1117.5 157.6 1116.7 168.4 1116 179.2 1115.4 190 1114.7 200.8 1114 211.6 1113.4 222.4 1112.9 233.2 1113.3 244 1117.9 249.4 1122.7 244 1123.4 233.2 1123.2 222.4 1122.8 211.6 1122.5 200.8 1122.2 190 1121.8 179.2 1121.5 168.4 1121 157.6Z" fill-opacity="0.136"/><path d="M1119.3 152.2 1119 157.6 1117.4 168.4 1116.5 179.2 1115.8 190 1115.1 200.8 1114.6 211.6 1114.1 222.4 1114.4 233.2 1118.1 238.6 1121.9 233.2 1122.5 222.4 1122.3 211.6 1122.1 200.8 1121.7 190 1121.4 179.2 1120.8 168.4 1119.5 157.6Z" fill-opacity="0.230"/><path d="M1119 173.8 1117.9 179.2 1117 190 1116.4 200.8 1116.1 211.6 1116.3 222.4 1118.2 227.8 1120.3 222.4 1120.8 211.6 1120.8 200.8 1120.5 190 1120 179.2Z" fill-opacity="0.318"/>
<path d="M1112.3 188.7 1108.9 191.8 1108.1 198 1107.6 204.3 1107.1 210.5 1106.6 216.8 1106.1 223 1105.6 229.3 1105.2 235.5 1104.9 241.8 1104.8 248 1105.6 254.3 1112.3 257.4 1119.1 254.3 1119.9 248 1119.8 241.8 1119.4 235.5 1119 229.3 1118.6 223 1118.1 216.8 1117.6 210.5 1117.1 204.3 1116.5 198 1115.8 191.8Z" fill-opacity="0.068"/><path d="M1112.3 188.7 1109.3 191.8 1108.4 198 1107.8 204.3 1107.3 210.5 1106.8 216.8 1106.3 223 1105.9 229.3 1105.5 235.5 1105.2 241.8 1105.3 248 1107.2 254.3 1112.3 257.4 1117.4 254.3 1119.4 248 1119.4 241.8 1119.2 235.5 1118.8 229.3 1118.3 223 1117.9 216.8 1117.4 210.5 1116.9 204.3 1116.3 198 1115.4 191.8Z" fill-opacity="0.021"/><path d="M1112.3 188.7 1110.3 191.8 1108.7 198 1108.1 204.3 1107.5 210.5 1107.1 216.8 1106.6 223 1106.2 229.3 1105.9 235.5 1105.7 241.8 1105.8 248 1110.4 254.3 1112.3 257.4 1114.3 254.3 1118.8 248 1119 241.8 1118.8 235.5 1118.5 229.3 1118.1 223 1117.6 216.8 1117.1 210.5 1116.6 204.3 1116 198 1114.4 191.8Z" fill-opacity="0.028"/><path d="M1112.3 194.9 1109.3 198 1108.4 204.3 1107.8 210.5 1107.4 216.8 1106.9 223 1106.5 229.3 1106.3 235.5 1106.2 241.8 1107 248 1112.3 251.1 1117.7 248 1118.5 241.8 1118.4 235.5 1118.1 229.3 1117.7 223 1117.3 216.8 1116.8 210.5 1116.3 204.3 1115.4 198Z" fill-opacity="0.037"/><path d="M1112.3 194.9 1110.5 198 1109 204.3 1108.2 210.5 1107.7 216.8 1107.3 223 1107 229.3 1106.8 235.5 1107 241.8 1109.2 248 1112.3 251.1 1115.4 248 1117.7 241.8 1117.9 235.5 1117.7 229.3 1117.4 223 1116.9 216.8 1116.4 210.5 1115.7 204.3 1114.2 198Z" fill-opacity="0.049"/><path d="M1112.3 201.2 1110.2 204.3 1109.1 210.5 1108.4 216.8 1107.9 223 1107.7 229.3 1107.8 235.5 1108.9 241.8 1112.3 244.9 1115.8 241.8 1116.8 235.5 1117 229.3 1116.8 223 1116.3 216.8 1115.6 210.5 1114.4 204.3Z" fill-opacity="0.066"/><path d="M1112.3 207.4 1110.7 210.5 1109.8 216.8 1109.3 223 1109.2 229.3 1109.9 235.5 1112.3 238.6 1114.8 235.5 1115.4 229.3 1115.4 223 1114.9 216.8 1114 210.5Z" fill-opacity="0.098"/>
<path d="M1136.2 172.8 1135.5 176.6 1133.6 184 1133.1 191.4 1132.6 198.8 1132.1 206.2 1131.7 213.7 1131.3 221.1 1130.8 228.5 1130.3 235.9 1129.9 243.3 1129.7 250.7 1129.9 258.2 1136.2 261.9 1142.5 258.2 1142.7 250.7 1142.4 243.3 1142 235.9 1141.6 228.5 1141.1 221.1 1140.7 213.7 1140.2 206.2 1139.8 198.8 1139.3 191.4 1138.8 184 1136.9 176.6Z" fill-opacity="0.070"/><path d="M1136.2 180.3 1133.9 184 1133.2 191.4 1132.8 198.8 1132.3 206.2 1131.9 213.7 1131.5 221.1 1131 228.5 1130.6 235.9 1130.2 243.3 1130 250.7 1130.5 258.2 1136.2 261.9 1141.9 258.2 1142.4 250.7 1142.2 243.3 1141.8 235.9 1141.4 228.5 1140.9 221.1 1140.5 213.7 1140.1 206.2 1139.6 198.8 1139.1 191.4 1138.5 184Z" fill-opacity="0.026"/><path d="M1136.2 180.3 1134.5 184 1133.5 191.4 1133 198.8 1132.5 206.2 1132.1 213.7 1131.7 221.1 1131.3 228.5 1130.9 235.9 1130.5 243.3 1130.5 250.7 1132 258.2 1136.2 261.9 1140.4 258.2 1141.9 250.7 1141.8 243.3 1141.5 235.9 1141.1 228.5 1140.7 221.1 1140.3 213.7 1139.9 206.2 1139.4 198.8 1138.9 191.4 1137.9 184Z" fill-opacity="0.035"/><path d="M1136.2 187.7 1133.9 191.4 1133.2 198.8 1132.8 206.2 1132.4 213.7 1131.9 221.1 1131.5 228.5 1131.2 235.9 1130.9 243.3 1131 250.7 1135.4 258.2 1136.2 261.9 1137 258.2 1141.4 250.7 1141.4 243.3 1141.2 235.9 1140.9 228.5 1140.4 221.1 1140 213.7 1139.6 206.2 1139.1 198.8 1138.5 191.4Z" fill-opacity="0.049"/><path d="M1136.2 187.7 1134.9 191.4 1133.7 198.8 1133.1 206.2 1132.7 213.7 1132.3 221.1 1131.9 228.5 1131.6 235.9 1131.4 243.3 1132.3 250.7 1136.2 254.5 1140 250.7 1140.9 243.3 1140.8 235.9 1140.5 228.5 1140.1 221.1 1139.7 213.7 1139.3 206.2 1138.7 198.8 1137.5 191.4Z" fill-opacity="0.069"/><path d="M1136.2 195.1 1134.8 198.8 1133.9 206.2 1133.2 213.7 1132.7 221.1 1132.3 228.5 1132.2 235.9 1132.7 243.3 1135.6 250.7 1136.2 254.5 1136.8 250.7 1139.7 243.3 1140.2 235.9 1140 228.5 1139.7 221.1 1139.2 213.7 1138.5 206.2 1137.5 198.8Z" fill-opacity="0.099"/><path d="M1136.2 202.5 1135.6 206.2 1134.5 213.7 1133.9 221.1 1133.6 228.5 1133.8 235.9 1135.6 243.3 1136.2 247 1136.8 243.3 1138.6 235.9 1138.7 228.5 1138.5 221.1 1137.9 213.7 1136.8 206.2Z" fill-opacity="0.138"/>
<path d="M1141.9 35.7 1140.4 41.9 1140.4 54.3 1140.6 66.7 1140.7 79.1 1140.9 91.5 1141.1 103.9 1141.3 116.3 1141.5 128.7 1141.7 141.1 1141.9 153.5 1142.2 165.9 1142.7 178.3 1145.2 184.5 1147.4 178.3 1147.3 165.9 1147.1 153.5 1146.8 141.1 1146.4 128.7 1146.1 116.3 1145.7 103.9 1145.4 91.5 1145 79.1 1144.6 66.7 1144.2 54.3 1143.7 41.9Z" fill-opacity="0.075"/><path d="M1141.9 35.7 1140.6 41.9 1140.5 54.3 1140.6 66.7 1140.8 79.1 1141 91.5 1141.2 103.9 1141.4 116.3 1141.6 128.7 1141.8 141.1 1142.1 153.5 1142.4 165.9 1143 178.3 1145.2 184.5 1147.1 178.3 1147.2 165.9 1146.9 153.5 1146.7 141.1 1146.3 128.7 1146 116.3 1145.6 103.9 1145.3 91.5 1144.9 79.1 1144.6 66.7 1144.1 54.3 1143.5 41.9Z" fill-opacity="0.036"/><path d="M1141.9 35.7 1140.8 41.9 1140.6 54.3 1140.7 66.7 1140.9 79.1 1141.1 91.5 1141.3 103.9 1141.5 116.3 1141.7 128.7 1142 141.1 1142.3 153.5 1142.6 165.9 1144 178.3 1145.2 184.5 1146.1 178.3 1146.9 165.9 1146.8 153.5 1146.5 141.1 1146.2 128.7 1145.9 116.3 1145.5 103.9 1145.2 91.5 1144.8 79.1 1144.5 66.7 1144 54.3 1143.3 41.9Z" fill-opacity="0.054"/><path d="M1141.9 35.7 1141.4 41.9 1140.8 54.3 1140.9 66.7 1141 79.1 1141.2 91.5 1141.4 103.9 1141.6 116.3 1141.9 128.7 1142.1 141.1 1142.5 153.5 1143.1 165.9 1144.9 172.1 1146.5 165.9 1146.5 153.5 1146.3 141.1 1146 128.7 1145.7 116.3 1145.4 103.9 1145.1 91.5 1144.7 79.1 1144.3 66.7 1143.9 54.3 1142.7 41.9Z" fill-opacity="0.083"/><path d="M1142.2 48.1 1141 54.3 1141 66.7 1141.2 79.1 1141.4 91.5 1141.6 103.9 1141.8 116.3 1142.1 128.7 1142.4 141.1 1143 153.5 1144.5 165.9 1144.9 172.1 1145.1 165.9 1146.1 153.5 1146.1 141.1 1145.8 128.7 1145.6 116.3 1145.2 103.9 1144.9 91.5 1144.6 79.1 1144.2 66.7 1143.7 54.3Z" fill-opacity="0.130"/><path d="M1142.2 48.1 1141.6 54.3 1141.2 66.7 1141.4 79.1 1141.6 91.5 1141.8 103.9 1142.1 116.3 1142.5 128.7 1143.1 141.1 1144.4 147.3 1145.4 141.1 1145.4 128.7 1145.3 116.3 1145 103.9 1144.7 91.5 1144.4 79.1 1144 66.7 1143 54.3Z" fill-opacity="0.217"/><path d="M1142.5 60.5 1142 66.7 1141.9 79.1 1142.2 91.5 1142.5 103.9 1142.9 116.3 1143.8 122.5 1144.4 116.3 1144.3 103.9 1144.1 91.5 1143.8 79.1 1143.2 66.7Z" fill-opacity="0.298"/>
<path d="M1151.9 111.5 1150.6 118.6 1150.2 132.7 1149.7 146.9 1149.3 161 1148.7 175.2 1148.1 189.3 1147.4 203.5 1146.5 217.7 1145.6 231.8 1144.5 246 1143.4 260.1 1142.5 274.3 1152.4 281.3 1162.3 274.3 1161.4 260.1 1160.2 246 1159 231.8 1158 217.7 1157 203.5 1156.2 189.3 1155.5 175.2 1154.9 161 1154.4 146.9 1153.9 132.7 1153.3 118.6Z" fill-opacity="0.080"/><path d="M1151.9 111.5 1150.8 118.6 1150.3 132.7 1149.9 146.9 1149.4 161 1148.9 175.2 1148.3 189.3 1147.6 203.5 1146.8 217.7 1145.8 231.8 1144.8 246 1143.8 260.1 1143.1 274.3 1152.4 281.3 1161.7 274.3 1160.9 260.1 1159.8 246 1158.7 231.8 1157.7 217.7 1156.8 203.5 1156 189.3 1155.4 175.2 1154.8 161 1154.2 146.9 1153.7 132.7 1153.1 118.6Z" fill-opacity="0.049"/><path d="M1151.9 111.5 1151.6 118.6 1150.5 132.7 1150 146.9 1149.6 161 1149.1 175.2 1148.5 189.3 1147.8 203.5 1147 217.7 1146.2 231.8 1145.2 246 1144.3 260.1 1144 274.3 1152.4 281.3 1160.8 274.3 1160.4 260.1 1159.4 246 1158.4 231.8 1157.4 217.7 1156.6 203.5 1155.8 189.3 1155.2 175.2 1154.6 161 1154.1 146.9 1153.6 132.7 1152.3 118.6Z" fill-opacity="0.080"/><path d="M1152 125.6 1150.8 132.7 1150.2 146.9 1149.8 161 1149.3 175.2 1148.7 189.3 1148.1 203.5 1147.4 217.7 1146.5 231.8 1145.7 246 1145 260.1 1145.2 274.3 1152.4 281.3 1159.6 274.3 1159.7 260.1 1158.9 246 1158 231.8 1157.1 217.7 1156.3 203.5 1155.6 189.3 1155 175.2 1154.4 161 1153.9 146.9 1153.2 132.7Z" fill-opacity="0.136"/><path d="M1152 139.8 1150.6 146.9 1150 161 1149.5 175.2 1149 189.3 1148.4 203.5 1147.7 217.7 1147 231.8 1146.3 246 1145.9 260.1 1149.7 274.3 1152.4 281.3 1155.1 274.3 1158.8 260.1 1158.3 246 1157.5 231.8 1156.7 217.7 1156 203.5 1155.3 189.3 1154.7 175.2 1154.1 161 1153.5 146.9Z" fill-opacity="0.246"/><path d="M1152.1 154 1150.8 161 1150 175.2 1149.4 189.3 1148.9 203.5 1148.3 217.7 1147.7 231.8 1147.3 246 1148.5 260.1 1152.4 267.2 1156.2 260.1 1157.4 246 1156.9 231.8 1156.2 217.7 1155.5 203.5 1154.9 189.3 1154.2 175.2 1153.4 161Z" fill-opacity="0.509"/><path d="M1152.1 182.3 1150.9 189.3 1150.2 203.5 1149.8 217.7 1149.7 231.8 1150.9 246 1152.3 253 1153.8 246 1154.9 231.8 1154.7 217.7 1154.2 203.5 1153.5 189.3Z" fill-opacity="0.981"/>
<path d="M1151.5 113.4 1150.4 118.6 1150.2 128.9 1150 139.3 1149.8 149.6 1149.6 160 1149.4 170.3 1149.2 180.7 1148.9 191 1148.6 201.4 1148.4 211.7 1148.1 222 1148 232.4 1152.2 237.6 1156.2 232.4 1156 222 1155.7 211.7 1155.3 201.4 1154.9 191 1154.5 180.7 1154.1 170.3 1153.8 160 1153.5 149.6 1153.2 139.3 1152.9 128.9 1152.5 118.6Z" fill-opacity="0.079"/><path d="M1151.5 113.4 1150.6 118.6 1150.3 128.9 1150.1 139.3 1149.9 149.6 1149.7 160 1149.5 170.3 1149.3 180.7 1149.1 191 1148.8 201.4 1148.5 211.7 1148.3 222 1148.4 232.4 1152.2 237.6 1155.9 232.4 1155.8 222 1155.5 211.7 1155.1 201.4 1154.7 191 1154.4 180.7 1154 170.3 1153.7 160 1153.4 149.6 1153.1 139.3 1152.8 128.9 1152.4 118.6Z" fill-opacity="0.046"/><path d="M1151.5 113.4 1150.7 118.6 1150.4 128.9 1150.2 139.3 1150 149.6 1149.8 160 1149.6 170.3 1149.4 180.7 1149.2 191 1149 201.4 1148.7 211.7 1148.6 222 1148.9 232.4 1152.2 237.6 1155.4 232.4 1155.5 222 1155.3 211.7 1154.9 201.4 1154.6 191 1154.2 180.7 1153.9 170.3 1153.6 160 1153.3 149.6 1153 139.3 1152.7 128.9 1152.2 118.6Z" fill-opacity="0.074"/><path d="M1151.5 123.7 1150.5 128.9 1150.3 139.3 1150.1 149.6 1149.9 160 1149.8 170.3 1149.6 180.7 1149.4 191 1149.2 201.4 1149 211.7 1149 222 1150.5 232.4 1152.2 237.6 1153.8 232.4 1155.2 222 1155 211.7 1154.7 201.4 1154.4 191 1154.1 180.7 1153.8 170.3 1153.5 160 1153.2 149.6 1152.9 139.3 1152.6 128.9Z" fill-opacity="0.122"/><path d="M1151.5 123.7 1150.8 128.9 1150.5 139.3 1150.3 149.6 1150.1 160 1149.9 170.3 1149.8 180.7 1149.6 191 1149.4 201.4 1149.4 211.7 1149.9 222 1152.1 227.2 1154.3 222 1154.6 211.7 1154.5 201.4 1154.2 191 1153.9 180.7 1153.6 170.3 1153.3 160 1153 149.6 1152.7 139.3 1152.3 128.9Z" fill-opacity="0.213"/><path d="M1151.6 134.1 1150.8 139.3 1150.5 149.6 1150.3 160 1150.1 170.3 1150 180.7 1149.9 191 1149.9 201.4 1150.4 211.7 1152 216.9 1153.6 211.7 1154 201.4 1153.9 191 1153.6 180.7 1153.4 170.3 1153.1 160 1152.8 149.6 1152.4 139.3Z" fill-opacity="0.417"/><path d="M1151.6 144.4 1151.2 149.6 1150.9 160 1150.8 170.3 1150.8 180.7 1150.9 191 1151.9 196.2 1152.8 191 1152.9 180.7 1152.8 170.3 1152.5 160 1152.1 149.6Z" fill-opacity="0.704"/>
<path d="M1168.4 155 1165.1 158.7 1164 166 1163.4 173.3 1162.9 180.7 1162.5 188 1162.1 195.3 1161.8 202.6 1161.5 209.9 1161.2 217.3 1160.9 224.6 1160.8 231.9 1161 239.2 1164.1 242.9 1167.6 239.2 1168.5 231.9 1169.1 224.6 1169.6 217.3 1170 209.9 1170.3 202.6 1170.7 195.3 1171 188 1171.3 180.7 1171.5 173.3 1171.6 166 1171.3 158.7Z" fill-opacity="0.071"/><path d="M1168.4 155 1165.9 158.7 1164.3 166 1163.6 173.3 1163.1 180.7 1162.7 188 1162.3 195.3 1162 202.6 1161.6 209.9 1161.4 217.3 1161.1 224.6 1161.1 231.9 1161.6 239.2 1164.1 242.9 1167 239.2 1168.3 231.9 1168.9 224.6 1169.4 217.3 1169.8 209.9 1170.2 202.6 1170.5 195.3 1170.9 188 1171.1 180.7 1171.3 173.3 1171.4 166 1170.4 158.7Z" fill-opacity="0.029"/><path d="M1168 162.4 1164.6 166 1163.8 173.3 1163.3 180.7 1162.9 188 1162.5 195.3 1162.2 202.6 1161.9 209.9 1161.6 217.3 1161.4 224.6 1161.4 231.9 1163.1 239.2 1164.1 242.9 1165.5 239.2 1167.9 231.9 1168.6 224.6 1169.1 217.3 1169.6 209.9 1170 202.6 1170.3 195.3 1170.7 188 1170.9 180.7 1171.1 173.3 1171.1 166Z" fill-opacity="0.041"/><path d="M1168 162.4 1165 166 1164.1 173.3 1163.5 180.7 1163.1 188 1162.7 195.3 1162.4 202.6 1162.1 209.9 1161.9 217.3 1161.7 224.6 1162.1 231.9 1164.5 235.6 1167.2 231.9 1168.3 224.6 1168.9 217.3 1169.3 209.9 1169.7 202.6 1170.1 195.3 1170.4 188 1170.7 180.7 1170.8 173.3 1170.6 166Z" fill-opacity="0.058"/><path d="M1168 162.4 1166.3 166 1164.5 173.3 1163.8 180.7 1163.4 188 1163 195.3 1162.7 202.6 1162.4 209.9 1162.2 217.3 1162.4 224.6 1163.8 231.9 1164.5 235.6 1165.6 231.9 1167.6 224.6 1168.5 217.3 1169 209.9 1169.4 202.6 1169.8 195.3 1170.2 188 1170.4 180.7 1170.5 173.3 1169.3 166Z" fill-opacity="0.085"/><path d="M1167.6 169.7 1165.6 173.3 1164.4 180.7 1163.8 188 1163.4 195.3 1163.1 202.6 1163 209.9 1163.1 217.3 1164 224.6 1164.8 228.2 1166 224.6 1167.6 217.3 1168.4 209.9 1169 202.6 1169.5 195.3 1169.8 188 1169.9 180.7 1169.4 173.3Z" fill-opacity="0.128"/><path d="M1167.3 177 1165.7 180.7 1164.8 188 1164.5 195.3 1164.3 202.6 1164.4 209.9 1165.5 213.6 1167 209.9 1167.8 202.6 1168.4 195.3 1168.7 188 1168.5 180.7Z" fill-opacity="0.173"/>
<path d="M1191.8 147.4 1191.1 152.3 1191.3 162.2 1191.6 172.1 1192 181.9 1192.4 191.8 1192.7 201.6 1193 211.5 1193.3 221.4 1193.5 231.2 1193.8 241.1 1194 250.9 1194.6 260.8 1200 265.7 1204.8 260.8 1204 250.9 1202.9 241.1 1201.8 231.2 1200.7 221.4 1199.6 211.5 1198.5 201.6 1197.5 191.8 1196.5 181.9 1195.5 172.1 1194.4 162.2 1193.3 152.3Z" fill-opacity="0.075"/><path d="M1191.8 147.4 1191.6 152.3 1191.4 162.2 1191.8 172.1 1192.1 181.9 1192.5 191.8 1192.8 201.6 1193.1 211.5 1193.4 221.4 1193.7 231.2 1194 241.1 1194.3 250.9 1194.9 260.8 1200 265.7 1204.5 260.8 1203.7 250.9 1202.7 241.1 1201.6 231.2 1200.5 221.4 1199.4 211.5 1198.4 201.6 1197.4 191.8 1196.3 181.9 1195.3 172.1 1194.3 162.2 1192.8 152.3Z" fill-opacity="0.038"/><path d="M1192.5 157.3 1191.6 162.2 1191.9 172.1 1192.2 181.9 1192.6 191.8 1193 201.6 1193.3 211.5 1193.6 221.4 1193.9 231.2 1194.2 241.1 1194.6 250.9 1195.4 260.8 1200 265.7 1204 260.8 1203.4 250.9 1202.5 241.1 1201.4 231.2 1200.3 221.4 1199.3 211.5 1198.2 201.6 1197.2 191.8 1196.2 181.9 1195.2 172.1 1194.1 162.2Z" fill-opacity="0.057"/><path d="M1192.5 157.3 1192.1 162.2 1192.1 172.1 1192.4 181.9 1192.8 191.8 1193.1 201.6 1193.5 211.5 1193.8 221.4 1194.1 231.2 1194.5 241.1 1195 250.9 1196.6 260.8 1200 265.7 1202.8 260.8 1203.1 250.9 1202.2 241.1 1201.2 231.2 1200.1 221.4 1199.1 211.5 1198.1 201.6 1197.1 191.8 1196.1 181.9 1195 172.1 1193.6 162.2Z" fill-opacity="0.089"/><path d="M1193.2 167.1 1192.5 172.1 1192.6 181.9 1193 191.8 1193.3 201.6 1193.7 211.5 1194 221.4 1194.4 231.2 1194.8 241.1 1195.5 250.9 1199.4 255.9 1202.5 250.9 1201.8 241.1 1200.9 231.2 1199.9 221.4 1198.9 211.5 1197.9 201.6 1196.9 191.8 1195.8 181.9 1194.6 172.1Z" fill-opacity="0.142"/><path d="M1193.9 177 1193.3 181.9 1193.4 191.8 1193.6 201.6 1194 211.5 1194.4 221.4 1194.8 231.2 1195.5 241.1 1197.2 250.9 1199.4 255.9 1200.8 250.9 1201.2 241.1 1200.5 231.2 1199.6 221.4 1198.6 211.5 1197.6 201.6 1196.4 191.8 1195.2 181.9Z" fill-opacity="0.243"/><path d="M1195.3 196.7 1194.6 201.6 1194.9 211.5 1195.3 221.4 1196 231.2 1197.5 241.1 1198.7 246 1199.2 241.1 1199.3 231.2 1198.6 221.4 1197.7 211.5 1196.6 201.6Z" fill-opacity="0.339"/>
<path d="M1202.4 150.1 1200.5 155.1 1200 165.1 1199.6 175.2 1199.3 185.2 1198.9 195.3 1198.5 205.4 1198 215.4 1197.4 225.5 1196.8 235.5 1196.2 245.6 1195.6 255.6 1195.4 265.7 1204.7 270.7 1213.9 265.7 1213.2 255.6 1212.3 245.6 1211.3 235.5 1210.3 225.5 1209.3 215.4 1208.5 205.4 1207.6 195.3 1206.9 185.2 1206.1 175.2 1205.4 165.1 1204.5 155.1Z" fill-opacity="0.077"/><path d="M1202.4 150.1 1201.2 155.1 1200.2 165.1 1199.8 175.2 1199.4 185.2 1199.1 195.3 1198.7 205.4 1198.2 215.4 1197.7 225.5 1197.1 235.5 1196.5 245.6 1196 255.6 1196 265.7 1204.7 270.7 1213.3 265.7 1212.8 255.6 1211.9 245.6 1211 235.5 1210 225.5 1209.1 215.4 1208.2 205.4 1207.4 195.3 1206.7 185.2 1205.9 175.2 1205.2 165.1 1203.8 155.1Z" fill-opacity="0.043"/><path d="M1202.6 160.1 1200.5 165.1 1200 175.2 1199.7 185.2 1199.3 195.3 1198.9 205.4 1198.5 215.4 1198 225.5 1197.5 235.5 1196.9 245.6 1196.5 255.6 1196.7 265.7 1204.7 270.7 1212.5 265.7 1212.3 255.6 1211.5 245.6 1210.6 235.5 1209.7 225.5 1208.8 215.4 1208 205.4 1207.2 195.3 1206.5 185.2 1205.7 175.2 1204.9 165.1Z" fill-opacity="0.068"/><path d="M1202.6 160.1 1201.3 165.1 1200.3 175.2 1200 185.2 1199.6 195.3 1199.2 205.4 1198.8 215.4 1198.3 225.5 1197.9 235.5 1197.4 245.6 1197.2 255.6 1197.8 265.7 1204.7 270.7 1211.4 265.7 1211.7 255.6 1211.1 245.6 1210.2 235.5 1209.3 225.5 1208.5 215.4 1207.7 205.4 1206.9 195.3 1206.2 185.2 1205.4 175.2 1204.1 165.1Z" fill-opacity="0.110"/><path d="M1202.8 170.2 1201.2 175.2 1200.4 185.2 1200 195.3 1199.6 205.4 1199.2 215.4 1198.8 225.5 1198.3 235.5 1198 245.6 1198 255.6 1201.6 265.7 1204.7 270.7 1207.6 265.7 1210.9 255.6 1210.5 245.6 1209.7 235.5 1208.9 225.5 1208.1 215.4 1207.3 205.4 1206.6 195.3 1205.8 185.2 1204.6 175.2Z" fill-opacity="0.187"/><path d="M1203 180.2 1201.6 185.2 1200.8 195.3 1200.1 205.4 1199.8 215.4 1199.4 225.5 1199 235.5 1198.9 245.6 1200.2 255.6 1204.5 260.7 1208.7 255.6 1209.6 245.6 1209.1 235.5 1208.3 225.5 1207.5 215.4 1206.8 205.4 1205.8 195.3 1204.5 185.2Z" fill-opacity="0.347"/><path d="M1203.4 200.3 1202.1 205.4 1201.5 215.4 1201.1 225.5 1200.9 235.5 1201.8 245.6 1204.3 250.6 1206.7 245.6 1207.1 235.5 1206.6 225.5 1205.8 215.4 1204.8 205.4Z" fill-opacity="0.535"/>
<path d="M1208.5 164.5 1206.3 168.4 1206.1 176.3 1206.1 184.2 1206.1 192.1 1206.2 199.9 1206.3 207.8 1206.3 215.7 1206.4 223.6 1206.4 231.5 1206.5 239.4 1206.7 247.3 1207.5 255.2 1215.1 259.1 1222.1 255.2 1221.8 247.3 1221 239.4 1219.9 231.5 1218.9 223.6 1217.9 215.7 1216.8 207.8 1215.8 199.9 1214.8 192.1 1213.8 184.2 1212.7 176.3 1211.4 168.4Z" fill-opacity="0.074"/><path d="M1208.5 164.5 1206.6 168.4 1206.3 176.3 1206.3 184.2 1206.3 192.1 1206.4 199.9 1206.5 207.8 1206.6 215.7 1206.7 223.6 1206.7 231.5 1206.9 239.4 1207.2 247.3 1208.4 255.2 1215.1 259.1 1221.3 255.2 1221.3 247.3 1220.6 239.4 1219.6 231.5 1218.6 223.6 1217.6 215.7 1216.6 207.8 1215.6 199.9 1214.6 192.1 1213.6 184.2 1212.5 176.3 1211 168.4Z" fill-opacity="0.034"/><path d="M1208.5 164.5 1207.7 168.4 1206.5 176.3 1206.5 184.2 1206.5 192.1 1206.6 199.9 1206.7 207.8 1206.9 215.7 1207 223.6 1207.1 231.5 1207.3 239.4 1207.8 247.3 1210.7 255.2 1215.1 259.1 1219 255.2 1220.7 247.3 1220.1 239.4 1219.3 231.5 1218.3 223.6 1217.3 215.7 1216.4 207.8 1215.4 199.9 1214.4 192.1 1213.4 184.2 1212.2 176.3 1210 168.4Z" fill-opacity="0.050"/><path d="M1209.1 172.3 1206.8 176.3 1206.7 184.2 1206.8 192.1 1206.9 199.9 1207 207.8 1207.2 215.7 1207.3 223.6 1207.5 231.5 1207.9 239.4 1208.7 247.3 1214.6 251.2 1219.8 247.3 1219.6 239.4 1218.8 231.5 1218 223.6 1217 215.7 1216.1 207.8 1215.1 199.9 1214.1 192.1 1213.1 184.2 1211.9 176.3Z" fill-opacity="0.075"/><path d="M1209.1 172.3 1207.8 176.3 1207.1 184.2 1207.1 192.1 1207.2 199.9 1207.4 207.8 1207.6 215.7 1207.8 223.6 1208.1 231.5 1208.8 239.4 1211.5 247.3 1214.6 251.2 1217.1 247.3 1218.7 239.4 1218.3 231.5 1217.5 223.6 1216.6 215.7 1215.7 207.8 1214.8 199.9 1213.8 192.1 1212.8 184.2 1210.9 176.3Z" fill-opacity="0.116"/><path d="M1209.6 180.2 1208 184.2 1207.6 192.1 1207.6 199.9 1207.9 207.8 1208.1 215.7 1208.6 223.6 1209.5 231.5 1211.5 239.4 1214 243.3 1216 239.4 1216.9 231.5 1216.7 223.6 1216.1 215.7 1215.3 207.8 1214.4 199.9 1213.3 192.1 1211.8 184.2Z" fill-opacity="0.187"/><path d="M1210.2 188.1 1209 192.1 1208.9 199.9 1209.2 207.8 1209.8 215.7 1210.8 223.6 1212.9 227.6 1214.5 223.6 1214.4 215.7 1213.9 207.8 1213.1 199.9 1211.9 192.1Z" fill-opacity="0.253"/>
<path d="M1218.5 187.3 1216.7 190.2 1215.6 196.1 1215 201.9 1214.6 207.8 1214.2 213.7 1213.8 219.5 1213.4 225.4 1213 231.2 1212.6 237.1 1212.3 242.9 1212.2 248.8 1212.5 254.7 1217.6 257.6 1222.7 254.7 1223.2 248.8 1223.1 242.9 1223 237.1 1222.8 231.2 1222.6 225.4 1222.4 219.5 1222.1 213.7 1221.9 207.8 1221.6 201.9 1221.2 196.1 1220.2 190.2Z" fill-opacity="0.070"/><path d="M1218.5 187.3 1218.1 190.2 1215.8 196.1 1215.2 201.9 1214.7 207.8 1214.3 213.7 1213.9 219.5 1213.6 225.4 1213.2 231.2 1212.9 237.1 1212.6 242.9 1212.5 248.8 1213.3 254.7 1217.6 257.6 1221.9 254.7 1222.8 248.8 1222.9 242.9 1222.8 237.1 1222.6 231.2 1222.4 225.4 1222.2 219.5 1222 213.7 1221.7 207.8 1221.4 201.9 1221 196.1 1218.8 190.2Z" fill-opacity="0.027"/><path d="M1218.4 193.2 1216.1 196.1 1215.4 201.9 1214.9 207.8 1214.5 213.7 1214.1 219.5 1213.8 225.4 1213.4 231.2 1213.1 237.1 1212.9 242.9 1212.9 248.8 1215.1 254.7 1217.6 257.6 1220 254.7 1222.4 248.8 1222.6 242.9 1222.5 237.1 1222.4 231.2 1222.2 225.4 1222 219.5 1221.8 213.7 1221.5 207.8 1221.2 201.9 1220.7 196.1Z" fill-opacity="0.037"/><path d="M1218.4 193.2 1216.9 196.1 1215.7 201.9 1215.2 207.8 1214.7 213.7 1214.3 219.5 1214 225.4 1213.7 231.2 1213.4 237.1 1213.3 242.9 1213.7 248.8 1217.6 251.7 1221.7 248.8 1222.2 242.9 1222.2 237.1 1222.1 231.2 1222 225.4 1221.8 219.5 1221.5 213.7 1221.3 207.8 1220.9 201.9 1219.9 196.1Z" fill-opacity="0.052"/><path d="M1218.3 199 1216.3 201.9 1215.5 207.8 1215 213.7 1214.6 219.5 1214.3 225.4 1214 231.2 1213.8 237.1 1213.9 242.9 1215.4 248.8 1217.6 251.7 1219.9 248.8 1221.6 242.9 1221.8 237.1 1221.8 231.2 1221.7 225.4 1221.5 219.5 1221.3 213.7 1221 207.8 1220.3 201.9Z" fill-opacity="0.074"/><path d="M1218.3 199 1217.7 201.9 1216.2 207.8 1215.5 213.7 1215 219.5 1214.7 225.4 1214.5 231.2 1214.7 237.1 1215.5 242.9 1217.7 245.9 1220 242.9 1220.9 237.1 1221.3 231.2 1221.3 225.4 1221.1 219.5 1220.8 213.7 1220.2 207.8 1218.9 201.9Z" fill-opacity="0.108"/><path d="M1218.2 210.7 1216.6 213.7 1216.1 219.5 1215.8 225.4 1215.9 231.2 1216.7 237.1 1217.8 240 1219 237.1 1219.9 231.2 1220.1 225.4 1220 219.5 1219.6 213.7Z" fill-opacity="0.149"/>
<path d="M1225.4 204.6 1222.1 206.3 1221.4 209.8 1221 213.3 1220.6 216.8 1220.3 220.3 1220.1 223.8 1219.8 227.3 1219.6 230.8 1219.6 234.3 1219.7 237.8 1220.4 241.3 1225.4 243 1230.4 241.3 1231.1 237.8 1231.2 234.3 1231.1 230.8 1230.9 227.3 1230.7 223.8 1230.4 220.3 1230.1 216.8 1229.8 213.3 1229.3 209.8 1228.6 206.3Z" fill-opacity="0.082"/><path d="M1225.4 204.6 1224.4 206.3 1222.1 209.8 1221.5 213.3 1221.1 216.8 1220.8 220.3 1220.5 223.8 1220.3 227.3 1220.1 230.8 1220.1 234.3 1220.4 237.8 1223.5 241.3 1225.4 243 1227.3 241.3 1230.4 237.8 1230.6 234.3 1230.6 230.8 1230.5 227.3 1230.3 223.8 1230 220.3 1229.7 216.8 1229.3 213.3 1228.7 209.8 1226.3 206.3Z" fill-opacity="0.054"/><path d="M1225.4 208.1 1224.8 209.8 1222.7 213.3 1221.8 216.8 1221.4 220.3 1221.1 223.8 1220.9 227.3 1220.8 230.8 1221 234.3 1222.5 237.8 1225.4 239.5 1228.2 237.8 1229.8 234.3 1229.9 230.8 1229.9 227.3 1229.7 223.8 1229.4 220.3 1229 216.8 1228.1 213.3 1226 209.8Z" fill-opacity="0.091"/><path d="M1225.4 215.1 1224.6 216.8 1223.4 220.3 1222.8 223.8 1222.6 227.3 1222.9 230.8 1224.8 234.3 1225.4 236 1225.9 234.3 1227.8 230.8 1228.1 227.3 1227.9 223.8 1227.4 220.3 1226.1 216.8Z" fill-opacity="0.093"/>
<path d="M1287.3 145.1 1286.3 149.3 1285.7 157.6 1285.4 165.9 1285.1 174.2 1284.8 182.5 1284.5 190.9 1284.2 199.2 1283.8 207.5 1283.5 215.8 1283.2 224.1 1282.9 232.5 1282.9 240.8 1287.3 244.9 1291.8 240.8 1291.7 232.5 1291.5 224.1 1291.1 215.8 1290.8 207.5 1290.5 199.2 1290.1 190.9 1289.8 182.5 1289.6 174.2 1289.3 165.9 1288.9 157.6 1288.4 149.3Z" fill-opacity="0.074"/><path d="M1287.3 145.1 1287 149.3 1285.8 157.6 1285.5 165.9 1285.2 174.2 1284.9 182.5 1284.6 190.9 1284.3 199.2 1284 207.5 1283.6 215.8 1283.3 224.1 1283.1 232.5 1283.2 240.8 1287.3 244.9 1291.4 240.8 1291.5 232.5 1291.3 224.1 1291 215.8 1290.7 207.5 1290.3 199.2 1290 190.9 1289.7 182.5 1289.4 174.2 1289.1 165.9 1288.8 157.6 1287.6 149.3Z" fill-opacity="0.034"/><path d="M1287.3 153.4 1286 157.6 1285.6 165.9 1285.3 174.2 1285 182.5 1284.7 190.9 1284.4 199.2 1284.1 207.5 1283.8 215.8 1283.5 224.1 1283.4 232.5 1283.6 240.8 1287.3 244.9 1291 240.8 1291.2 232.5 1291.1 224.1 1290.8 215.8 1290.5 207.5 1290.2 199.2 1289.9 190.9 1289.6 182.5 1289.3 174.2 1289 165.9 1288.6 157.6Z" fill-opacity="0.050"/><path d="M1287.3 153.4 1286.6 157.6 1285.8 165.9 1285.5 174.2 1285.2 182.5 1284.9 190.9 1284.6 199.2 1284.3 207.5 1284 215.8 1283.8 224.1 1283.7 232.5 1284.9 240.8 1287.3 244.9 1289.7 240.8 1290.9 232.5 1290.8 224.1 1290.6 215.8 1290.3 207.5 1290 199.2 1289.7 190.9 1289.4 182.5 1289.1 174.2 1288.8 165.9 1288 157.6Z" fill-opacity="0.075"/><path d="M1287.3 161.8 1286.3 165.9 1285.7 174.2 1285.4 182.5 1285.1 190.9 1284.8 199.2 1284.5 207.5 1284.3 215.8 1284.1 224.1 1284.2 232.5 1287.3 236.6 1290.4 232.5 1290.5 224.1 1290.3 215.8 1290.1 207.5 1289.8 199.2 1289.5 190.9 1289.2 182.5 1288.9 174.2 1288.3 165.9Z" fill-opacity="0.116"/><path d="M1287.3 170.1 1286.4 174.2 1285.8 182.5 1285.4 190.9 1285.1 199.2 1284.9 207.5 1284.6 215.8 1284.8 224.1 1285.8 232.5 1287.3 236.6 1288.8 232.5 1289.9 224.1 1290 215.8 1289.8 207.5 1289.5 199.2 1289.2 190.9 1288.8 182.5 1288.2 174.2Z" fill-opacity="0.187"/><path d="M1287.3 186.7 1286.3 190.9 1286 199.2 1285.7 207.5 1285.7 215.8 1286.5 224.1 1287.3 228.3 1288.1 224.1 1288.9 215.8 1288.9 207.5 1288.7 199.2 1288.3 190.9Z" fill-opacity="0.253"/>
<path d="M1336 162.4 1335.1 165.6 1333.6 171.9 1333.1 178.3 1332.8 184.6 1332.4 191 1332.1 197.3 1331.7 203.7 1331.4 210 1331 216.3 1330.7 222.7 1330.6 229 1330.8 235.4 1336 238.6 1341.3 235.4 1341.5 229 1341.3 222.7 1341 216.3 1340.7 210 1340.4 203.7 1340 197.3 1339.7 191 1339.3 184.6 1338.9 178.3 1338.5 171.9 1337 165.6Z" fill-opacity="0.071"/><path d="M1336 168.8 1333.8 171.9 1333.3 178.3 1332.9 184.6 1332.6 191 1332.2 197.3 1331.9 203.7 1331.6 210 1331.2 216.3 1331 222.7 1330.8 229 1331.2 235.4 1336 238.6 1340.9 235.4 1341.2 229 1341.1 222.7 1340.8 216.3 1340.5 210 1340.2 203.7 1339.8 197.3 1339.5 191 1339.1 184.6 1338.8 178.3 1338.2 171.9Z" fill-opacity="0.028"/><path d="M1336 168.8 1334.4 171.9 1333.5 178.3 1333.1 184.6 1332.8 191 1332.4 197.3 1332.1 203.7 1331.8 210 1331.5 216.3 1331.2 222.7 1331.2 229 1332 235.4 1336 238.6 1340.1 235.4 1340.9 229 1340.8 222.7 1340.6 216.3 1340.3 210 1340 203.7 1339.7 197.3 1339.3 191 1339 184.6 1338.5 178.3 1337.7 171.9Z" fill-opacity="0.039"/><path d="M1336 175.1 1333.9 178.3 1333.4 184.6 1333 191 1332.6 197.3 1332.3 203.7 1332 210 1331.7 216.3 1331.6 222.7 1331.6 229 1334 235.4 1336 238.6 1338.1 235.4 1340.5 229 1340.5 222.7 1340.3 216.3 1340.1 210 1339.8 203.7 1339.4 197.3 1339.1 191 1338.7 184.6 1338.2 178.3Z" fill-opacity="0.055"/><path d="M1336 175.1 1334.9 178.3 1333.8 184.6 1333.3 191 1332.9 197.3 1332.6 203.7 1332.3 210 1332.1 216.3 1332 222.7 1332.5 229 1336 232.2 1339.6 229 1340.1 222.7 1340 216.3 1339.8 210 1339.5 203.7 1339.2 197.3 1338.8 191 1338.3 184.6 1337.2 178.3Z" fill-opacity="0.080"/><path d="M1336 181.4 1334.9 184.6 1334 191 1333.4 197.3 1333 203.7 1332.7 210 1332.5 216.3 1332.9 222.7 1334.6 229 1336 232.2 1337.5 229 1339.2 222.7 1339.5 216.3 1339.4 210 1339.1 203.7 1338.7 197.3 1338.1 191 1337.2 184.6Z" fill-opacity="0.118"/><path d="M1336 194.1 1334.6 197.3 1334.1 203.7 1333.9 210 1333.9 216.3 1335 222.7 1336 225.9 1337.1 222.7 1338.2 216.3 1338.2 210 1337.9 203.7 1337.4 197.3Z" fill-opacity="0.161"/>
<path d="M1330.7 185.2 1329 187.7 1328.7 192.8 1328.4 197.9 1328.2 203 1328 208.1 1327.8 213.2 1327.6 218.3 1327.4 223.4 1327.3 228.5 1327.3 233.6 1327.6 238.7 1330.7 241.2 1333.8 238.7 1334.1 233.6 1334.1 228.5 1334 223.4 1333.8 218.3 1333.6 213.2 1333.4 208.1 1333.2 203 1333 197.9 1332.8 192.8 1332.4 187.7Z" fill-opacity="0.068"/><path d="M1330.7 185.2 1329.3 187.7 1328.8 192.8 1328.5 197.9 1328.3 203 1328.1 208.1 1327.9 213.2 1327.7 218.3 1327.6 223.4 1327.5 228.5 1327.5 233.6 1328.1 238.7 1330.7 241.2 1333.3 238.7 1333.9 233.6 1334 228.5 1333.9 223.4 1333.7 218.3 1333.5 213.2 1333.3 208.1 1333.1 203 1332.9 197.9 1332.6 192.8 1332.1 187.7Z" fill-opacity="0.021"/><path d="M1330.7 185.2 1330 187.7 1329 192.8 1328.7 197.9 1328.4 203 1328.2 208.1 1328 213.2 1327.8 218.3 1327.7 223.4 1327.6 228.5 1327.7 233.6 1329.1 238.7 1330.7 241.2 1332.3 238.7 1333.7 233.6 1333.8 228.5 1333.7 223.4 1333.6 218.3 1333.4 213.2 1333.2 208.1 1333 203 1332.8 197.9 1332.5 192.8 1331.5 187.7Z" fill-opacity="0.028"/><path d="M1330.7 190.3 1329.4 192.8 1328.8 197.9 1328.6 203 1328.4 208.1 1328.2 213.2 1328 218.3 1327.9 223.4 1327.8 228.5 1328 233.6 1330.7 236.1 1333.4 233.6 1333.6 228.5 1333.5 223.4 1333.4 218.3 1333.2 213.2 1333.1 208.1 1332.8 203 1332.6 197.9 1332 192.8Z" fill-opacity="0.037"/><path d="M1330.7 190.3 1330.2 192.8 1329.2 197.9 1328.8 203 1328.5 208.1 1328.4 213.2 1328.2 218.3 1328.1 223.4 1328.1 228.5 1328.9 233.6 1330.7 236.1 1332.5 233.6 1333.3 228.5 1333.3 223.4 1333.2 218.3 1333.1 213.2 1332.9 208.1 1332.6 203 1332.2 197.9 1331.3 192.8Z" fill-opacity="0.049"/><path d="M1330.7 195.3 1330 197.9 1329.3 203 1328.9 208.1 1328.6 213.2 1328.5 218.3 1328.5 223.4 1328.8 228.5 1330.7 231 1332.6 228.5 1332.9 223.4 1332.9 218.3 1332.8 213.2 1332.5 208.1 1332.1 203 1331.4 197.9Z" fill-opacity="0.066"/><path d="M1330.7 200.4 1330.3 203 1329.6 208.1 1329.3 213.2 1329.2 218.3 1329.3 223.4 1330.4 228.5 1330.7 231 1331 228.5 1332.1 223.4 1332.2 218.3 1332.1 213.2 1331.8 208.1 1331.1 203Z" fill-opacity="0.098"/>
<path d="M1364.2 30.4 1362.4 36.3 1361.9 48.2 1361.7 60.1 1361.5 71.9 1361.3 83.8 1361.1 95.7 1360.9 107.6 1360.8 119.4 1360.6 131.3 1360.5 143.2 1360.4 155 1360.6 166.9 1364.2 172.8 1367.9 166.9 1368 155 1367.9 143.2 1367.8 131.3 1367.7 119.4 1367.5 107.6 1367.3 95.7 1367.1 83.8 1367 71.9 1366.7 60.1 1366.5 48.2 1366 36.3Z" fill-opacity="0.078"/><path d="M1364.2 30.4 1362.8 36.3 1362.1 48.2 1361.8 60.1 1361.6 71.9 1361.4 83.8 1361.2 95.7 1361.1 107.6 1360.9 119.4 1360.8 131.3 1360.7 143.2 1360.6 155 1360.8 166.9 1364.2 172.8 1367.6 166.9 1367.8 155 1367.8 143.2 1367.7 131.3 1367.5 119.4 1367.4 107.6 1367.2 95.7 1367 83.8 1366.8 71.9 1366.6 60.1 1366.3 48.2 1365.6 36.3Z" fill-opacity="0.044"/><path d="M1364.2 42.3 1362.3 48.2 1362 60.1 1361.8 71.9 1361.6 83.8 1361.4 95.7 1361.2 107.6 1361.1 119.4 1360.9 131.3 1360.9 143.2 1360.9 155 1361.1 166.9 1364.2 172.8 1367.3 166.9 1367.6 155 1367.6 143.2 1367.5 131.3 1367.4 119.4 1367.2 107.6 1367 95.7 1366.9 83.8 1366.7 71.9 1366.4 60.1 1366.1 48.2Z" fill-opacity="0.069"/><path d="M1364.2 42.3 1362.8 48.2 1362.2 60.1 1362 71.9 1361.7 83.8 1361.6 95.7 1361.4 107.6 1361.3 119.4 1361.2 131.3 1361.1 143.2 1361.2 155 1361.8 166.9 1364.2 172.8 1366.6 166.9 1367.3 155 1367.3 143.2 1367.3 131.3 1367.2 119.4 1367 107.6 1366.9 95.7 1366.7 83.8 1366.5 71.9 1366.2 60.1 1365.6 48.2Z" fill-opacity="0.113"/><path d="M1364.2 54.1 1362.7 60.1 1362.2 71.9 1362 83.8 1361.8 95.7 1361.6 107.6 1361.5 119.4 1361.4 131.3 1361.4 143.2 1361.6 155 1364.2 161 1366.9 155 1367 143.2 1367 131.3 1366.9 119.4 1366.8 107.6 1366.6 95.7 1366.4 83.8 1366.2 71.9 1365.8 60.1Z" fill-opacity="0.193"/><path d="M1364.2 66 1362.9 71.9 1362.4 83.8 1362.1 95.7 1361.9 107.6 1361.8 119.4 1361.8 131.3 1361.9 143.2 1362.9 155 1364.2 161 1365.5 155 1366.5 143.2 1366.7 131.3 1366.6 119.4 1366.5 107.6 1366.3 95.7 1366 83.8 1365.5 71.9Z" fill-opacity="0.364"/><path d="M1364.2 77.9 1363.8 83.8 1363.1 95.7 1362.8 107.6 1362.7 119.4 1362.9 131.3 1363.9 143.2 1364.2 149.1 1364.5 143.2 1365.6 131.3 1365.7 119.4 1365.6 107.6 1365.3 95.7 1364.6 83.8Z" fill-opacity="0.572"/>
<path d="M1386.5 201.5 1384.7 203.9 1384.1 208.6 1383.8 213.3 1383.5 217.9 1383.3 222.6 1383 227.3 1382.8 232 1382.6 236.7 1382.5 241.4 1382.4 246.1 1382.8 250.7 1386.5 253.1 1390.3 250.7 1390.7 246.1 1390.6 241.4 1390.5 236.7 1390.3 232 1390.1 227.3 1389.8 222.6 1389.6 217.9 1389.3 213.3 1389 208.6 1388.4 203.9Z" fill-opacity="0.082"/><path d="M1386.5 206.2 1384.7 208.6 1384.1 213.3 1383.8 217.9 1383.6 222.6 1383.3 227.3 1383.1 232 1382.9 236.7 1382.8 241.4 1382.9 246.1 1384.4 250.7 1386.5 253.1 1388.7 250.7 1390.2 246.1 1390.3 241.4 1390.2 236.7 1390 232 1389.8 227.3 1389.5 222.6 1389.3 217.9 1389 213.3 1388.4 208.6Z" fill-opacity="0.054"/><path d="M1386.5 210.9 1385 213.3 1384.4 217.9 1384 222.6 1383.7 227.3 1383.5 232 1383.4 236.7 1383.4 241.4 1384.1 246.1 1386.5 248.4 1389 246.1 1389.7 241.4 1389.7 236.7 1389.6 232 1389.4 227.3 1389.1 222.6 1388.7 217.9 1388.1 213.3Z" fill-opacity="0.091"/><path d="M1386.5 220.3 1385.5 222.6 1385 227.3 1384.7 232 1384.7 236.7 1385.2 241.4 1386.5 243.7 1387.8 241.4 1388.4 236.7 1388.4 232 1388.1 227.3 1387.6 222.6Z" fill-opacity="0.093"/></g>
<g filter="url(#bB)"><path d="M897.4 116.6 896.7 131.4 896.3 146.2 896.1 161 895.8 175.9 896.1 190.7 896.3 205.5 896.7 220.3 897.4 235.1 897.4 235.1 898 220.3 898.4 205.5 898.7 190.7 898.9 175.9 898.7 161 898.4 146.2 898 131.4 897.4 116.6Z" fill="url(#g0_00)"/><path d="M897.4 116.6 896.9 131.4 896.8 146.2 896.6 161 896.5 175.9 896.6 190.7 896.8 205.5 896.9 220.3 897.4 235.1 897.4 235.1 897.8 220.3 897.9 205.5 898.1 190.7 898.2 175.9 898.1 161 897.9 146.2 897.8 131.4 897.4 116.6Z" fill="url(#g0_01)"/>
<path d="M929.6 91.7 929.1 98.7 929 105.7 928.9 112.7 928.8 119.6 928.6 126.6 928.7 133.6 929 140.6 929.6 147.6 929.6 147.6 930.2 140.6 930.5 133.6 930.6 126.6 930.4 119.6 930.3 112.7 930.1 105.7 930 98.7 929.6 91.7Z" fill="url(#g0_10)"/><path d="M929.6 91.7 929.1 98.7 929.1 105.7 929.1 112.7 929.1 119.6 929.1 126.6 929.1 133.6 929.1 140.6 929.6 147.6 929.6 147.6 930 140.6 930.1 133.6 930.1 126.6 930.1 119.6 930 112.7 930 105.7 930 98.7 929.6 91.7Z" fill="url(#g0_11)"/>
<path d="M937.7 110.5 936.9 123.6 936.4 136.7 935.9 149.8 935.5 162.9 935.1 176 934.7 189.1 934.9 202.2 935.7 215.3 935.7 215.3 937 202.2 937.7 189.1 937.8 176 937.9 162.9 938 149.8 938 136.7 938 123.6 937.7 110.5Z" fill="url(#g0_30)"/><path d="M937.7 110.5 937 123.6 936.8 136.7 936.4 149.8 936 162.9 935.7 176 935.3 189.1 935.4 202.2 935.7 215.3 935.7 215.3 936.5 202.2 937 189.1 937.2 176 937.4 162.9 937.5 149.8 937.7 136.7 937.9 123.6 937.7 110.5Z" fill="url(#g0_31)"/>
<path d="M945.3 107 944.8 116.2 944.6 125.5 944.5 134.8 944.5 144.1 944.7 153.4 945.3 162.7 945.9 172 946.9 181.3 946.9 181.3 947.5 172 947.7 162.7 947.8 153.4 947.7 144.1 947.3 134.8 946.8 125.5 946.2 116.2 945.3 107Z" fill="url(#g0_40)"/><path d="M945.3 107 945.1 116.2 945.1 125.5 945.2 134.8 945.2 144.1 945.4 153.4 945.8 162.7 946.2 172 946.9 181.3 946.9 181.3 947.1 172 947.1 162.7 947.1 153.4 947 144.1 946.6 134.8 946.3 125.5 946 116.2 945.3 107Z" fill="url(#g0_41)"/>
<path d="M962.2 121.4 961.4 129.5 960.9 137.6 960.4 145.7 959.9 153.8 959.5 161.9 959.3 170 959.4 178.1 959.9 186.1 959.9 186.1 961 178.1 961.7 170 962.1 161.9 962.2 153.8 962.3 145.7 962.4 137.6 962.4 129.5 962.2 121.4Z" fill="url(#g0_60)"/><path d="M962.2 121.4 961.5 129.5 961.2 137.6 960.8 145.7 960.4 153.8 960.1 161.9 959.8 170 959.8 178.1 959.9 186.1 959.9 186.1 960.7 178.1 961.2 170 961.5 161.9 961.7 153.8 961.9 145.7 962.1 137.6 962.4 129.5 962.2 121.4Z" fill="url(#g0_61)"/>
<path d="M965.4 92.2 964.9 95.3 964.8 98.5 964.7 101.6 964.6 104.7 964.5 107.8 964.7 110.9 964.9 114 965.4 117.1 965.4 117.1 965.8 114 966.1 110.9 966.2 107.8 966.2 104.7 966.1 101.6 965.9 98.5 965.8 95.3 965.4 92.2Z" fill="url(#g0_70)"/><path d="M965.4 92.2 964.9 95.3 964.9 98.5 964.9 101.6 964.9 104.7 964.9 107.8 964.9 110.9 964.9 114 965.4 117.1 965.4 117.1 965.8 114 965.8 110.9 965.9 107.8 965.8 104.7 965.8 101.6 965.8 98.5 965.8 95.3 965.4 92.2Z" fill="url(#g0_71)"/>
<path d="M972.2 87.4 971.8 93 971.7 98.5 971.6 104.1 971.4 109.6 971.4 115.2 971.6 120.7 971.8 126.3 972.2 131.8 972.2 131.8 972.7 126.3 972.9 120.7 973.1 115.2 973 109.6 972.9 104.1 972.8 98.5 972.7 93 972.2 87.4Z" fill="url(#g0_90)"/><path d="M972.2 87.4 971.8 93 971.8 98.5 971.8 104.1 971.8 109.6 971.8 115.2 971.8 120.7 971.8 126.3 972.2 131.8 972.2 131.8 972.7 126.3 972.7 120.7 972.7 115.2 972.7 109.6 972.7 104.1 972.7 98.5 972.7 93 972.2 87.4Z" fill="url(#g0_91)"/>
<path d="M977.1 99.6 976.6 103.3 976.5 107 976.4 110.7 976.2 114.4 976.2 118.2 976.4 121.9 976.6 125.6 977.1 129.3 977.1 129.3 977.5 125.6 977.7 121.9 977.9 118.2 977.9 114.4 977.7 110.7 977.6 107 977.5 103.3 977.1 99.6Z" fill="url(#g0_100)"/><path d="M977.1 99.6 976.6 103.3 976.6 107 976.6 110.7 976.6 114.4 976.6 118.2 976.6 121.9 976.6 125.6 977.1 129.3 977.1 129.3 977.5 125.6 977.5 121.9 977.5 118.2 977.5 114.4 977.5 110.7 977.5 107 977.5 103.3 977.1 99.6Z" fill="url(#g0_101)"/>
<path d="M984.7 117.4 983.9 128 983.6 138.6 983.3 149.1 983.1 159.7 983.6 170.3 984.1 180.9 984.7 191.5 985.7 202.1 985.7 202.1 986.5 191.5 986.8 180.9 987 170.3 987.2 159.7 986.8 149.1 986.3 138.6 985.7 128 984.7 117.4Z" fill="url(#g0_110)"/><path d="M984.7 117.4 984.3 128 984.2 138.6 984.1 149.1 984 159.7 984.4 170.3 984.7 180.9 985.1 191.5 985.7 202.1 985.7 202.1 986.1 191.5 986.2 180.9 986.3 170.3 986.3 159.7 986 149.1 985.7 138.6 985.3 128 984.7 117.4Z" fill="url(#g0_111)"/>
<path d="M1032.4 175 1031.8 182.3 1031.5 189.6 1031.2 197 1031 204.3 1030.9 211.6 1031.2 218.9 1031.6 226.3 1032.4 233.6 1032.4 233.6 1033.2 226.3 1033.5 218.9 1033.9 211.6 1033.8 204.3 1033.5 197 1033.3 189.6 1033 182.3 1032.4 175Z" fill="url(#g0_160)"/><path d="M1032.4 175 1031.9 182.3 1031.9 189.6 1031.7 197 1031.6 204.3 1031.6 211.6 1031.7 218.9 1031.9 226.3 1032.4 233.6 1032.4 233.6 1032.8 226.3 1033 218.9 1033.2 211.6 1033.1 204.3 1033 197 1032.9 189.6 1032.8 182.3 1032.4 175Z" fill="url(#g0_161)"/>
<path d="M1042.5 131.3 1042.1 133.7 1042 136.1 1041.9 138.6 1041.7 141 1041.7 143.4 1041.9 145.8 1042.1 148.2 1042.5 150.6 1042.5 150.6 1043 148.2 1043.2 145.8 1043.4 143.4 1043.3 141 1043.2 138.6 1043.1 136.1 1043 133.7 1042.5 131.3Z" fill="url(#g0_170)"/><path d="M1042.5 131.3 1042.1 133.7 1042.1 136.1 1042.1 138.6 1042.1 141 1042.1 143.4 1042.1 145.8 1042.1 148.2 1042.5 150.6 1042.5 150.6 1043 148.2 1043 145.8 1043 143.4 1043 141 1043 138.6 1043 136.1 1043 133.7 1042.5 131.3Z" fill="url(#g0_171)"/>
<path d="M1057 54.9 1056.4 63.8 1056.2 72.7 1056 81.6 1056.2 90.5 1056.5 99.3 1056.7 108.2 1057 117.1 1057.5 126 1057.5 126 1057.9 117.1 1058.1 108.2 1058.2 99.3 1058.3 90.5 1058.4 81.6 1058.1 72.7 1057.7 63.8 1057 54.9Z" fill="url(#g0_180)"/><path d="M1057 54.9 1056.6 63.8 1056.6 72.7 1056.6 81.6 1056.7 90.5 1056.8 99.3 1056.9 108.2 1057 117.1 1057.5 126 1057.5 126 1057.9 117.1 1057.8 108.2 1057.8 99.3 1057.8 90.5 1057.8 81.6 1057.7 72.7 1057.5 63.8 1057 54.9Z" fill="url(#g0_181)"/>
<path d="M1057.5 118.4 1057.1 131.7 1056.9 145 1056.7 158.4 1056.8 171.7 1057.1 185 1057.3 198.3 1057.5 211.6 1058 225 1058 225 1058.4 211.6 1058.5 198.3 1058.6 185 1058.7 171.7 1058.7 158.4 1058.4 145 1058.1 131.7 1057.5 118.4Z" fill="url(#g0_190)"/><path d="M1057.5 118.4 1057.1 131.7 1057.2 145 1057.2 158.4 1057.3 171.7 1057.4 185 1057.4 198.3 1057.5 211.6 1058 225 1058 225 1058.4 211.6 1058.3 198.3 1058.3 185 1058.3 171.7 1058.2 158.4 1058.1 145 1058 131.7 1057.5 118.4Z" fill="url(#g0_191)"/>
<path d="M1067.4 189.7 1066.9 195.2 1066.6 200.7 1066.4 206.2 1066.2 211.6 1066.1 217.1 1066.4 222.6 1066.7 228.1 1067.4 233.6 1067.4 233.6 1068.1 228.1 1068.4 222.6 1068.7 217.1 1068.6 211.6 1068.4 206.2 1068.2 200.7 1067.9 195.2 1067.4 189.7Z" fill="url(#g0_200)"/><path d="M1067.4 189.7 1067 195.2 1067 200.7 1066.8 206.2 1066.7 211.6 1066.7 217.1 1066.8 222.6 1067 228.1 1067.4 233.6 1067.4 233.6 1067.9 228.1 1068 222.6 1068.1 217.1 1068.1 211.6 1068 206.2 1067.9 200.7 1067.9 195.2 1067.4 189.7Z" fill="url(#g0_201)"/>
<path d="M1078.3 150.6 1077.7 154.9 1077.4 159.2 1077.2 163.5 1076.9 167.7 1076.8 172 1077.2 176.3 1077.6 180.6 1078.3 184.9 1078.3 184.9 1079.1 180.6 1079.5 176.3 1079.8 172 1079.7 167.7 1079.5 163.5 1079.2 159.2 1078.9 154.9 1078.3 150.6Z" fill="url(#g0_210)"/><path d="M1078.3 150.6 1077.9 154.9 1077.8 159.2 1077.7 163.5 1077.6 167.7 1077.5 172 1077.7 176.3 1077.9 180.6 1078.3 184.9 1078.3 184.9 1078.8 180.6 1079 176.3 1079.1 172 1079.1 167.7 1079 163.5 1078.8 159.2 1078.8 154.9 1078.3 150.6Z" fill="url(#g0_211)"/>
<path d="M1090.1 84.1 1089.7 96 1089.4 107.9 1089.2 119.8 1089.1 131.7 1088.9 143.6 1088.8 155.5 1089.2 167.4 1090.1 179.3 1090.1 179.3 1091 167.4 1091.5 155.5 1091.4 143.6 1091.2 131.7 1091 119.8 1090.8 107.9 1090.6 96 1090.1 84.1Z" fill="url(#g0_230)"/><path d="M1090.1 84.1 1089.7 96 1089.7 107.9 1089.6 119.8 1089.5 131.7 1089.5 143.6 1089.4 155.5 1089.6 167.4 1090.1 179.3 1090.1 179.3 1090.6 167.4 1090.9 155.5 1090.8 143.6 1090.7 131.7 1090.6 119.8 1090.6 107.9 1090.6 96 1090.1 84.1Z" fill="url(#g0_231)"/>
<path d="M1105 119.1 1104.6 129.8 1104.5 140.5 1104.5 151.2 1104.5 161.9 1104.6 172.6 1104.6 183.3 1105.5 194 1107 204.7 1107 204.7 1108 194 1108.4 183.3 1107.9 172.6 1107.5 161.9 1107 151.2 1106.5 140.5 1105.9 129.8 1105 119.1Z" fill="url(#g0_240)"/><path d="M1105 119.1 1104.8 129.8 1104.9 140.5 1105.1 151.2 1105.2 161.9 1105.3 172.6 1105.5 183.3 1106.1 194 1107 204.7 1107 204.7 1107.4 194 1107.5 183.3 1107.2 172.6 1106.8 161.9 1106.4 151.2 1106 140.5 1105.7 129.8 1105 119.1Z" fill="url(#g0_241)"/>
<path d="M1132.6 94.8 1131.6 103.8 1130.9 112.7 1130.3 121.7 1129.7 130.7 1129.2 139.7 1128.7 148.6 1129.3 157.6 1130.6 166.6 1130.6 166.6 1132.4 157.6 1133.5 148.6 1133.5 139.7 1133.5 130.7 1133.5 121.7 1133.4 112.7 1133.2 103.8 1132.6 94.8Z" fill="url(#g0_280)"/><path d="M1132.6 94.8 1131.9 103.8 1131.4 112.7 1131 121.7 1130.6 130.7 1130.2 139.7 1129.8 148.6 1130 157.6 1130.6 166.6 1130.6 166.6 1131.7 157.6 1132.4 148.6 1132.6 139.7 1132.7 130.7 1132.7 121.7 1132.8 112.7 1132.8 103.8 1132.6 94.8Z" fill="url(#g0_281)"/>
<path d="M1135.2 61.3 1134.7 66.2 1134.4 71.1 1134.2 76 1134.3 80.9 1134.4 85.9 1134.6 90.8 1134.7 95.7 1135.2 100.6 1135.2 100.6 1135.6 95.7 1135.8 90.8 1136 85.9 1136.1 80.9 1136.2 76 1136 71.1 1135.7 66.2 1135.2 61.3Z" fill="url(#g0_290)"/><path d="M1135.2 61.3 1134.7 66.2 1134.7 71.1 1134.6 76 1134.7 80.9 1134.7 85.9 1134.7 90.8 1134.7 95.7 1135.2 100.6 1135.2 100.6 1135.6 95.7 1135.6 90.8 1135.6 85.9 1135.7 80.9 1135.7 76 1135.6 71.1 1135.6 66.2 1135.2 61.3Z" fill="url(#g0_291)"/>
<path d="M1146.3 87.4 1146 93.5 1145.9 99.6 1145.8 105.7 1145.8 111.8 1145.8 117.9 1146.2 124 1146.6 130.1 1147.4 136.1 1147.4 136.1 1147.8 130.1 1148 124 1148.1 117.9 1147.9 111.8 1147.6 105.7 1147.3 99.6 1146.9 93.5 1146.3 87.4Z" fill="url(#g0_320)"/><path d="M1146.3 87.4 1146 93.5 1146.1 99.6 1146.2 105.7 1146.3 111.8 1146.3 117.9 1146.6 124 1146.8 130.1 1147.4 136.1 1147.4 136.1 1147.7 130.1 1147.6 124 1147.6 117.9 1147.4 111.8 1147.2 105.7 1147 99.6 1146.9 93.5 1146.3 87.4Z" fill="url(#g0_321)"/>
<path d="M1148.4 61.3 1147.9 67.9 1147.6 74.6 1147.4 81.3 1147.5 87.9 1147.6 94.6 1147.8 101.2 1147.9 107.9 1148.4 114.6 1148.4 114.6 1148.8 107.9 1149 101.2 1149.2 94.6 1149.3 87.9 1149.4 81.3 1149.2 74.6 1148.9 67.9 1148.4 61.3Z" fill="url(#g0_330)"/><path d="M1148.4 61.3 1147.9 67.9 1147.9 74.6 1147.8 81.3 1147.9 87.9 1147.9 94.6 1147.9 101.2 1147.9 107.9 1148.4 114.6 1148.4 114.6 1148.8 107.9 1148.8 101.2 1148.8 94.6 1148.9 87.9 1148.9 81.3 1148.8 74.6 1148.8 67.9 1148.4 61.3Z" fill="url(#g0_331)"/>
<path d="M1150.8 98.1 1150.3 103.9 1150 109.8 1149.8 115.7 1149.7 121.5 1149.6 127.4 1149.5 133.3 1150.1 139.2 1151.3 145 1151.3 145 1152.4 139.2 1152.9 133.3 1152.6 127.4 1152.4 121.5 1152.1 115.7 1151.8 109.8 1151.4 103.9 1150.8 98.1Z" fill="url(#g0_340)"/><path d="M1150.8 98.1 1150.4 103.9 1150.4 109.8 1150.4 115.7 1150.3 121.5 1150.3 127.4 1150.2 133.3 1150.6 139.2 1151.3 145 1151.3 145 1151.9 139.2 1152.1 133.3 1151.9 127.4 1151.8 121.5 1151.6 115.7 1151.4 109.8 1151.3 103.9 1150.8 98.1Z" fill="url(#g0_341)"/>
<path d="M1163.1 57.5 1162.9 71.3 1163.1 85.1 1163.3 98.9 1163.6 112.7 1163.9 126.5 1164.8 140.3 1165.8 154.1 1167.4 167.9 1167.4 167.9 1167.9 154.1 1167.8 140.3 1167.6 126.5 1166.8 112.7 1166 98.9 1165.2 85.1 1164.3 71.3 1163.1 57.5Z" fill="url(#g0_370)"/><path d="M1163.1 57.5 1163.2 71.3 1163.6 85.1 1163.9 98.9 1164.3 112.7 1164.8 126.5 1165.5 140.3 1166.3 154.1 1167.4 167.9 1167.4 167.9 1167.4 154.1 1167.2 140.3 1166.8 126.5 1166.1 112.7 1165.4 98.9 1164.7 85.1 1164.1 71.3 1163.1 57.5Z" fill="url(#g0_371)"/>
<path d="M1175.3 145.8 1174.8 151.9 1174.7 158 1174.6 164.1 1174.5 170.2 1174.4 176.2 1174.6 182.3 1174.8 188.4 1175.3 194.5 1175.3 194.5 1175.7 188.4 1176 182.3 1176.1 176.2 1176.1 170.2 1176 164.1 1175.8 158 1175.7 151.9 1175.3 145.8Z" fill="url(#g0_390)"/><path d="M1175.3 145.8 1174.8 151.9 1174.8 158 1174.8 164.1 1174.8 170.2 1174.8 176.2 1174.8 182.3 1174.8 188.4 1175.3 194.5 1175.3 194.5 1175.7 188.4 1175.7 182.3 1175.8 176.2 1175.7 170.2 1175.7 164.1 1175.7 158 1175.7 151.9 1175.3 145.8Z" fill="url(#g0_391)"/>
<path d="M1181.6 199.3 1181.2 202.2 1180.9 205.1 1180.7 208 1180.5 210.9 1180.5 213.8 1180.7 216.7 1181 219.5 1181.6 222.4 1181.6 222.4 1182.2 219.5 1182.5 216.7 1182.8 213.8 1182.7 210.9 1182.5 208 1182.3 205.1 1182.1 202.2 1181.6 199.3Z" fill="url(#g0_400)"/><path d="M1181.6 199.3 1181.2 202.2 1181.2 205.1 1181.1 208 1181 210.9 1181 213.8 1181.1 216.7 1181.2 219.5 1181.6 222.4 1181.6 222.4 1182.1 219.5 1182.1 216.7 1182.3 213.8 1182.2 210.9 1182.1 208 1182.1 205.1 1182.1 202.2 1181.6 199.3Z" fill="url(#g0_401)"/>
<path d="M1193.8 97.1 1193.3 106.4 1193 115.7 1192.8 125 1192.6 134.4 1192.4 143.7 1192.3 153 1192.8 162.3 1193.8 171.7 1193.8 171.7 1194.8 162.3 1195.3 153 1195.2 143.7 1195 134.4 1194.8 125 1194.6 115.7 1194.3 106.4 1193.8 97.1Z" fill="url(#g0_410)"/><path d="M1193.8 97.1 1193.4 106.4 1193.4 115.7 1193.2 125 1193.1 134.4 1193 143.7 1193 153 1193.2 162.3 1193.8 171.7 1193.8 171.7 1194.4 162.3 1194.7 153 1194.6 143.7 1194.5 134.4 1194.4 125 1194.3 115.7 1194.3 106.4 1193.8 97.1Z" fill="url(#g0_411)"/>
<path d="M1218.7 119.1 1218.1 128.2 1217.8 137.3 1217.5 146.5 1217.3 155.6 1217.1 164.7 1216.9 173.8 1217.5 182.9 1218.7 192 1218.7 192 1219.8 182.9 1220.4 173.8 1220.2 164.7 1220 155.6 1219.8 146.5 1219.5 137.3 1219.2 128.2 1218.7 119.1Z" fill="url(#g0_450)"/><path d="M1218.7 119.1 1218.2 128.2 1218.2 137.3 1218 146.5 1217.9 155.6 1217.8 164.7 1217.7 173.8 1218 182.9 1218.7 192 1218.7 192 1219.3 182.9 1219.6 173.8 1219.5 164.7 1219.4 155.6 1219.3 146.5 1219.1 137.3 1219.1 128.2 1218.7 119.1Z" fill="url(#g0_451)"/>
<path d="M1233.2 141 1232.4 149.6 1231.9 158.3 1231.4 166.9 1230.9 175.6 1230.4 184.3 1230.1 192.9 1230.2 201.6 1230.7 210.3 1230.7 210.3 1231.8 201.6 1232.6 192.9 1232.9 184.3 1233.1 175.6 1233.2 166.9 1233.4 158.3 1233.4 149.6 1233.2 141Z" fill="url(#g0_480)"/><path d="M1233.2 141 1232.5 149.6 1232.2 158.3 1231.8 166.9 1231.4 175.6 1231 184.3 1230.7 192.9 1230.6 201.6 1230.7 210.3 1230.7 210.3 1231.5 201.6 1232 192.9 1232.4 184.3 1232.6 175.6 1232.8 166.9 1233.1 158.3 1233.4 149.6 1233.2 141Z" fill="url(#g0_481)"/>
<path d="M1371.6 29.5 1370.4 43.6 1369.7 57.6 1369 71.6 1368.4 85.6 1368.1 99.7 1368.2 113.7 1368.4 127.7 1369 141.7 1369 141.7 1370.3 127.7 1371.1 113.7 1371.8 99.7 1372.2 85.6 1372.3 71.6 1372.2 57.6 1372.1 43.6 1371.6 29.5Z" fill="url(#g0_530)"/><path d="M1371.6 29.5 1370.8 43.6 1370.2 57.6 1369.7 71.6 1369.2 85.6 1369 99.7 1368.9 113.7 1368.8 127.7 1369 141.7 1369 141.7 1369.9 127.7 1370.5 113.7 1371 99.7 1371.4 85.6 1371.5 71.6 1371.6 57.6 1371.7 43.6 1371.6 29.5Z" fill="url(#g0_531)"/>
<path d="M1373.6 141 1373.2 144.6 1373 148.3 1372.8 151.9 1372.7 155.6 1372.6 159.2 1372.8 162.9 1373.1 166.5 1373.6 170.2 1373.6 170.2 1374.1 166.5 1374.4 162.9 1374.6 159.2 1374.5 155.6 1374.4 151.9 1374.2 148.3 1374.1 144.6 1373.6 141Z" fill="url(#g0_540)"/><path d="M1373.6 141 1373.2 144.6 1373.2 148.3 1373.2 151.9 1373.1 155.6 1373.1 159.2 1373.2 162.9 1373.2 166.5 1373.6 170.2 1373.6 170.2 1374.1 166.5 1374.1 162.9 1374.1 159.2 1374.1 155.6 1374.1 151.9 1374.1 148.3 1374.1 144.6 1373.6 141Z" fill="url(#g0_541)"/>
<path d="M1394.7 175 1394 183.6 1393.7 192.2 1393.4 200.8 1393.1 209.4 1392.9 218 1393 226.6 1393.6 235.2 1394.7 243.8 1394.7 243.8 1395.8 235.2 1396.4 226.6 1396.4 218 1396.2 209.4 1396 200.8 1395.7 192.2 1395.3 183.6 1394.7 175Z" fill="url(#g0_560)"/><path d="M1394.7 175 1394.2 183.6 1394.1 192.2 1394 200.8 1393.8 209.4 1393.7 218 1393.7 226.6 1394.1 235.2 1394.7 243.8 1394.7 243.8 1395.3 235.2 1395.6 226.6 1395.6 218 1395.5 209.4 1395.4 200.8 1395.2 192.2 1395.1 183.6 1394.7 175Z" fill="url(#g0_561)"/>
<path d="M1406.6 54.9 1406.1 62.1 1405.9 69.2 1405.7 76.3 1405.8 83.5 1406 90.6 1406.1 97.8 1406.1 104.9 1406.6 112 1406.6 112 1407 104.9 1407.1 97.8 1407.2 90.6 1407.4 83.5 1407.5 76.3 1407.3 69.2 1407.1 62.1 1406.6 54.9Z" fill="url(#g0_570)"/><path d="M1406.6 54.9 1406.1 62.1 1406.1 69.2 1406.1 76.3 1406.1 83.5 1406.1 90.6 1406.1 97.8 1406.1 104.9 1406.6 112 1406.6 112 1407 104.9 1407 97.8 1407 90.6 1407 83.5 1407.1 76.3 1407 69.2 1407 62.1 1406.6 54.9Z" fill="url(#g0_571)"/>
<path d="M1407.3 167.9 1406.7 174.9 1406.3 182 1406.1 189.1 1405.9 196.2 1405.8 203.2 1406.1 210.3 1406.5 217.4 1407.3 224.5 1407.3 224.5 1408 217.4 1408.4 210.3 1408.7 203.2 1408.6 196.2 1408.4 189.1 1408.2 182 1407.9 174.9 1407.3 167.9Z" fill="url(#g0_580)"/><path d="M1407.3 167.9 1406.8 174.9 1406.8 182 1406.6 189.1 1406.5 196.2 1406.4 203.2 1406.6 210.3 1406.8 217.4 1407.3 224.5 1407.3 224.5 1407.7 217.4 1407.9 210.3 1408.1 203.2 1408 196.2 1407.9 189.1 1407.8 182 1407.7 174.9 1407.3 167.9Z" fill="url(#g0_581)"/></g>
</g></g>
<rect x="895.5" y="65.5" width="524.7" height="187" fill="none" stroke="#262626" stroke-width="1.1"/>
<path d="M895.5 252.5v-5.5 M895.5 65.5v5.5 M1026.7 252.5v-5.5 M1026.7 65.5v5.5 M1157.8 252.5v-5.5 M1157.8 65.5v5.5 M1289 252.5v-5.5 M1289 65.5v5.5 M1420.2 252.5v-5.5 M1420.2 65.5v5.5 M895.5 252h5.5 M1420.2 252h-5.5 M895.5 192.2h5.5 M1420.2 192.2h-5.5 M895.5 149.8h5.5 M1420.2 149.8h-5.5 M895.5 116.8h5.5 M1420.2 116.8h-5.5 M895.5 90h5.5 M1420.2 90h-5.5 M895.5 67.2h5.5 M1420.2 67.2h-5.5" stroke="#262626" stroke-width="1.1" fill="none"/>
<g clip-path="url(#c1)"><g filter="url(#jet)" fill="#fff">
<rect x="875.5" y="307.5" width="564.7" height="228" fill="#000"/>
<g filter="url(#bA)"><path d="M972.4 425.9 972.2 429.3 971.9 436.1 972.2 442.9 972.5 449.8 972.8 456.6 973.2 463.4 973.5 470.2 973.8 477 974.2 483.8 974.5 490.6 975 497.5 975.7 504.3 978.5 507.7 980.8 504.3 980.5 497.5 979.9 490.6 979.2 483.8 978.6 477 977.9 470.2 977.2 463.4 976.5 456.6 975.8 449.8 975.1 442.9 974.4 436.1 973.1 429.3Z" fill-opacity="0.069"/><path d="M972.9 432.7 972 436.1 972.3 442.9 972.6 449.8 972.9 456.6 973.3 463.4 973.6 470.2 973.9 477 974.3 483.8 974.7 490.6 975.1 497.5 976 504.3 978.5 507.7 980.4 504.3 980.3 497.5 979.7 490.6 979.1 483.8 978.5 477 977.8 470.2 977.1 463.4 976.4 456.6 975.7 449.8 975 442.9 974.2 436.1Z" fill-opacity="0.025"/><path d="M972.9 432.7 972.3 436.1 972.4 442.9 972.7 449.8 973 456.6 973.3 463.4 973.7 470.2 974 477 974.4 483.8 974.8 490.6 975.3 497.5 976.9 504.3 978.5 507.7 979.6 504.3 980.1 497.5 979.6 490.6 979 483.8 978.4 477 977.7 470.2 977 463.4 976.3 456.6 975.6 449.8 974.9 442.9 974 436.1Z" fill-opacity="0.033"/><path d="M972.9 432.7 972.8 436.1 972.5 442.9 972.8 449.8 973.1 456.6 973.5 463.4 973.8 470.2 974.2 477 974.5 483.8 975 490.6 975.6 497.5 978 500.9 979.8 497.5 979.4 490.6 978.9 483.8 978.2 477 977.6 470.2 976.9 463.4 976.2 456.6 975.5 449.8 974.8 442.9 973.5 436.1Z" fill-opacity="0.046"/><path d="M973.4 439.5 972.9 442.9 973 449.8 973.3 456.6 973.6 463.4 973.9 470.2 974.3 477 974.7 483.8 975.2 490.6 976.4 497.5 978 500.9 979 497.5 979.2 490.6 978.7 483.8 978.1 477 977.4 470.2 976.8 463.4 976.1 456.6 975.4 449.8 974.4 442.9Z" fill-opacity="0.064"/><path d="M973.9 446.4 973.4 449.8 973.5 456.6 973.8 463.4 974.1 470.2 974.5 477 975.1 483.8 975.9 490.6 977.5 494.1 978.5 490.6 978.3 483.8 977.9 477 977.2 470.2 976.6 463.4 975.8 456.6 974.9 449.8Z" fill-opacity="0.091"/><path d="M974.4 453.2 974.1 456.6 974.3 463.4 974.6 470.2 975.1 477 975.9 483.8 977 487.2 977.5 483.8 977.3 477 976.7 470.2 976.1 463.4 975.2 456.6Z" fill-opacity="0.127"/>
<path d="M979.4 425.3 978.6 429.6 977.9 438.2 977.7 446.8 977.6 455.3 977.4 463.9 977.2 472.5 977 481.1 976.8 489.7 976.6 498.3 976.4 506.9 976.3 515.5 976.4 524.1 981.3 528.4 986 524.1 985.9 515.5 985.4 506.9 984.9 498.3 984.4 489.7 983.9 481.1 983.3 472.5 982.9 463.9 982.4 455.3 981.9 446.8 981.4 438.2 980.4 429.6Z" fill-opacity="0.072"/><path d="M979.6 433.9 978.1 438.2 977.9 446.8 977.7 455.3 977.5 463.9 977.3 472.5 977.2 481.1 977 489.7 976.8 498.3 976.6 506.9 976.5 515.5 976.9 524.1 981.3 528.4 985.6 524.1 985.6 515.5 985.2 506.9 984.7 498.3 984.2 489.7 983.7 481.1 983.2 472.5 982.7 463.9 982.3 455.3 981.8 446.8 981.2 438.2Z" fill-opacity="0.030"/><path d="M979.6 433.9 978.4 438.2 978 446.8 977.8 455.3 977.7 463.9 977.5 472.5 977.3 481.1 977.1 489.7 977 498.3 976.8 506.9 976.8 515.5 977.6 524.1 981.3 528.4 984.9 524.1 985.3 515.5 985 506.9 984.5 498.3 984.1 489.7 983.6 481.1 983.1 472.5 982.6 463.9 982.1 455.3 981.6 446.8 980.9 438.2Z" fill-opacity="0.042"/><path d="M979.6 433.9 979.1 438.2 978.2 446.8 978 455.3 977.8 463.9 977.7 472.5 977.5 481.1 977.3 489.7 977.2 498.3 977.1 506.9 977.2 515.5 979.4 524.1 981.3 528.4 983 524.1 984.9 515.5 984.7 506.9 984.3 498.3 983.9 489.7 983.4 481.1 982.9 472.5 982.4 463.9 981.9 455.3 981.4 446.8 980.2 438.2Z" fill-opacity="0.061"/><path d="M979.7 442.5 978.8 446.8 978.2 455.3 978 463.9 977.9 472.5 977.7 481.1 977.6 489.7 977.5 498.3 977.5 506.9 978 515.5 981.1 519.8 984.1 515.5 984.3 506.9 984 498.3 983.6 489.7 983.1 481.1 982.7 472.5 982.2 463.9 981.7 455.3 980.8 446.8Z" fill-opacity="0.090"/><path d="M979.9 451.1 979 455.3 978.5 463.9 978.2 472.5 978 481.1 977.9 489.7 977.9 498.3 978.3 506.9 980.1 515.5 981.1 519.8 982.1 515.5 983.5 506.9 983.6 498.3 983.3 489.7 982.8 481.1 982.3 472.5 981.7 463.9 980.9 455.3Z" fill-opacity="0.138"/><path d="M980 459.6 979.7 463.9 979.1 472.5 978.9 481.1 978.8 489.7 979.1 498.3 980.5 506.9 981 511.2 981.3 506.9 982.4 498.3 982.3 489.7 982 481.1 981.4 472.5 980.5 463.9Z" fill-opacity="0.186"/>
<path d="M979.3 447.3 976.9 451.1 975.2 458.5 974.5 465.9 973.8 473.3 973.2 480.7 972.6 488.1 972 495.6 971.3 503 970.7 510.4 970.4 517.8 971.1 525.2 980.6 529 989.8 525.2 990.3 517.8 989.8 510.4 988.9 503 988.1 495.6 987.2 488.1 986.4 480.7 985.5 473.3 984.7 465.9 983.7 458.5 981.7 451.1Z" fill-opacity="0.079"/><path d="M979.4 454.8 976.7 458.5 975.1 465.9 974.5 473.3 973.8 480.7 973.2 488.1 972.6 495.6 972 503 971.5 510.4 971.5 517.8 974.4 525.2 980.6 529 986.6 525.2 989.3 517.8 989 510.4 988.2 503 987.4 495.6 986.6 488.1 985.7 480.7 984.9 473.3 984 465.9 982.2 458.5Z" fill-opacity="0.046"/><path d="M979.5 462.2 977.5 465.9 975.9 473.3 974.8 480.7 974.1 488.1 973.5 495.6 973 503 972.7 510.4 973.6 517.8 980.4 521.5 987.1 517.8 987.9 510.4 987.3 503 986.5 495.6 985.7 488.1 984.8 480.7 983.5 473.3 981.6 465.9Z" fill-opacity="0.075"/><path d="M979.7 477 978.3 480.7 976.9 488.1 976.1 495.6 975.7 503 976.1 510.4 980.3 514.1 984.4 510.4 984.6 503 983.9 495.6 982.9 488.1 981.3 480.7Z" fill-opacity="0.079"/>
<path d="M988.1 410.6 985.9 414.2 984.1 421.3 984.1 428.4 984.4 435.5 984.8 442.7 985.3 449.8 985.8 456.9 986.3 464 987 471.2 987.6 478.3 988.5 485.4 991.1 492.5 993.9 496.1 996.3 492.5 997.9 485.4 997.8 478.3 997.5 471.2 997.1 464 996.7 456.9 996.3 449.8 995.8 442.7 995.2 435.5 994.5 428.4 993.6 421.3 990.8 414.2Z" fill-opacity="0.082"/><path d="M988.6 417.7 984.8 421.3 984.7 428.4 984.9 435.5 985.3 442.7 985.7 449.8 986.3 456.9 986.8 464 987.5 471.2 988.3 478.3 989.9 485.4 993.5 489 996.6 485.4 997.2 478.3 997 471.2 996.7 464 996.3 456.9 995.8 449.8 995.3 442.7 994.7 435.5 994 428.4 992.8 421.3Z" fill-opacity="0.054"/><path d="M988.6 417.7 988.1 421.3 985.7 428.4 985.5 435.5 985.9 442.7 986.4 449.8 986.9 456.9 987.5 464 988.5 471.2 990.2 478.3 993 481.8 995.3 478.3 995.9 471.2 995.9 464 995.6 456.9 995.2 449.8 994.7 442.7 994.1 435.5 993 428.4 989.6 421.3Z" fill-opacity="0.091"/><path d="M989.6 432 987.6 435.5 987.6 442.7 988.1 449.8 988.9 456.9 990.2 464 992 467.6 993.3 464 993.6 456.9 993.4 449.8 993 442.7 992 435.5Z" fill-opacity="0.093"/>
<path d="M1000.4 408.1 997.9 411.8 996.3 419.1 996.3 426.5 996.5 433.8 996.8 441.1 997.2 448.4 997.7 455.7 998.2 463.1 998.7 470.4 999.4 477.7 1000.2 485 1002.5 492.3 1005.5 496 1008.1 492.3 1009.6 485 1009.5 477.7 1009.3 470.4 1009 463.1 1008.6 455.7 1008.2 448.4 1007.8 441.1 1007.3 433.8 1006.6 426.5 1005.8 419.1 1003.2 411.8Z" fill-opacity="0.082"/><path d="M1000.8 415.5 997 419.1 996.8 426.5 997 433.8 997.3 441.1 997.7 448.4 998.2 455.7 998.7 463.1 999.3 470.4 1000 477.7 1001.4 485 1005.1 488.7 1008.3 485 1008.9 477.7 1008.8 470.4 1008.5 463.1 1008.2 455.7 1007.8 448.4 1007.3 441.1 1006.8 433.8 1006.1 426.5 1005 419.1Z" fill-opacity="0.056"/><path d="M1000.8 415.5 1000 419.1 997.8 426.5 997.6 433.8 997.9 441.1 998.3 448.4 998.8 455.7 999.4 463.1 1000.3 470.4 1001.9 477.7 1004.7 481.4 1007 477.7 1007.7 470.4 1007.8 463.1 1007.5 455.7 1007.1 448.4 1006.7 441.1 1006.1 433.8 1005.1 426.5 1002 419.1Z" fill-opacity="0.096"/><path d="M1001.7 430.1 999.7 433.8 999.6 441.1 1000.1 448.4 1000.8 455.7 1002 463.1 1003.8 466.7 1005.1 463.1 1005.5 455.7 1005.4 448.4 1005 441.1 1004 433.8Z" fill-opacity="0.098"/>
<path d="M1017.6 466.5 1015.1 468.3 1014.5 471.7 1014.3 475.2 1014.2 478.6 1014.2 482.1 1014.2 485.5 1014.2 489 1014.3 492.4 1014.4 495.9 1014.8 499.4 1016.7 502.8 1019.7 504.5 1022.6 502.8 1024 499.4 1024 495.9 1023.8 492.4 1023.5 489 1023.1 485.5 1022.7 482.1 1022.3 478.6 1021.8 475.2 1021.2 471.7 1020.2 468.3Z" fill-opacity="0.077"/><path d="M1017.6 466.5 1017.4 468.3 1015.1 471.7 1014.7 475.2 1014.6 478.6 1014.5 482.1 1014.5 485.5 1014.6 489 1014.7 492.4 1014.9 495.9 1015.7 499.4 1019.5 501.1 1023.2 499.4 1023.5 495.9 1023.4 492.4 1023.1 489 1022.8 485.5 1022.4 482.1 1021.9 478.6 1021.4 475.2 1020.6 471.7 1018 468.3Z" fill-opacity="0.041"/><path d="M1017.8 470 1017.1 471.7 1015.6 475.2 1015.1 478.6 1015 482.1 1015 485.5 1015.1 489 1015.3 492.4 1016.1 495.9 1018.5 499.4 1019.5 501.1 1020.3 499.4 1022.4 495.9 1022.8 492.4 1022.6 489 1022.3 485.5 1021.9 482.1 1021.4 478.6 1020.5 475.2 1018.7 471.7Z" fill-opacity="0.065"/><path d="M1018.2 476.9 1017 478.6 1016.4 482.1 1016.3 485.5 1016.6 489 1017.3 492.4 1019.1 494.2 1020.8 492.4 1021.1 489 1021 485.5 1020.5 482.1 1019.6 478.6Z" fill-opacity="0.071"/>
<path d="M1118 440.1 1116.8 442.8 1116.5 448.1 1116.3 453.4 1116.2 458.7 1116.1 464 1116 469.3 1115.9 474.6 1115.8 479.9 1115.7 485.3 1115.8 490.6 1116.1 495.9 1118.4 498.5 1120.6 495.9 1120.9 490.6 1120.9 485.3 1120.7 479.9 1120.6 474.6 1120.4 469.3 1120.2 464 1120 458.7 1119.8 453.4 1119.6 448.1 1119.2 442.8Z" fill-opacity="0.082"/><path d="M1118 440.1 1117.5 442.8 1116.7 448.1 1116.5 453.4 1116.4 458.7 1116.3 464 1116.2 469.3 1116.1 474.6 1116 479.9 1116 485.3 1116.1 490.6 1117.8 495.9 1118.4 498.5 1119 495.9 1120.6 490.6 1120.6 485.3 1120.5 479.9 1120.4 474.6 1120.2 469.3 1120 464 1119.8 458.7 1119.6 453.4 1119.3 448.1 1118.5 442.8Z" fill-opacity="0.054"/><path d="M1118 445.4 1117.6 448.1 1117 453.4 1116.6 458.7 1116.5 464 1116.4 469.3 1116.3 474.6 1116.3 479.9 1116.4 485.3 1117.2 490.6 1118.4 493.2 1119.5 490.6 1120.2 485.3 1120.2 479.9 1120.1 474.6 1120 469.3 1119.8 464 1119.6 458.7 1119.2 453.4 1118.5 448.1Z" fill-opacity="0.091"/><path d="M1118.1 456 1117.7 458.7 1117.3 464 1117.1 469.3 1117.1 474.6 1117.3 479.9 1118.3 482.6 1119.3 479.9 1119.4 474.6 1119.3 469.3 1119 464 1118.6 458.7Z" fill-opacity="0.093"/>
<path d="M1150.7 379.9 1150 386 1149.8 398.2 1149.8 410.4 1149.7 422.7 1149.6 434.9 1149.4 447.1 1149.2 459.3 1149 471.6 1148.7 483.8 1148.4 496 1148.2 508.2 1148.1 520.4 1153 526.5 1157.7 520.4 1157.3 508.2 1156.6 496 1156 483.8 1155.3 471.6 1154.7 459.3 1154.1 447.1 1153.6 434.9 1153.1 422.7 1152.6 410.4 1152.1 398.2 1151.5 386Z" fill-opacity="0.074"/><path d="M1150.7 379.9 1150.4 386 1149.9 398.2 1149.8 410.4 1149.7 422.7 1149.6 434.9 1149.5 447.1 1149.3 459.3 1149.1 471.6 1148.9 483.8 1148.6 496 1148.4 508.2 1148.5 520.4 1153 526.5 1157.3 520.4 1157.1 508.2 1156.5 496 1155.8 483.8 1155.2 471.6 1154.6 459.3 1154 447.1 1153.5 434.9 1153 422.7 1152.5 410.4 1152 398.2 1151.1 386Z" fill-opacity="0.033"/><path d="M1150.9 392.1 1150.1 398.2 1149.9 410.4 1149.8 422.7 1149.7 434.9 1149.6 447.1 1149.5 459.3 1149.3 471.6 1149 483.8 1148.8 496 1148.7 508.2 1149 520.4 1153 526.5 1156.8 520.4 1156.8 508.2 1156.3 496 1155.6 483.8 1155 471.6 1154.4 459.3 1153.9 447.1 1153.4 434.9 1152.9 422.7 1152.4 410.4 1151.9 398.2Z" fill-opacity="0.049"/><path d="M1150.9 392.1 1150.4 398.2 1150.1 410.4 1150 422.7 1149.9 434.9 1149.7 447.1 1149.6 459.3 1149.4 471.6 1149.2 483.8 1149.1 496 1149 508.2 1150.6 520.4 1153 526.5 1155.3 520.4 1156.4 508.2 1156 496 1155.4 483.8 1154.9 471.6 1154.3 459.3 1153.8 447.1 1153.3 434.9 1152.8 422.7 1152.3 410.4 1151.5 398.2Z" fill-opacity="0.074"/><path d="M1151.1 404.3 1150.4 410.4 1150.1 422.7 1150 434.9 1149.9 447.1 1149.8 459.3 1149.6 471.6 1149.5 483.8 1149.4 496 1149.7 508.2 1152.8 514.3 1155.8 508.2 1155.7 496 1155.2 483.8 1154.7 471.6 1154.1 459.3 1153.6 447.1 1153.1 434.9 1152.6 422.7 1151.9 410.4Z" fill-opacity="0.113"/><path d="M1151.3 416.6 1150.6 422.7 1150.4 434.9 1150.2 447.1 1150 459.3 1149.9 471.6 1149.8 483.8 1150.1 496 1151.5 508.2 1152.8 514.3 1153.9 508.2 1155 496 1154.8 483.8 1154.4 471.6 1153.9 459.3 1153.4 447.1 1152.8 434.9 1152.1 422.7Z" fill-opacity="0.181"/><path d="M1151.5 428.8 1151.3 434.9 1150.9 447.1 1150.8 459.3 1150.7 471.6 1150.9 483.8 1152.2 496 1152.6 502.1 1152.9 496 1153.8 483.8 1153.6 471.6 1153.1 459.3 1152.6 447.1 1151.9 434.9Z" fill-opacity="0.245"/>
<path d="M1201.5 456.6 1199.2 459.5 1198.8 465.5 1198.4 471.5 1198.1 477.4 1197.8 483.4 1197.5 489.3 1197.2 495.3 1197 501.2 1196.8 507.2 1196.7 513.1 1197.2 519.1 1201.5 522.1 1205.8 519.1 1206.3 513.1 1206.3 507.2 1206.1 501.2 1205.8 495.3 1205.6 489.3 1205.3 483.4 1205 477.4 1204.6 471.5 1204.3 465.5 1203.8 459.5Z" fill-opacity="0.068"/><path d="M1201.5 456.6 1199.5 459.5 1198.9 465.5 1198.6 471.5 1198.2 477.4 1197.9 483.4 1197.6 489.3 1197.4 495.3 1197.2 501.2 1197 507.2 1197 513.1 1198.3 519.1 1201.5 522.1 1204.8 519.1 1206 513.1 1206 507.2 1205.9 501.2 1205.7 495.3 1205.4 489.3 1205.1 483.4 1204.8 477.4 1204.5 471.5 1204.1 465.5 1203.5 459.5Z" fill-opacity="0.021"/><path d="M1201.5 456.6 1200.2 459.5 1199.1 465.5 1198.7 471.5 1198.4 477.4 1198.1 483.4 1197.8 489.3 1197.6 495.3 1197.4 501.2 1197.3 507.2 1197.4 513.1 1200.3 519.1 1201.5 522.1 1202.8 519.1 1205.7 513.1 1205.8 507.2 1205.7 501.2 1205.5 495.3 1205.2 489.3 1204.9 483.4 1204.6 477.4 1204.3 471.5 1203.9 465.5 1202.9 459.5Z" fill-opacity="0.028"/><path d="M1201.5 462.5 1199.5 465.5 1199 471.5 1198.6 477.4 1198.3 483.4 1198 489.3 1197.8 495.3 1197.6 501.2 1197.6 507.2 1198.1 513.1 1201.5 516.1 1204.9 513.1 1205.5 507.2 1205.4 501.2 1205.2 495.3 1205 489.3 1204.7 483.4 1204.4 477.4 1204.1 471.5 1203.5 465.5Z" fill-opacity="0.037"/><path d="M1201.5 462.5 1200.3 465.5 1199.3 471.5 1198.9 477.4 1198.5 483.4 1198.3 489.3 1198.1 495.3 1198 501.2 1198.1 507.2 1199.6 513.1 1201.5 516.1 1203.5 513.1 1204.9 507.2 1205.1 501.2 1205 495.3 1204.8 489.3 1204.5 483.4 1204.2 477.4 1203.7 471.5 1202.7 465.5Z" fill-opacity="0.049"/><path d="M1201.5 468.5 1200.2 471.5 1199.4 477.4 1198.9 483.4 1198.6 489.3 1198.5 495.3 1198.6 501.2 1199.3 507.2 1201.5 510.2 1203.7 507.2 1204.4 501.2 1204.5 495.3 1204.4 489.3 1204.1 483.4 1203.6 477.4 1202.9 471.5Z" fill-opacity="0.066"/><path d="M1201.5 474.4 1200.5 477.4 1199.9 483.4 1199.6 489.3 1199.5 495.3 1200 501.2 1201.5 504.2 1203.1 501.2 1203.5 495.3 1203.5 489.3 1203.2 483.4 1202.6 477.4Z" fill-opacity="0.098"/>
<path d="M1335.8 444.9 1335.5 447.2 1333.3 451.9 1332.9 456.6 1332.6 461.3 1332.3 466 1332.1 470.7 1331.8 475.4 1331.6 480 1331.5 484.7 1331.3 489.4 1331.3 494.1 1331.8 498.8 1335.8 501.1 1339.8 498.8 1340.2 494.1 1340.2 489.4 1340.1 484.7 1339.9 480 1339.7 475.4 1339.5 470.7 1339.2 466 1339 461.3 1338.7 456.6 1338.2 451.9 1336.1 447.2Z" fill-opacity="0.069"/><path d="M1335.8 449.6 1333.6 451.9 1333.1 456.6 1332.7 461.3 1332.5 466 1332.2 470.7 1332 475.4 1331.8 480 1331.6 484.7 1331.5 489.4 1331.6 494.1 1332.5 498.8 1335.8 501.1 1339 498.8 1340 494.1 1340 489.4 1339.9 484.7 1339.8 480 1339.6 475.4 1339.4 470.7 1339.1 466 1338.8 461.3 1338.5 456.6 1338 451.9Z" fill-opacity="0.023"/><path d="M1335.8 449.6 1334.2 451.9 1333.3 456.6 1332.9 461.3 1332.6 466 1332.4 470.7 1332.2 475.4 1332 480 1331.8 484.7 1331.8 489.4 1331.9 494.1 1334.1 498.8 1335.8 501.1 1337.5 498.8 1339.6 494.1 1339.8 489.4 1339.7 484.7 1339.6 480 1339.4 475.4 1339.2 470.7 1338.9 466 1338.6 461.3 1338.3 456.6 1337.4 451.9Z" fill-opacity="0.031"/><path d="M1335.8 449.6 1335.5 451.9 1333.6 456.6 1333.1 461.3 1332.8 466 1332.6 470.7 1332.4 475.4 1332.2 480 1332.1 484.7 1332.1 489.4 1332.5 494.1 1335.8 496.4 1339.1 494.1 1339.5 489.4 1339.5 484.7 1339.4 480 1339.2 475.4 1339 470.7 1338.7 466 1338.4 461.3 1337.9 456.6 1336 451.9Z" fill-opacity="0.041"/><path d="M1335.8 454.3 1334.4 456.6 1333.5 461.3 1333.1 466 1332.8 470.7 1332.6 475.4 1332.5 480 1332.4 484.7 1332.5 489.4 1333.8 494.1 1335.8 496.4 1337.8 494.1 1339 489.4 1339.2 484.7 1339.1 480 1338.9 475.4 1338.7 470.7 1338.5 466 1338.1 461.3 1337.1 456.6Z" fill-opacity="0.056"/><path d="M1335.8 459 1334.3 461.3 1333.6 466 1333.2 470.7 1333 475.4 1332.9 480 1333 484.7 1333.7 489.4 1335.8 491.8 1337.9 489.4 1338.5 484.7 1338.7 480 1338.6 475.4 1338.4 470.7 1337.9 466 1337.2 461.3Z" fill-opacity="0.078"/><path d="M1335.8 463.6 1334.7 466 1334.2 470.7 1333.9 475.4 1333.9 480 1334.3 484.7 1335.8 487.1 1337.3 484.7 1337.7 480 1337.7 475.4 1337.4 470.7 1336.8 466Z" fill-opacity="0.112"/></g>
<g filter="url(#bB)"><path d="M929.6 373.8 929.1 387.6 928.9 401.4 928.7 415.3 928.5 429.1 928.3 442.9 928.3 456.8 928.7 470.6 929.6 484.4 929.6 484.4 930.4 470.6 930.9 456.8 930.9 442.9 930.7 429.1 930.5 415.3 930.3 401.4 930.1 387.6 929.6 373.8Z" fill="url(#g1_00)"/><path d="M929.6 373.8 929.1 387.6 929.1 401.4 929.1 415.3 929 429.1 928.9 442.9 928.9 456.8 929.1 470.6 929.6 484.4 929.6 484.4 930.1 470.6 930.3 456.8 930.3 442.9 930.2 429.1 930.1 415.3 930 401.4 930 387.6 929.6 373.8Z" fill="url(#g1_01)"/>
<path d="M945.3 353 945.1 369.1 945.1 385.2 945.2 401.3 945.3 417.4 945.4 433.5 945.5 449.7 946.4 465.8 947.9 481.9 947.9 481.9 948.7 465.8 948.9 449.7 948.5 433.5 947.9 417.4 947.4 401.3 946.9 385.2 946.2 369.1 945.3 353Z" fill="url(#g1_10)"/><path d="M945.3 353 945.2 369.1 945.5 385.2 945.7 401.3 945.9 417.4 946.1 433.5 946.3 449.7 946.9 465.8 947.9 481.9 947.9 481.9 948.2 465.8 948.2 449.7 947.8 433.5 947.3 417.4 946.9 401.3 946.5 385.2 946.1 369.1 945.3 353Z" fill="url(#g1_11)"/>
<path d="M954.7 366.4 954.3 382.4 954.1 398.3 953.9 414.3 953.7 430.2 953.6 446.2 953.6 462.2 954 478.1 954.7 494.1 954.7 494.1 955.4 478.1 955.8 462.2 955.8 446.2 955.7 430.2 955.5 414.3 955.4 398.3 955.2 382.4 954.7 366.4Z" fill="url(#g1_20)"/><path d="M954.7 366.4 954.3 382.4 954.3 398.3 954.3 414.3 954.2 430.2 954.1 446.2 954.1 462.2 954.3 478.1 954.7 494.1 954.7 494.1 955.2 478.1 955.3 462.2 955.3 446.2 955.3 430.2 955.2 414.3 955.2 398.3 955.2 382.4 954.7 366.4Z" fill="url(#g1_21)"/>
<path d="M963.7 311.8 963.2 317.4 962.9 323 962.7 328.5 962.5 334.1 962.7 339.6 962.9 345.2 963.2 350.7 963.7 356.3 963.7 356.3 964.3 350.7 964.5 345.2 964.7 339.6 964.9 334.1 964.7 328.5 964.5 323 964.3 317.4 963.7 311.8Z" fill="url(#g1_30)"/><path d="M963.7 311.8 963.3 317.4 963.3 323 963.2 328.5 963.1 334.1 963.2 339.6 963.3 345.2 963.3 350.7 963.7 356.3 963.7 356.3 964.2 350.7 964.2 345.2 964.3 339.6 964.4 334.1 964.3 328.5 964.2 323 964.2 317.4 963.7 311.8Z" fill="url(#g1_31)"/>
<path d="M966.6 393.3 966.3 401.9 966.2 410.5 966.2 419.1 966.2 427.7 966.2 436.3 966.4 444.9 967.1 453.5 968.2 462.1 968.2 462.1 968.9 453.5 969.2 444.9 969 436.3 968.7 427.7 968.3 419.1 967.9 410.5 967.4 401.9 966.6 393.3Z" fill="url(#g1_40)"/><path d="M966.6 393.3 966.4 401.9 966.6 410.5 966.6 419.1 966.7 427.7 966.8 436.3 967 444.9 967.5 453.5 968.2 462.1 968.2 462.1 968.5 453.5 968.6 444.9 968.4 436.3 968.1 427.7 967.8 419.1 967.5 410.5 967.3 401.9 966.6 393.3Z" fill="url(#g1_41)"/>
<path d="M978.3 306.8 977.8 318.4 977.5 329.9 977.3 341.5 977.1 353.1 976.9 364.7 976.8 376.3 977.3 387.8 978.3 399.4 978.3 399.4 979.3 387.8 979.9 376.3 979.7 364.7 979.5 353.1 979.3 341.5 979.1 329.9 978.9 318.4 978.3 306.8Z" fill="url(#g1_50)"/><path d="M978.3 306.8 977.9 318.4 977.9 329.9 977.8 341.5 977.7 353.1 977.6 364.7 977.5 376.3 977.8 387.8 978.3 399.4 978.3 399.4 978.9 387.8 979.2 376.3 979.1 364.7 979 353.1 978.9 341.5 978.8 329.9 978.8 318.4 978.3 306.8Z" fill="url(#g1_51)"/>
<path d="M983.9 348.1 983.2 358.2 982.9 368.3 982.7 378.3 982.5 388.4 982.7 398.4 983.2 408.5 983.8 418.5 984.9 428.6 984.9 428.6 985.8 418.5 986.1 408.5 986.4 398.4 986.4 388.4 985.9 378.3 985.4 368.3 984.9 358.2 983.9 348.1Z" fill="url(#g1_60)"/><path d="M983.9 348.1 983.6 358.2 983.5 368.3 983.4 378.3 983.3 388.4 983.5 398.4 983.9 408.5 984.3 418.5 984.9 428.6 984.9 428.6 985.3 418.5 985.5 408.5 985.6 398.4 985.5 388.4 985.2 378.3 984.9 368.3 984.5 358.2 983.9 348.1Z" fill="url(#g1_61)"/>
<path d="M987.8 407 987.7 418.4 988 429.9 988.3 441.3 988.8 452.7 989.9 464.1 991.1 475.6 992.4 487 994.2 498.4 994.2 498.4 994.4 487 994.1 475.6 993.7 464.1 993.2 452.7 992.1 441.3 990.9 429.9 989.6 418.4 987.8 407Z" fill="url(#g1_100)"/><path d="M987.8 407 988.1 418.4 988.6 429.9 989.2 441.3 989.8 452.7 990.8 464.1 991.8 475.6 992.9 487 994.2 498.4 994.2 498.4 993.9 487 993.4 475.6 992.8 464.1 992.2 452.7 991.3 441.3 990.2 429.9 989.2 418.4 987.8 407Z" fill="url(#g1_101)"/>
<path d="M1000.2 404.5 999.9 416.2 1000.1 428 1000.4 439.7 1000.7 451.4 1001.8 463.2 1002.9 474.9 1004.1 486.7 1005.7 498.4 1005.7 498.4 1006 486.7 1005.8 474.9 1005.5 463.2 1005.2 451.4 1004.1 439.7 1003 428 1001.8 416.2 1000.2 404.5Z" fill="url(#g1_120)"/><path d="M1000.2 404.5 1000.3 416.2 1000.7 428 1001.2 439.7 1001.7 451.4 1002.6 463.2 1003.5 474.9 1004.5 486.7 1005.7 498.4 1005.7 498.4 1005.6 486.7 1005.1 474.9 1004.7 463.2 1004.2 451.4 1003.3 439.7 1002.4 428 1001.4 416.2 1000.2 404.5Z" fill="url(#g1_121)"/>
<path d="M1006.4 383.4 1005.9 388.4 1005.7 393.4 1005.5 398.5 1005.4 403.5 1005.3 408.5 1005.3 413.5 1005.7 418.5 1006.4 423.5 1006.4 423.5 1007.1 418.5 1007.4 413.5 1007.5 408.5 1007.4 403.5 1007.2 398.5 1007 393.4 1006.8 388.4 1006.4 383.4Z" fill="url(#g1_140)"/><path d="M1006.4 383.4 1005.9 388.4 1005.9 393.4 1005.9 398.5 1005.8 403.5 1005.8 408.5 1005.8 413.5 1005.9 418.5 1006.4 423.5 1006.4 423.5 1006.8 418.5 1007 413.5 1007 408.5 1006.9 403.5 1006.8 398.5 1006.8 393.4 1006.8 388.4 1006.4 383.4Z" fill="url(#g1_141)"/>
<path d="M1012.6 407.8 1012.3 416.4 1012.2 425 1012.1 433.7 1012.1 442.3 1012.1 450.9 1012.3 459.6 1012.8 468.2 1013.6 476.8 1013.6 476.8 1014.2 468.2 1014.4 459.6 1014.3 450.9 1014.1 442.3 1013.8 433.7 1013.5 425 1013.2 416.4 1012.6 407.8Z" fill="url(#g1_150)"/><path d="M1012.6 407.8 1012.3 416.4 1012.4 425 1012.5 433.7 1012.6 442.3 1012.6 450.9 1012.8 459.6 1013 468.2 1013.6 476.8 1013.6 476.8 1013.9 468.2 1013.9 459.6 1013.8 450.9 1013.6 442.3 1013.4 433.7 1013.3 425 1013.2 416.4 1012.6 407.8Z" fill="url(#g1_151)"/>
<path d="M1037 427.3 1035.3 436.6 1034.1 445.8 1033.1 455 1032 464.3 1031.2 473.5 1031 482.7 1030.9 492 1031.4 501.2 1031.4 501.2 1033.3 492 1034.6 482.7 1035.8 473.5 1036.3 464.3 1036.7 455 1037 445.8 1037.2 436.6 1037 427.3Z" fill="url(#g1_170)"/><path d="M1037 427.3 1035.7 436.6 1034.8 445.8 1033.9 455 1033 464.3 1032.2 473.5 1031.8 482.7 1031.4 492 1031.4 501.2 1031.4 501.2 1032.7 492 1033.8 482.7 1034.7 473.5 1035.3 464.3 1035.9 455 1036.3 445.8 1036.8 436.6 1037 427.3Z" fill="url(#g1_171)"/>
<path d="M1036.7 427.3 1036.5 434.2 1036.7 441 1037 447.8 1037.3 454.6 1037.7 461.4 1038.7 468.3 1039.8 475.1 1041.3 481.9 1041.3 481.9 1041.6 475.1 1041.5 468.3 1041.4 461.4 1040.7 454.6 1039.8 447.8 1039 441 1038 434.2 1036.7 427.3Z" fill="url(#g1_180)"/><path d="M1036.7 427.3 1036.8 434.2 1037.2 441 1037.6 447.8 1038.1 454.6 1038.6 461.4 1039.3 468.3 1040.2 475.1 1041.3 481.9 1041.3 481.9 1041.2 475.1 1040.9 468.3 1040.6 461.4 1039.9 454.6 1039.2 447.8 1038.5 441 1037.7 434.2 1036.7 427.3Z" fill="url(#g1_181)"/>
<path d="M1058.5 311.8 1058.1 319.1 1057.8 326.3 1057.7 333.5 1057.7 340.8 1057.8 348 1058 355.2 1058.1 362.5 1058.5 369.7 1058.5 369.7 1059 362.5 1059.1 355.2 1059.2 348 1059.3 340.8 1059.4 333.5 1059.2 326.3 1059 319.1 1058.5 311.8Z" fill="url(#g1_190)"/><path d="M1058.5 311.8 1058.1 319.1 1058.1 326.3 1058.1 333.5 1058.1 340.8 1058.1 348 1058.1 355.2 1058.1 362.5 1058.5 369.7 1058.5 369.7 1059 362.5 1059 355.2 1059 348 1059 340.8 1059 333.5 1059 326.3 1059 319.1 1058.5 311.8Z" fill="url(#g1_191)"/>
<path d="M1135.4 456.5 1135.2 460.9 1135.3 465.3 1135.4 469.7 1135.5 474 1135.7 478.4 1136.2 482.8 1136.7 487.2 1137.5 491.5 1137.5 491.5 1137.7 487.2 1137.7 482.8 1137.7 478.4 1137.4 474 1137 469.7 1136.5 465.3 1136.1 460.9 1135.4 456.5Z" fill="url(#g1_210)"/><path d="M1135.4 456.5 1135.2 460.9 1135.5 465.3 1135.7 469.7 1135.9 474 1136.2 478.4 1136.5 482.8 1136.8 487.2 1137.5 491.5 1137.5 491.5 1137.7 487.2 1137.4 482.8 1137.2 478.4 1137 474 1136.6 469.7 1136.4 465.3 1136.1 460.9 1135.4 456.5Z" fill="url(#g1_211)"/>
<path d="M1143.3 311.8 1142.8 324.3 1142.6 336.7 1142.4 349.2 1142.2 361.6 1142 374 1142.1 386.5 1142.5 398.9 1143.3 411.3 1143.3 411.3 1144.1 398.9 1144.5 386.5 1144.6 374 1144.4 361.6 1144.2 349.2 1144 336.7 1143.8 324.3 1143.3 311.8Z" fill="url(#g1_220)"/><path d="M1143.3 311.8 1142.8 324.3 1142.8 336.7 1142.8 349.2 1142.7 361.6 1142.6 374 1142.6 386.5 1142.8 398.9 1143.3 411.3 1143.3 411.3 1143.7 398.9 1144 386.5 1144 374 1143.9 361.6 1143.8 349.2 1143.7 336.7 1143.7 324.3 1143.3 311.8Z" fill="url(#g1_221)"/>
<path d="M1146.7 366.4 1146.2 376.6 1146 386.7 1145.8 396.9 1145.7 407 1145.5 417.2 1145.8 427.3 1146.3 437.5 1147.2 447.6 1147.2 447.6 1148 437.5 1148.4 427.3 1148.5 417.2 1148.3 407 1148 396.9 1147.7 386.7 1147.4 376.6 1146.7 366.4Z" fill="url(#g1_230)"/><path d="M1146.7 366.4 1146.3 376.6 1146.4 386.7 1146.3 396.9 1146.3 407 1146.2 417.2 1146.4 427.3 1146.7 437.5 1147.2 447.6 1147.2 447.6 1147.6 437.5 1147.8 427.3 1147.9 417.2 1147.7 407 1147.5 396.9 1147.3 386.7 1147.2 376.6 1146.7 366.4Z" fill="url(#g1_231)"/>
<path d="M1192.1 443.8 1191.8 449.5 1191.8 455.2 1191.8 461 1191.9 466.7 1192 472.4 1192.3 478.1 1193 483.8 1194.2 489.5 1194.2 489.5 1194.8 483.8 1195 478.1 1194.8 472.4 1194.4 466.7 1194 461 1193.5 455.2 1192.9 449.5 1192.1 443.8Z" fill="url(#g1_250)"/><path d="M1192.1 443.8 1191.9 449.5 1192.2 455.2 1192.3 461 1192.5 466.7 1192.6 472.4 1192.9 478.1 1193.4 483.8 1194.2 489.5 1194.2 489.5 1194.4 483.8 1194.4 478.1 1194.2 472.4 1193.8 466.7 1193.5 461 1193.1 455.2 1192.8 449.5 1192.1 443.8Z" fill="url(#g1_251)"/>
<path d="M1363.7 352.5 1363.2 365 1363 377.5 1362.8 390.1 1362.7 402.6 1362.8 415.1 1363.1 427.6 1363.5 440.2 1364.2 452.7 1364.2 452.7 1364.8 440.2 1365 427.6 1365.3 415.1 1365.3 402.6 1365 390.1 1364.7 377.5 1364.3 365 1363.7 352.5Z" fill="url(#g1_280)"/><path d="M1363.7 352.5 1363.3 365 1363.4 377.5 1363.3 390.1 1363.2 402.6 1363.3 415.1 1363.6 427.6 1363.7 440.2 1364.2 452.7 1364.2 452.7 1364.6 440.2 1364.6 427.6 1364.7 415.1 1364.7 402.6 1364.5 390.1 1364.3 377.5 1364.2 365 1363.7 352.5Z" fill="url(#g1_281)"/>
<path d="M1405.1 289 1404.2 303.6 1403.7 318.2 1403.4 332.8 1403.6 347.4 1403.8 362 1404.1 376.6 1404.4 391.2 1405.1 405.8 1405.1 405.8 1405.7 391.2 1406.1 376.6 1406.3 362 1406.6 347.4 1406.8 332.8 1406.4 318.2 1406 303.6 1405.1 289Z" fill="url(#g1_290)"/><path d="M1405.1 289 1404.6 303.6 1404.3 318.2 1404.1 332.8 1404.2 347.4 1404.4 362 1404.5 376.6 1404.6 391.2 1405.1 405.8 1405.1 405.8 1405.5 391.2 1405.6 376.6 1405.8 362 1405.9 347.4 1406 332.8 1405.8 318.2 1405.6 303.6 1405.1 289Z" fill="url(#g1_291)"/>
<path d="M1403.3 423.5 1402.8 431.9 1402.7 440.3 1402.5 448.7 1402.4 457.2 1402.3 465.6 1402.5 474 1402.8 482.4 1403.3 490.8 1403.3 490.8 1403.8 482.4 1404.1 474 1404.3 465.6 1404.2 457.2 1404.1 448.7 1403.9 440.3 1403.7 431.9 1403.3 423.5Z" fill="url(#g1_300)"/><path d="M1403.3 423.5 1402.8 431.9 1402.8 440.3 1402.8 448.7 1402.8 457.2 1402.8 465.6 1402.8 474 1402.8 482.4 1403.3 490.8 1403.3 490.8 1403.7 482.4 1403.7 474 1403.8 465.6 1403.8 457.2 1403.7 448.7 1403.7 440.3 1403.7 431.9 1403.3 423.5Z" fill="url(#g1_301)"/>
<path d="M1409.4 454 1408.9 458.6 1408.9 463.2 1408.7 467.8 1408.6 472.4 1408.5 477 1408.7 481.6 1408.9 486.2 1409.4 490.8 1409.4 490.8 1409.8 486.2 1410.1 481.6 1410.3 477 1410.2 472.4 1410.1 467.8 1409.9 463.2 1409.8 458.6 1409.4 454Z" fill="url(#g1_310)"/><path d="M1409.4 454 1408.9 458.6 1408.9 463.2 1408.9 467.8 1408.9 472.4 1408.9 477 1408.9 481.6 1408.9 486.2 1409.4 490.8 1409.4 490.8 1409.8 486.2 1409.8 481.6 1409.9 477 1409.8 472.4 1409.8 467.8 1409.8 463.2 1409.8 458.6 1409.4 454Z" fill="url(#g1_311)"/></g>
</g></g>
<rect x="895.5" y="327.5" width="524.7" height="188" fill="none" stroke="#262626" stroke-width="1.1"/>
<path d="M895.5 515.5v-5.5 M895.5 327.5v5.5 M1026.7 515.5v-5.5 M1026.7 327.5v5.5 M1157.8 515.5v-5.5 M1157.8 327.5v5.5 M1289 515.5v-5.5 M1289 327.5v5.5 M1420.2 515.5v-5.5 M1420.2 327.5v5.5 M895.5 515h5.5 M1420.2 515h-5.5 M895.5 455.2h5.5 M1420.2 455.2h-5.5 M895.5 412.8h5.5 M1420.2 412.8h-5.5 M895.5 379.8h5.5 M1420.2 379.8h-5.5 M895.5 353h5.5 M1420.2 353h-5.5 M895.5 330.2h5.5 M1420.2 330.2h-5.5" stroke="#262626" stroke-width="1.1" fill="none"/>
<g clip-path="url(#c2)"><g filter="url(#jet)" fill="#fff">
<rect x="875.5" y="569.5" width="564.7" height="228" fill="#000"/>
<g filter="url(#bA)"><path d="M980.6 688.7 979.7 693 979.1 701.5 978.9 709.9 978.8 718.4 978.6 726.9 978.4 735.3 978.2 743.8 978 752.3 977.8 760.8 977.6 769.2 977.5 777.7 977.7 786.2 982.2 790.4 986.5 786.2 986.4 777.7 986.1 769.2 985.6 760.8 985.1 752.3 984.7 743.8 984.2 735.3 983.7 726.9 983.3 718.4 982.9 709.9 982.4 701.5 981.5 693Z" fill-opacity="0.072"/><path d="M980.7 697.2 979.3 701.5 979 709.9 978.9 718.4 978.7 726.9 978.5 735.3 978.4 743.8 978.2 752.3 978 760.8 977.8 769.2 977.8 777.7 978.1 786.2 982.2 790.4 986.1 786.2 986.2 777.7 985.9 769.2 985.4 760.8 985 752.3 984.5 743.8 984.1 735.3 983.6 726.9 983.2 718.4 982.8 709.9 982.3 701.5Z" fill-opacity="0.029"/><path d="M980.7 697.2 979.5 701.5 979.2 709.9 979 718.4 978.8 726.9 978.7 735.3 978.5 743.8 978.3 752.3 978.2 760.8 978.1 769.2 978.1 777.7 978.9 786.2 982.2 790.4 985.3 786.2 985.9 777.7 985.6 769.2 985.3 760.8 984.8 752.3 984.4 743.8 983.9 735.3 983.5 726.9 983.1 718.4 982.6 709.9 982 701.5Z" fill-opacity="0.042"/><path d="M980.7 697.2 980.1 701.5 979.4 709.9 979.2 718.4 979 726.9 978.8 735.3 978.7 743.8 978.5 752.3 978.4 760.8 978.3 769.2 978.4 777.7 980.9 786.2 982.2 790.4 983.3 786.2 985.5 777.7 985.4 769.2 985 760.8 984.6 752.3 984.2 743.8 983.8 735.3 983.3 726.9 982.9 718.4 982.4 709.9 981.4 701.5Z" fill-opacity="0.060"/><path d="M980.8 705.7 979.9 709.9 979.4 718.4 979.2 726.9 979 735.3 978.9 743.8 978.8 752.3 978.7 760.8 978.7 769.2 979.3 777.7 982.1 782 984.6 777.7 985 769.2 984.8 760.8 984.4 752.3 984 743.8 983.6 735.3 983.1 726.9 982.7 718.4 981.9 709.9Z" fill-opacity="0.088"/><path d="M981 714.2 980 718.4 979.6 726.9 979.3 735.3 979.2 743.8 979.1 752.3 979.1 760.8 979.5 769.2 981.9 773.5 984.2 769.2 984.3 760.8 984.1 752.3 983.7 743.8 983.3 735.3 982.7 726.9 982 718.4Z" fill-opacity="0.132"/><path d="M981.1 722.6 980.6 726.9 980.2 735.3 980 743.8 980 752.3 980.3 760.8 981.8 765 983.2 760.8 983.2 752.3 982.9 743.8 982.4 735.3 981.7 726.9Z" fill-opacity="0.179"/>
<path d="M980.6 713.8 978.5 717.3 977 724.4 976.3 731.4 975.8 738.4 975.3 745.5 974.8 752.5 974.2 759.5 973.7 766.5 973.2 773.6 973 780.6 973.6 787.6 981.7 791.1 989.7 787.6 990.1 780.6 989.7 773.6 989 766.5 988.3 759.5 987.6 752.5 986.9 745.5 986.1 738.4 985.4 731.4 984.6 724.4 982.8 717.3Z" fill-opacity="0.079"/><path d="M980.7 720.9 978.3 724.4 976.9 731.4 976.3 738.4 975.8 745.5 975.3 752.5 974.8 759.5 974.3 766.5 973.9 773.6 973.9 780.6 976.4 787.6 981.7 791.1 986.9 787.6 989.2 780.6 989 773.6 988.4 766.5 987.7 759.5 987 752.5 986.3 745.5 985.6 738.4 984.8 731.4 983.2 724.4Z" fill-opacity="0.046"/><path d="M980.8 727.9 979 731.4 977.6 738.4 976.7 745.5 976.1 752.5 975.6 759.5 975.2 766.5 974.9 773.6 975.7 780.6 981.6 784.1 987.4 780.6 988 773.6 987.6 766.5 986.9 759.5 986.3 752.5 985.5 745.5 984.3 738.4 982.7 731.4Z" fill-opacity="0.075"/><path d="M981 741.9 979.7 745.5 978.5 752.5 977.9 759.5 977.5 766.5 977.9 773.6 981.5 777.1 985.1 773.6 985.2 766.5 984.7 759.5 983.8 752.5 982.4 745.5Z" fill-opacity="0.079"/>
<path d="M988.2 675.7 987.3 679.1 984.9 685.9 984.9 692.6 985.2 699.4 985.5 706.2 986 713 986.5 719.7 987 726.5 987.6 733.3 988.2 740.1 989.1 746.8 991.6 753.6 993.8 757 995.6 753.6 997.2 746.8 997.1 740.1 996.8 733.3 996.4 726.5 996 719.7 995.6 713 995.1 706.2 994.5 699.4 993.9 692.6 993 685.9 989.6 679.1Z" fill-opacity="0.080"/><path d="M988.7 682.5 985.8 685.9 985.4 692.6 985.6 699.4 985.9 706.2 986.4 713 986.9 719.7 987.4 726.5 988 733.3 988.8 740.1 990.3 746.8 993.4 750.2 996 746.8 996.5 740.1 996.3 733.3 996 726.5 995.6 719.7 995.2 713 994.7 706.2 994.1 699.4 993.4 692.6 992 685.9Z" fill-opacity="0.049"/><path d="M989.1 689.3 986.4 692.6 986.2 699.4 986.5 706.2 986.9 713 987.4 719.7 988 726.5 988.9 733.3 990.4 740.1 992.9 743.5 994.9 740.1 995.4 733.3 995.4 726.5 995.1 719.7 994.7 713 994.2 706.2 993.5 699.4 992.3 692.6Z" fill-opacity="0.080"/><path d="M989.6 696 988.1 699.4 988 706.2 988.4 713 989.1 719.7 990.2 726.5 992 729.9 993.3 726.5 993.4 719.7 993.2 713 992.7 706.2 991.6 699.4Z" fill-opacity="0.084"/>
<path d="M1151.7 651.9 1151.3 657.6 1150.6 669 1150.3 680.4 1150.1 691.9 1149.8 703.3 1149.5 714.7 1149.1 726.1 1148.7 737.6 1148.3 749 1147.9 760.4 1147.5 771.8 1147.3 783.2 1152.2 788.9 1156.9 783.2 1156.7 771.8 1156.3 760.4 1155.7 749 1155.2 737.6 1154.8 726.1 1154.4 714.7 1154 703.3 1153.6 691.9 1153.3 680.4 1152.9 669 1152.1 657.6Z" fill-opacity="0.071"/><path d="M1151.7 663.3 1150.7 669 1150.4 680.4 1150.1 691.9 1149.9 703.3 1149.6 714.7 1149.2 726.1 1148.9 737.6 1148.5 749 1148.1 760.4 1147.7 771.8 1147.7 783.2 1152.2 788.9 1156.6 783.2 1156.5 771.8 1156.1 760.4 1155.6 749 1155.1 737.6 1154.7 726.1 1154.2 714.7 1153.9 703.3 1153.5 691.9 1153.2 680.4 1152.8 669Z" fill-opacity="0.029"/><path d="M1151.7 663.3 1151 669 1150.5 680.4 1150.3 691.9 1150 703.3 1149.7 714.7 1149.4 726.1 1149 737.6 1148.6 749 1148.3 760.4 1148 771.8 1148.2 783.2 1152.2 788.9 1156.1 783.2 1156.2 771.8 1155.9 760.4 1155.4 749 1155 737.6 1154.5 726.1 1154.1 714.7 1153.8 703.3 1153.4 691.9 1153.1 680.4 1152.5 669Z" fill-opacity="0.041"/><path d="M1151.8 674.7 1150.8 680.4 1150.4 691.9 1150.1 703.3 1149.8 714.7 1149.5 726.1 1149.2 737.6 1148.8 749 1148.5 760.4 1148.3 771.8 1149.5 783.2 1152.2 788.9 1154.7 783.2 1155.9 771.8 1155.6 760.4 1155.2 749 1154.8 737.6 1154.4 726.1 1154 714.7 1153.6 703.3 1153.3 691.9 1152.8 680.4Z" fill-opacity="0.058"/><path d="M1151.8 674.7 1151.3 680.4 1150.7 691.9 1150.3 703.3 1150 714.7 1149.7 726.1 1149.4 737.6 1149.1 749 1148.8 760.4 1148.8 771.8 1152.1 777.5 1155.4 771.8 1155.3 760.4 1155 749 1154.6 737.6 1154.2 726.1 1153.8 714.7 1153.4 703.3 1153 691.9 1152.2 680.4Z" fill-opacity="0.085"/><path d="M1151.8 686.2 1151.4 691.9 1150.8 703.3 1150.4 714.7 1150 726.1 1149.7 737.6 1149.4 749 1149.4 760.4 1150.2 771.8 1152.1 777.5 1154 771.8 1154.8 760.4 1154.7 749 1154.3 737.6 1153.9 726.1 1153.5 714.7 1153 703.3 1152.3 691.9Z" fill-opacity="0.128"/><path d="M1151.9 709 1151.2 714.7 1150.8 726.1 1150.5 737.6 1150.3 749 1150.7 760.4 1152.1 766.1 1153.4 760.4 1153.7 749 1153.5 737.6 1153.1 726.1 1152.6 714.7Z" fill-opacity="0.173"/></g>
<g filter="url(#bB)"><path d="M928.3 679.7 927.7 689.2 927.4 698.8 927.3 708.3 927.1 717.9 927.4 727.4 928 737 928.7 746.5 929.8 756.1 929.8 756.1 930.6 746.5 930.9 737 931.1 727.4 931 717.9 930.5 708.3 930 698.8 929.4 689.2 928.3 679.7Z" fill="url(#g2_00)"/><path d="M928.3 679.7 928.1 689.2 928 698.8 928 708.3 928 717.9 928.3 727.4 928.7 737 929.1 746.5 929.8 756.1 929.8 756.1 930.2 746.5 930.3 737 930.3 727.4 930.2 717.9 929.8 708.3 929.4 698.8 929 689.2 928.3 679.7Z" fill="url(#g2_01)"/>
<path d="M948.4 706.3 947.9 709.4 947.8 712.6 947.7 715.7 947.6 718.8 947.5 721.9 947.7 725 947.9 728.1 948.4 731.2 948.4 731.2 948.8 728.1 949.1 725 949.2 721.9 949.2 718.8 949.1 715.7 948.9 712.6 948.8 709.4 948.4 706.3Z" fill="url(#g2_10)"/><path d="M948.4 706.3 947.9 709.4 947.9 712.6 947.9 715.7 947.9 718.8 947.9 721.9 947.9 725 947.9 728.1 948.4 731.2 948.4 731.2 948.8 728.1 948.8 725 948.9 721.9 948.8 718.8 948.8 715.7 948.8 712.6 948.8 709.4 948.4 706.3Z" fill="url(#g2_11)"/>
<path d="M968 659.1 968.1 672.2 968.5 685.3 968.9 698.3 969.4 711.4 969.8 724.5 970.3 737.6 971.6 750.6 973.4 763.7 973.4 763.7 973.8 750.6 973.8 737.6 972.9 724.5 972.1 711.4 971.2 698.3 970.3 685.3 969.3 672.2 968 659.1Z" fill="url(#g2_20)"/><path d="M968 659.1 968.3 672.2 968.9 685.3 969.4 698.3 970 711.4 970.5 724.5 971.1 737.6 972.1 750.6 973.4 763.7 973.4 763.7 973.3 750.6 973 737.6 972.2 724.5 971.4 711.4 970.7 698.3 969.9 685.3 969.2 672.2 968 659.1Z" fill="url(#g2_21)"/>
<path d="M978.3 608.9 977.9 614.1 977.8 619.3 977.6 624.6 977.5 629.8 977.5 635 977.6 640.3 977.9 645.5 978.3 650.8 978.3 650.8 978.8 645.5 979 640.3 979.2 635 979.1 629.8 979 624.6 978.9 619.3 978.8 614.1 978.3 608.9Z" fill="url(#g2_30)"/><path d="M978.3 608.9 977.9 614.1 977.9 619.3 977.9 624.6 977.9 629.8 977.8 635 977.9 640.3 977.9 645.5 978.3 650.8 978.3 650.8 978.8 645.5 978.8 640.3 978.8 635 978.8 629.8 978.8 624.6 978.8 619.3 978.8 614.1 978.3 608.9Z" fill="url(#g2_31)"/>
<path d="M982.9 631 982.6 640.9 982.5 650.9 982.5 660.9 982.6 670.9 982.6 680.9 982.7 690.9 983.5 700.9 984.9 710.9 984.9 710.9 985.8 700.9 986.1 690.9 985.7 680.9 985.3 670.9 984.8 660.9 984.3 650.9 983.7 640.9 982.9 631Z" fill="url(#g2_40)"/><path d="M982.9 631 982.7 640.9 982.9 650.9 983 660.9 983.2 670.9 983.3 680.9 983.5 690.9 984 700.9 984.9 710.9 984.9 710.9 985.3 700.9 985.4 690.9 985 680.9 984.6 670.9 984.3 660.9 983.9 650.9 983.6 640.9 982.9 631Z" fill="url(#g2_41)"/>
<path d="M988 672.3 987.8 683.2 988.1 694 988.4 704.9 988.8 715.7 989.9 726.6 991 737.4 992.3 748.3 994.1 759.1 994.1 759.1 994.3 748.3 994 737.4 993.7 726.6 993.2 715.7 992.1 704.9 990.9 694 989.7 683.2 988 672.3Z" fill="url(#g2_70)"/><path d="M988 672.3 988.2 683.2 988.7 694 989.2 704.9 989.8 715.7 990.7 726.6 991.7 737.4 992.8 748.3 994.1 759.1 994.1 759.1 993.8 748.3 993.4 737.4 992.8 726.6 992.2 715.7 991.3 704.9 990.3 694 989.3 683.2 988 672.3Z" fill="url(#g2_71)"/>
<path d="M1002.7 679.7 1002.2 690.1 1002 700.6 1002 711 1002 721.4 1002.4 731.9 1003.1 742.3 1004 752.8 1005.2 763.2 1005.2 763.2 1005.9 752.8 1006 742.3 1006.1 731.9 1005.9 721.4 1005.3 711 1004.6 700.6 1003.9 690.1 1002.7 679.7Z" fill="url(#g2_90)"/><path d="M1002.7 679.7 1002.5 690.1 1002.6 700.6 1002.7 711 1002.9 721.4 1003.3 731.9 1003.8 742.3 1004.4 752.8 1005.2 763.2 1005.2 763.2 1005.4 752.8 1005.4 742.3 1005.3 731.9 1005 721.4 1004.5 711 1004 700.6 1003.5 690.1 1002.7 679.7Z" fill="url(#g2_91)"/>
<path d="M1033.4 706.3 1032.8 711.6 1032.4 716.9 1032.1 722.1 1031.7 727.4 1031.5 732.7 1031.5 737.9 1031.6 743.2 1031.9 748.5 1031.9 748.5 1032.6 743.2 1033 737.9 1033.4 732.7 1033.6 727.4 1033.6 722.1 1033.6 716.9 1033.7 711.6 1033.4 706.3Z" fill="url(#g2_100)"/><path d="M1033.4 706.3 1032.8 711.6 1032.6 716.9 1032.4 722.1 1032.1 727.4 1031.9 732.7 1031.8 737.9 1031.6 743.2 1031.9 748.5 1031.9 748.5 1032.5 743.2 1032.7 737.9 1033 732.7 1033.1 727.4 1033.3 722.1 1033.5 716.9 1033.7 711.6 1033.4 706.3Z" fill="url(#g2_101)"/>
<path d="M1058.3 599.2 1057.8 601.6 1057.7 604 1057.6 606.4 1057.5 608.7 1057.4 611.1 1057.6 613.5 1057.8 615.9 1058.3 618.3 1058.3 618.3 1058.7 615.9 1059 613.5 1059.1 611.1 1059.1 608.7 1059 606.4 1058.8 604 1058.7 601.6 1058.3 599.2Z" fill="url(#g2_110)"/><path d="M1058.3 599.2 1057.8 601.6 1057.8 604 1057.8 606.4 1057.8 608.7 1057.8 611.1 1057.8 613.5 1057.8 615.9 1058.3 618.3 1058.3 618.3 1058.7 615.9 1058.7 613.5 1058.8 611.1 1058.7 608.7 1058.7 606.4 1058.7 604 1058.7 601.6 1058.3 599.2Z" fill="url(#g2_111)"/>
<path d="M1105.7 677.9 1105.3 679.7 1105.2 681.4 1105.1 683.1 1104.9 684.9 1104.9 686.6 1105.1 688.4 1105.3 690.1 1105.7 691.9 1105.7 691.9 1106.2 690.1 1106.4 688.4 1106.6 686.6 1106.5 684.9 1106.4 683.1 1106.3 681.4 1106.2 679.7 1105.7 677.9Z" fill="url(#g2_120)"/><path d="M1105.7 677.9 1105.3 679.7 1105.3 681.4 1105.3 683.1 1105.3 684.9 1105.3 686.6 1105.3 688.4 1105.3 690.1 1105.7 691.9 1105.7 691.9 1106.2 690.1 1106.2 688.4 1106.2 686.6 1106.2 684.9 1106.2 683.1 1106.2 681.4 1106.2 679.7 1105.7 677.9Z" fill="url(#g2_121)"/>
<path d="M1119.2 705.8 1118.7 711.1 1118.6 716.3 1118.4 721.5 1118.3 726.8 1118.2 732 1118.4 737.2 1118.7 742.5 1119.2 747.7 1119.2 747.7 1119.7 742.5 1120 737.2 1120.2 732 1120.1 726.8 1120 721.5 1119.8 716.3 1119.6 711.1 1119.2 705.8Z" fill="url(#g2_130)"/><path d="M1119.2 705.8 1118.7 711.1 1118.7 716.3 1118.7 721.5 1118.7 726.8 1118.6 732 1118.7 737.2 1118.7 742.5 1119.2 747.7 1119.2 747.7 1119.6 742.5 1119.6 737.2 1119.7 732 1119.7 726.8 1119.6 721.5 1119.6 716.3 1119.6 711.1 1119.2 705.8Z" fill="url(#g2_131)"/>
<path d="M1136.2 716 1135.7 720.6 1135.6 725.2 1135.4 729.8 1135.3 734.4 1135.2 739 1135.4 743.6 1135.7 748.2 1136.2 752.8 1136.2 752.8 1136.7 748.2 1137 743.6 1137.2 739 1137.1 734.4 1137 729.8 1136.8 725.2 1136.6 720.6 1136.2 716Z" fill="url(#g2_140)"/><path d="M1136.2 716 1135.7 720.6 1135.7 725.2 1135.7 729.8 1135.7 734.4 1135.6 739 1135.7 743.6 1135.7 748.2 1136.2 752.8 1136.2 752.8 1136.6 748.2 1136.6 743.6 1136.7 739 1136.7 734.4 1136.6 729.8 1136.6 725.2 1136.6 720.6 1136.2 716Z" fill="url(#g2_141)"/>
<path d="M1146.3 637.3 1146 645.2 1145.9 653.2 1145.8 661.1 1145.7 669 1145.7 677 1145.9 684.9 1146.4 692.8 1147.4 700.8 1147.4 700.8 1148 692.8 1148.3 684.9 1148.3 677 1148 669 1147.7 661.1 1147.3 653.2 1147 645.2 1146.3 637.3Z" fill="url(#g2_150)"/><path d="M1146.3 637.3 1146 645.2 1146.1 653.2 1146.2 661.1 1146.2 669 1146.3 677 1146.4 684.9 1146.8 692.8 1147.4 700.8 1147.4 700.8 1147.7 692.8 1147.8 684.9 1147.7 677 1147.5 669 1147.2 661.1 1147 653.2 1146.9 645.2 1146.3 637.3Z" fill="url(#g2_151)"/>
<path d="M1201.5 741.4 1201.1 744.1 1200.9 746.8 1200.7 749.5 1200.6 752.1 1200.5 754.8 1200.7 757.5 1201 760.2 1201.5 762.9 1201.5 762.9 1202 760.2 1202.3 757.5 1202.5 754.8 1202.4 752.1 1202.3 749.5 1202.1 746.8 1202 744.1 1201.5 741.4Z" fill="url(#g2_170)"/><path d="M1201.5 741.4 1201.1 744.1 1201.1 746.8 1201.1 749.5 1201 752.1 1201 754.8 1201.1 757.5 1201.1 760.2 1201.5 762.9 1201.5 762.9 1202 760.2 1202 757.5 1202.1 754.8 1202 752.1 1202 749.5 1202 746.8 1202 744.1 1201.5 741.4Z" fill="url(#g2_171)"/>
<path d="M1363.3 573.8 1362.8 589.6 1362.6 605.3 1362.5 621 1362.4 636.7 1362.3 652.4 1362.6 668.1 1363.2 683.8 1364.1 699.5 1364.1 699.5 1364.8 683.8 1365.2 668.1 1365.3 652.4 1365 636.7 1364.7 621 1364.4 605.3 1364 589.6 1363.3 573.8Z" fill="url(#g2_180)"/><path d="M1363.3 573.8 1363 589.6 1363 605.3 1363 621 1363 636.7 1363 652.4 1363.2 668.1 1363.5 683.8 1364.1 699.5 1364.1 699.5 1364.4 683.8 1364.6 668.1 1364.6 652.4 1364.4 636.7 1364.2 621 1364 605.3 1363.9 589.6 1363.3 573.8Z" fill="url(#g2_181)"/>
<path d="M1405.1 568.8 1404.5 577.5 1404.2 586.2 1403.9 594.9 1404 603.7 1404.2 612.4 1404.4 621.1 1404.6 629.8 1405.1 638.6 1405.1 638.6 1405.5 629.8 1405.8 621.1 1406 612.4 1406.2 603.7 1406.2 594.9 1406 586.2 1405.7 577.5 1405.1 568.8Z" fill="url(#g2_190)"/><path d="M1405.1 568.8 1404.6 577.5 1404.6 586.2 1404.4 594.9 1404.5 603.7 1404.6 612.4 1404.6 621.1 1404.6 629.8 1405.1 638.6 1405.1 638.6 1405.5 629.8 1405.5 621.1 1405.6 612.4 1405.7 603.7 1405.7 594.9 1405.6 586.2 1405.5 577.5 1405.1 568.8Z" fill="url(#g2_191)"/>
<path d="M1405.1 713.4 1404.6 715.8 1404.5 718.2 1404.3 720.6 1404.2 723 1404.1 725.3 1404.3 727.7 1404.6 730.1 1405.1 732.5 1405.1 732.5 1405.6 730.1 1405.9 727.7 1406.1 725.3 1406 723 1405.9 720.6 1405.7 718.2 1405.5 715.8 1405.1 713.4Z" fill="url(#g2_200)"/><path d="M1405.1 713.4 1404.6 715.8 1404.6 718.2 1404.6 720.6 1404.6 723 1404.5 725.3 1404.6 727.7 1404.6 730.1 1405.1 732.5 1405.1 732.5 1405.5 730.1 1405.5 727.7 1405.6 725.3 1405.6 723 1405.5 720.6 1405.5 718.2 1405.5 715.8 1405.1 713.4Z" fill="url(#g2_201)"/></g>
</g></g>
<rect x="895.5" y="589.5" width="524.7" height="188" fill="none" stroke="#262626" stroke-width="1.1"/>
<path d="M895.5 777.5v-5.5 M895.5 589.5v5.5 M1026.7 777.5v-5.5 M1026.7 589.5v5.5 M1157.8 777.5v-5.5 M1157.8 589.5v5.5 M1289 777.5v-5.5 M1289 589.5v5.5 M1420.2 777.5v-5.5 M1420.2 589.5v5.5 M895.5 777h5.5 M1420.2 777h-5.5 M895.5 717.2h5.5 M1420.2 717.2h-5.5 M895.5 674.8h5.5 M1420.2 674.8h-5.5 M895.5 641.8h5.5 M1420.2 641.8h-5.5 M895.5 615h5.5 M1420.2 615h-5.5 M895.5 592.2h5.5 M1420.2 592.2h-5.5" stroke="#262626" stroke-width="1.1" fill="none"/>
<text font-size="21.6" fill="#000" textLength="135.27" lengthAdjust="spacingAndGlyphs" font-weight="bold" stroke="#000" stroke-width="0.45" x="551.37" y="25.80">FINOKALIA</text>
<text font-size="21.6" fill="#000" textLength="99.79" lengthAdjust="spacingAndGlyphs" font-weight="bold" stroke="#000" stroke-width="0.45" x="695.50" y="25.80">Wavelet</text>
<text font-size="21.6" fill="#000" textLength="95.06" lengthAdjust="spacingAndGlyphs" font-weight="bold" stroke="#000" stroke-width="0.45" x="803.10" y="25.80">Spectra</text>
<text font-size="21.6" fill="#000" textLength="31.12" lengthAdjust="spacingAndGlyphs" font-weight="bold" stroke="#000" stroke-width="0.45" x="907.82" y="25.80">on</text>
<text font-size="21.6" fill="#000" textLength="30.55" lengthAdjust="spacingAndGlyphs" font-weight="bold" stroke="#000" stroke-width="0.45" x="946.15" y="25.80">08</text>
<text font-size="21.6" fill="#000" textLength="52.44" lengthAdjust="spacingAndGlyphs" font-weight="bold" stroke="#000" stroke-width="0.45" x="986.04" y="25.80">June</text>
<text font-size="21.6" fill="#000" textLength="62.51" lengthAdjust="spacingAndGlyphs" font-weight="bold" stroke="#000" stroke-width="0.45" x="1046.92" y="25.80">2018</text>
<text font-size="21.6" fill="#000" textLength="98.70" lengthAdjust="spacingAndGlyphs" font-weight="bold" stroke="#000" stroke-width="0.45" x="249.60" y="53.80">Filtered</text>
<text font-size="21.6" fill="#000" textLength="77.61" lengthAdjust="spacingAndGlyphs" font-weight="bold" stroke="#000" stroke-width="0.45" x="355.70" y="53.80">Series</text>
<text font-size="21.6" fill="#000" textLength="82.72" lengthAdjust="spacingAndGlyphs" font-weight="bold" stroke="#000" stroke-width="0.45" x="441.17" y="53.80">(cutoff</text>
<text font-size="21.6" fill="#000" textLength="25.04" lengthAdjust="spacingAndGlyphs" font-weight="bold" stroke="#000" stroke-width="0.45" x="532.72" y="53.80">at</text>
<text font-size="21.6" fill="#000" textLength="38.34" lengthAdjust="spacingAndGlyphs" font-weight="bold" stroke="#000" stroke-width="0.45" x="566.64" y="53.80">2.5</text>
<text font-size="21.6" fill="#000" textLength="63.67" lengthAdjust="spacingAndGlyphs" font-weight="bold" stroke="#000" stroke-width="0.45" x="612.69" y="53.80">mHz)</text>
<text font-size="21.6" fill="#000" textLength="43.24" lengthAdjust="spacingAndGlyphs" font-weight="bold" stroke="#000" stroke-width="0.45" x="1037.71" y="53.80">Pc5</text>
<text font-size="21.6" fill="#000" textLength="100.29" lengthAdjust="spacingAndGlyphs" font-weight="bold" stroke="#000" stroke-width="0.45" x="1091.50" y="53.80">Wavelet</text>
<text font-size="21.6" fill="#000" textLength="78.19" lengthAdjust="spacingAndGlyphs" font-weight="bold" stroke="#000" stroke-width="0.45" x="1199.89" y="53.80">Power</text>
<text font-size="22.7" fill="#262626" textLength="63.29" lengthAdjust="spacingAndGlyphs" x="171.29" y="282.00">00:00</text>
<text font-size="22.7" fill="#262626" textLength="63.29" lengthAdjust="spacingAndGlyphs" x="301.54" y="282.00">06:00</text>
<text font-size="22.7" fill="#262626" textLength="63.85" lengthAdjust="spacingAndGlyphs" x="431.43" y="282.00">12:00</text>
<text font-size="22.7" fill="#262626" textLength="63.85" lengthAdjust="spacingAndGlyphs" x="561.68" y="282.00">18:00</text>
<text font-size="22.7" fill="#262626" textLength="63.06" lengthAdjust="spacingAndGlyphs" x="691.81" y="282.00">24:00</text>
<text font-size="22.7" fill="#262626" textLength="12.43" lengthAdjust="spacingAndGlyphs" x="182.08" y="73.40">1</text>
<text font-size="22.7" fill="#262626" textLength="13.04" lengthAdjust="spacingAndGlyphs" x="181.27" y="166.90">0</text>
<text font-size="22.7" fill="#262626" textLength="19.74" lengthAdjust="spacingAndGlyphs" x="175.42" y="260.40">-1</text>
<text font-size="21.6" fill="#262626" textLength="15.64" lengthAdjust="spacingAndGlyphs" font-weight="bold" stroke="#262626" stroke-width="0.45" x="-0.27" y="0" transform="translate(165.10 197.20) rotate(-90)">X</text>
<text font-size="21.6" fill="#262626" textLength="49.87" lengthAdjust="spacingAndGlyphs" font-weight="bold" stroke="#262626" stroke-width="0.45" x="24.38" y="0" transform="translate(165.10 197.20) rotate(-90)">(nT)</text>
<text font-size="22.7" fill="#262626" textLength="63.29" lengthAdjust="spacingAndGlyphs" x="171.29" y="545.00">00:00</text>
<text font-size="22.7" fill="#262626" textLength="63.29" lengthAdjust="spacingAndGlyphs" x="301.54" y="545.00">06:00</text>
<text font-size="22.7" fill="#262626" textLength="63.85" lengthAdjust="spacingAndGlyphs" x="431.43" y="545.00">12:00</text>
<text font-size="22.7" fill="#262626" textLength="63.85" lengthAdjust="spacingAndGlyphs" x="561.68" y="545.00">18:00</text>
<text font-size="22.7" fill="#262626" textLength="63.06" lengthAdjust="spacingAndGlyphs" x="691.81" y="545.00">24:00</text>
<text font-size="22.7" fill="#262626" textLength="13.55" lengthAdjust="spacingAndGlyphs" x="181.06" y="335.40">2</text>
<text font-size="22.7" fill="#262626" textLength="13.04" lengthAdjust="spacingAndGlyphs" x="181.27" y="429.40">0</text>
<text font-size="22.7" fill="#262626" textLength="21.31" lengthAdjust="spacingAndGlyphs" x="173.94" y="523.40">-2</text>
<text font-size="21.6" fill="#262626" textLength="16.22" lengthAdjust="spacingAndGlyphs" font-weight="bold" stroke="#262626" stroke-width="0.45" x="-0.56" y="0" transform="translate(165.10 459.70) rotate(-90)">Y</text>
<text font-size="21.6" fill="#262626" textLength="49.87" lengthAdjust="spacingAndGlyphs" font-weight="bold" stroke="#262626" stroke-width="0.45" x="24.38" y="0" transform="translate(165.10 459.70) rotate(-90)">(nT)</text>
<text font-size="22.7" fill="#262626" textLength="63.29" lengthAdjust="spacingAndGlyphs" x="171.29" y="807.00">00:00</text>
<text font-size="22.7" fill="#262626" textLength="63.29" lengthAdjust="spacingAndGlyphs" x="301.54" y="807.00">06:00</text>
<text font-size="22.7" fill="#262626" textLength="63.85" lengthAdjust="spacingAndGlyphs" x="431.43" y="807.00">12:00</text>
<text font-size="22.7" fill="#262626" textLength="63.85" lengthAdjust="spacingAndGlyphs" x="561.68" y="807.00">18:00</text>
<text font-size="22.7" fill="#262626" textLength="63.06" lengthAdjust="spacingAndGlyphs" x="691.81" y="807.00">24:00</text>
<text font-size="22.7" fill="#262626" textLength="12.43" lengthAdjust="spacingAndGlyphs" x="182.08" y="597.40">1</text>
<text font-size="22.7" fill="#262626" textLength="13.04" lengthAdjust="spacingAndGlyphs" x="181.27" y="691.40">0</text>
<text font-size="22.7" fill="#262626" textLength="19.74" lengthAdjust="spacingAndGlyphs" x="175.42" y="785.40">-1</text>
<text font-size="21.6" fill="#262626" textLength="17.08" lengthAdjust="spacingAndGlyphs" font-weight="bold" stroke="#262626" stroke-width="0.45" x="-0.97" y="0" transform="translate(165.10 721.70) rotate(-90)">Z</text>
<text font-size="21.6" fill="#262626" textLength="49.87" lengthAdjust="spacingAndGlyphs" font-weight="bold" stroke="#262626" stroke-width="0.45" x="24.38" y="0" transform="translate(165.10 721.70) rotate(-90)">(nT)</text>
<text font-size="22.7" fill="#262626" textLength="63.29" lengthAdjust="spacingAndGlyphs" x="863.29" y="282.00">00:00</text>
<text font-size="22.7" fill="#262626" textLength="63.29" lengthAdjust="spacingAndGlyphs" x="994.46" y="282.00">06:00</text>
<text font-size="22.7" fill="#262626" textLength="63.85" lengthAdjust="spacingAndGlyphs" x="1125.28" y="282.00">12:00</text>
<text font-size="22.7" fill="#262626" textLength="63.85" lengthAdjust="spacingAndGlyphs" x="1256.46" y="282.00">18:00</text>
<text font-size="22.7" fill="#262626" textLength="63.29" lengthAdjust="spacingAndGlyphs" x="1387.99" y="282.00">00:00</text>
<text font-size="22.7" fill="#262626" textLength="13.55" lengthAdjust="spacingAndGlyphs" x="853.46" y="259.90">2</text>
<text font-size="22.7" fill="#262626" textLength="13.23" lengthAdjust="spacingAndGlyphs" x="853.75" y="200.09">3</text>
<text font-size="22.7" fill="#262626" textLength="12.95" lengthAdjust="spacingAndGlyphs" x="853.49" y="157.66">4</text>
<text font-size="22.7" fill="#262626" textLength="12.68" lengthAdjust="spacingAndGlyphs" x="854.00" y="124.75">5</text>
<text font-size="22.7" fill="#262626" textLength="13.80" lengthAdjust="spacingAndGlyphs" x="853.23" y="97.85">6</text>
<text font-size="22.7" fill="#262626" textLength="13.43" lengthAdjust="spacingAndGlyphs" x="853.57" y="75.12">7</text>
<text font-size="21.6" fill="#262626" textLength="52.30" lengthAdjust="spacingAndGlyphs" font-weight="bold" stroke="#262626" stroke-width="0.45" x="-0.32" y="0" transform="translate(842.80 226.60) rotate(-90)">freq</text>
<text font-size="21.6" fill="#262626" textLength="73.74" lengthAdjust="spacingAndGlyphs" font-weight="bold" stroke="#262626" stroke-width="0.45" x="59.57" y="0" transform="translate(842.80 226.60) rotate(-90)">(mHz)</text>
<text font-size="22.7" fill="#262626" textLength="63.29" lengthAdjust="spacingAndGlyphs" x="863.29" y="545.00">00:00</text>
<text font-size="22.7" fill="#262626" textLength="63.29" lengthAdjust="spacingAndGlyphs" x="994.46" y="545.00">06:00</text>
<text font-size="22.7" fill="#262626" textLength="63.85" lengthAdjust="spacingAndGlyphs" x="1125.28" y="545.00">12:00</text>
<text font-size="22.7" fill="#262626" textLength="63.85" lengthAdjust="spacingAndGlyphs" x="1256.46" y="545.00">18:00</text>
<text font-size="22.7" fill="#262626" textLength="63.29" lengthAdjust="spacingAndGlyphs" x="1387.99" y="545.00">00:00</text>
<text font-size="22.7" fill="#262626" textLength="13.55" lengthAdjust="spacingAndGlyphs" x="853.46" y="522.90">2</text>
<text font-size="22.7" fill="#262626" textLength="13.23" lengthAdjust="spacingAndGlyphs" x="853.75" y="463.09">3</text>
<text font-size="22.7" fill="#262626" textLength="12.95" lengthAdjust="spacingAndGlyphs" x="853.49" y="420.66">4</text>
<text font-size="22.7" fill="#262626" textLength="12.68" lengthAdjust="spacingAndGlyphs" x="854.00" y="387.75">5</text>
<text font-size="22.7" fill="#262626" textLength="13.80" lengthAdjust="spacingAndGlyphs" x="853.23" y="360.85">6</text>
<text font-size="22.7" fill="#262626" textLength="13.43" lengthAdjust="spacingAndGlyphs" x="853.57" y="338.12">7</text>
<text font-size="21.6" fill="#262626" textLength="52.30" lengthAdjust="spacingAndGlyphs" font-weight="bold" stroke="#262626" stroke-width="0.45" x="-0.32" y="0" transform="translate(842.80 489.10) rotate(-90)">freq</text>
<text font-size="21.6" fill="#262626" textLength="73.74" lengthAdjust="spacingAndGlyphs" font-weight="bold" stroke="#262626" stroke-width="0.45" x="59.57" y="0" transform="translate(842.80 489.10) rotate(-90)">(mHz)</text>
<text font-size="22.7" fill="#262626" textLength="63.29" lengthAdjust="spacingAndGlyphs" x="863.29" y="807.00">00:00</text>
<text font-size="22.7" fill="#262626" textLength="63.29" lengthAdjust="spacingAndGlyphs" x="994.46" y="807.00">06:00</text>
<text font-size="22.7" fill="#262626" textLength="63.85" lengthAdjust="spacingAndGlyphs" x="1125.28" y="807.00">12:00</text>
<text font-size="22.7" fill="#262626" textLength="63.85" lengthAdjust="spacingAndGlyphs" x="1256.46" y="807.00">18:00</text>
<text font-size="22.7" fill="#262626" textLength="63.29" lengthAdjust="spacingAndGlyphs" x="1387.99" y="807.00">00:00</text>
<text font-size="22.7" fill="#262626" textLength="13.55" lengthAdjust="spacingAndGlyphs" x="853.46" y="784.90">2</text>
<text font-size="22.7" fill="#262626" textLength="13.23" lengthAdjust="spacingAndGlyphs" x="853.75" y="725.09">3</text>
<text font-size="22.7" fill="#262626" textLength="12.95" lengthAdjust="spacingAndGlyphs" x="853.49" y="682.66">4</text>
<text font-size="22.7" fill="#262626" textLength="12.68" lengthAdjust="spacingAndGlyphs" x="854.00" y="649.75">5</text>
<text font-size="22.7" fill="#262626" textLength="13.80" lengthAdjust="spacingAndGlyphs" x="853.23" y="622.85">6</text>
<text font-size="22.7" fill="#262626" textLength="13.43" lengthAdjust="spacingAndGlyphs" x="853.57" y="600.12">7</text>
<text font-size="21.6" fill="#262626" textLength="52.30" lengthAdjust="spacingAndGlyphs" font-weight="bold" stroke="#262626" stroke-width="0.45" x="-0.32" y="0" transform="translate(842.80 751.10) rotate(-90)">freq</text>
<text font-size="21.6" fill="#262626" textLength="73.74" lengthAdjust="spacingAndGlyphs" font-weight="bold" stroke="#262626" stroke-width="0.45" x="59.57" y="0" transform="translate(842.80 751.10) rotate(-90)">(mHz)</text>
</svg>
</body></html>
